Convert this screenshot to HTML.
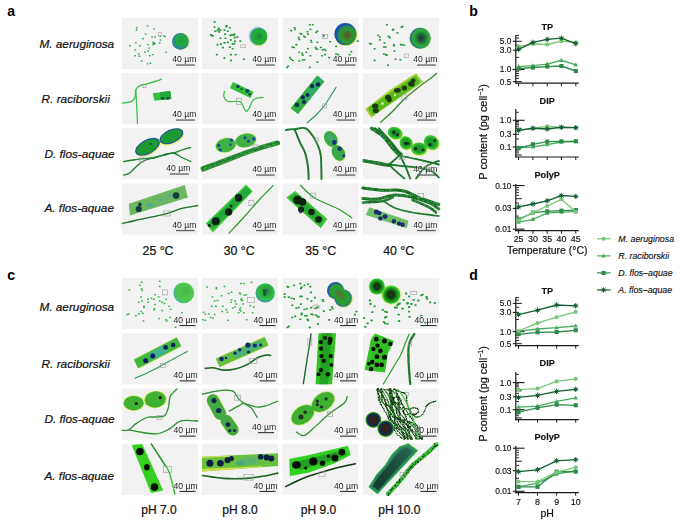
<!DOCTYPE html><html><head><meta charset="utf-8"><style>html,body{margin:0;padding:0;background:#fff}svg{display:block}</style></head><body><svg width="685" height="525" viewBox="0 0 685 525" font-family='"Liberation Sans", sans-serif'>
<rect width="685" height="525" fill="#fff"/>
<text x="7.3" y="16.4" font-size="14" text-anchor="start" font-weight="bold" font-style="normal" fill="#000" >a</text>
<text x="469.2" y="16.4" font-size="14" text-anchor="start" font-weight="bold" font-style="normal" fill="#000" >b</text>
<text x="7.3" y="279.6" font-size="14" text-anchor="start" font-weight="bold" font-style="normal" fill="#000" >c</text>
<text x="469.2" y="279.6" font-size="14" text-anchor="start" font-weight="bold" font-style="normal" fill="#000" >d</text>
<text x="76.8" y="47.7" font-size="11.8" text-anchor="middle" font-weight="normal" font-style="italic" fill="#111" stroke="#111" stroke-width="0.22">M. aeruginosa</text>
<text x="76.8" y="310.5" font-size="11.8" text-anchor="middle" font-weight="normal" font-style="italic" fill="#111" stroke="#111" stroke-width="0.22">M. aeruginosa</text>
<text x="75.7" y="103.4" font-size="11.8" text-anchor="middle" font-weight="normal" font-style="italic" fill="#111" stroke="#111" stroke-width="0.22">R. raciborskii</text>
<text x="75.7" y="367.7" font-size="11.8" text-anchor="middle" font-weight="normal" font-style="italic" fill="#111" stroke="#111" stroke-width="0.22">R. raciborskii</text>
<text x="79.5" y="157.7" font-size="11.8" text-anchor="middle" font-weight="normal" font-style="italic" fill="#111" stroke="#111" stroke-width="0.22">D. flos-aquae</text>
<text x="79.5" y="423.4" font-size="11.8" text-anchor="middle" font-weight="normal" font-style="italic" fill="#111" stroke="#111" stroke-width="0.22">D. flos-aquae</text>
<text x="79.2" y="211.8" font-size="11.8" text-anchor="middle" font-weight="normal" font-style="italic" fill="#111" stroke="#111" stroke-width="0.22">A. flos-aquae</text>
<text x="79.2" y="479.7" font-size="11.8" text-anchor="middle" font-weight="normal" font-style="italic" fill="#111" stroke="#111" stroke-width="0.22">A. flos-aquae</text>
<text x="158" y="255.1" font-size="12.3" text-anchor="middle" font-weight="normal" font-style="normal" fill="#111" stroke="#111" stroke-width="0.22">25 °C</text>
<text x="239.2" y="255.1" font-size="12.3" text-anchor="middle" font-weight="normal" font-style="normal" fill="#111" stroke="#111" stroke-width="0.22">30 °C</text>
<text x="320.7" y="255.1" font-size="12.3" text-anchor="middle" font-weight="normal" font-style="normal" fill="#111" stroke="#111" stroke-width="0.22">35 °C</text>
<text x="398.6" y="255.1" font-size="12.3" text-anchor="middle" font-weight="normal" font-style="normal" fill="#111" stroke="#111" stroke-width="0.22">40 °C</text>
<text x="158.9" y="514.3" font-size="12.0" text-anchor="middle" font-weight="normal" font-style="normal" fill="#111" stroke="#111" stroke-width="0.22">pH 7.0</text>
<text x="240" y="514.3" font-size="12.0" text-anchor="middle" font-weight="normal" font-style="normal" fill="#111" stroke="#111" stroke-width="0.22">pH 8.0</text>
<text x="318.5" y="514.3" font-size="12.0" text-anchor="middle" font-weight="normal" font-style="normal" fill="#111" stroke="#111" stroke-width="0.22">pH 9.0</text>
<text x="399.3" y="514.3" font-size="12.0" text-anchor="middle" font-weight="normal" font-style="normal" fill="#111" stroke="#111" stroke-width="0.22">pH 10.0</text>
<rect x="122" y="18" width="76" height="51" fill="#f2f2f2"/>
<rect x="202" y="18" width="76" height="51" fill="#f2f2f2"/>
<rect x="282.5" y="18" width="76" height="51" fill="#f2f2f2"/>
<rect x="363" y="18" width="76" height="51" fill="#f2f2f2"/>
<rect x="122" y="73" width="76" height="51" fill="#f2f2f2"/>
<rect x="202" y="73" width="76" height="51" fill="#f2f2f2"/>
<rect x="282.5" y="73" width="76" height="51" fill="#f2f2f2"/>
<rect x="363" y="73" width="76" height="51" fill="#f2f2f2"/>
<rect x="122" y="128" width="76" height="51" fill="#f2f2f2"/>
<rect x="202" y="128" width="76" height="51" fill="#f2f2f2"/>
<rect x="282.5" y="128" width="76" height="51" fill="#f2f2f2"/>
<rect x="363" y="128" width="76" height="51" fill="#f2f2f2"/>
<rect x="122" y="183.5" width="76" height="51" fill="#f2f2f2"/>
<rect x="202" y="183.5" width="76" height="51" fill="#f2f2f2"/>
<rect x="282.5" y="183.5" width="76" height="51" fill="#f2f2f2"/>
<rect x="363" y="183.5" width="76" height="51" fill="#f2f2f2"/>
<rect x="122" y="278" width="76" height="51" fill="#f2f2f2"/>
<rect x="202" y="278" width="76" height="51" fill="#f2f2f2"/>
<rect x="282.5" y="278" width="76" height="51" fill="#f2f2f2"/>
<rect x="363" y="278" width="76" height="51" fill="#f2f2f2"/>
<rect x="122" y="333.3" width="76" height="51" fill="#f2f2f2"/>
<rect x="202" y="333.3" width="76" height="51" fill="#f2f2f2"/>
<rect x="282.5" y="333.3" width="76" height="51" fill="#f2f2f2"/>
<rect x="363" y="333.3" width="76" height="51" fill="#f2f2f2"/>
<rect x="122" y="388.6" width="76" height="51" fill="#f2f2f2"/>
<rect x="202" y="388.6" width="76" height="51" fill="#f2f2f2"/>
<rect x="282.5" y="388.6" width="76" height="51" fill="#f2f2f2"/>
<rect x="363" y="388.6" width="76" height="51" fill="#f2f2f2"/>
<rect x="122" y="443.9" width="76" height="51" fill="#f2f2f2"/>
<rect x="202" y="443.9" width="76" height="51" fill="#f2f2f2"/>
<rect x="282.5" y="443.9" width="76" height="51" fill="#f2f2f2"/>
<rect x="363" y="443.9" width="76" height="51" fill="#f2f2f2"/>
<defs>
<filter id="bl" x="-5%" y="-5%" width="110%" height="110%"><feGaussianBlur stdDeviation="0.35"/></filter>
<filter id="bl2" x="-20%" y="-20%" width="140%" height="140%"><feGaussianBlur stdDeviation="0.7"/></filter>
<radialGradient id="ma1" cx="0.55" cy="0.45" r="0.5"><stop offset="0" stop-color="#1a9a40"/><stop offset="0.45" stop-color="#20b030"/><stop offset="0.75" stop-color="#2a9a70"/><stop offset="1" stop-color="#2a80a0"/></radialGradient>
<radialGradient id="ma2" cx="0.55" cy="0.5" r="0.5"><stop offset="0" stop-color="#2a6a40"/><stop offset="0.25" stop-color="#1e9a3a"/><stop offset="0.6" stop-color="#20b030"/><stop offset="0.88" stop-color="#22a848"/><stop offset="1" stop-color="#60a8c0"/></radialGradient>
<radialGradient id="ma3" cx="0.58" cy="0.55" r="0.5"><stop offset="0" stop-color="#6a5028"/><stop offset="0.25" stop-color="#4a7028"/><stop offset="0.55" stop-color="#2a9a30"/><stop offset="0.8" stop-color="#2a8a50"/><stop offset="1" stop-color="#1a50b0"/></radialGradient>
<radialGradient id="ma4" cx="0.55" cy="0.5" r="0.5"><stop offset="0" stop-color="#1e3a3a"/><stop offset="0.35" stop-color="#24603c"/><stop offset="0.65" stop-color="#28a038"/><stop offset="0.88" stop-color="#30a848"/><stop offset="1" stop-color="#2a6a90"/></radialGradient>
<radialGradient id="mc1" cx="0.62" cy="0.42" r="0.6"><stop offset="0" stop-color="#44b048"/><stop offset="0.5" stop-color="#50c848"/><stop offset="0.85" stop-color="#4cc458"/><stop offset="1" stop-color="#50b0a0"/></radialGradient>
<radialGradient id="mc2" cx="0.55" cy="0.4" r="0.6"><stop offset="0" stop-color="#2a6a40"/><stop offset="0.3" stop-color="#2aa040"/><stop offset="0.7" stop-color="#30c040"/><stop offset="1" stop-color="#3a9ab0"/></radialGradient>
<radialGradient id="mc3" cx="0.55" cy="0.55" r="0.5"><stop offset="0" stop-color="#6a5a20"/><stop offset="0.35" stop-color="#3a8a30"/><stop offset="0.7" stop-color="#2a9a30"/><stop offset="1" stop-color="#2060a0"/></radialGradient>
<radialGradient id="mc4" cx="0.5" cy="0.5" r="0.5"><stop offset="0" stop-color="#1a4a1a"/><stop offset="0.3" stop-color="#0e300e"/><stop offset="0.55" stop-color="#1a6a1a"/><stop offset="0.8" stop-color="#20b020"/><stop offset="1" stop-color="#30d030"/></radialGradient>
<radialGradient id="dk" cx="0.5" cy="0.5" r="0.5"><stop offset="0" stop-color="#3a2010"/><stop offset="0.5" stop-color="#2a2020"/><stop offset="0.75" stop-color="#102a60"/><stop offset="0.9" stop-color="#2a8a30"/><stop offset="1" stop-color="#d8f040"/></radialGradient>
</defs>
<g filter="url(#bl)">
<rect x="136.1" y="27.0" width="1.7" height="1.4" rx="0.4" fill="#22a845"/>
<rect x="135.6" y="29.3" width="1.7" height="1.4" rx="0.4" fill="#22a845"/>
<rect x="146.7" y="25.2" width="1.7" height="1.4" rx="0.4" fill="#22a845"/>
<rect x="153.1" y="28.2" width="1.7" height="1.4" rx="0.4" fill="#22a845"/>
<rect x="144.8" y="33.4" width="1.7" height="1.4" rx="0.4" fill="#22a845"/>
<rect x="151.2" y="36.3" width="1.7" height="1.4" rx="0.4" fill="#22a845"/>
<rect x="154.2" y="36.3" width="1.7" height="1.4" rx="0.4" fill="#22a845"/>
<rect x="159.5" y="35.7" width="1.7" height="1.4" rx="0.4" fill="#22a845"/>
<rect x="163.0" y="35.2" width="1.7" height="1.4" rx="0.4" fill="#22a845"/>
<rect x="142.0" y="38.1" width="1.7" height="1.4" rx="0.4" fill="#22a845"/>
<rect x="159.5" y="39.3" width="1.7" height="1.4" rx="0.4" fill="#22a845"/>
<rect x="158.8" y="42.2" width="1.7" height="1.4" rx="0.4" fill="#22a845"/>
<rect x="153.1" y="42.8" width="1.7" height="1.4" rx="0.4" fill="#22a845"/>
<rect x="147.2" y="43.9" width="1.7" height="1.4" rx="0.4" fill="#22a845"/>
<rect x="139.1" y="45.1" width="1.7" height="1.4" rx="0.4" fill="#22a845"/>
<rect x="135.0" y="42.2" width="1.7" height="1.4" rx="0.4" fill="#22a845"/>
<rect x="129.1" y="45.1" width="1.7" height="1.4" rx="0.4" fill="#22a845"/>
<rect x="148.3" y="47.4" width="1.7" height="1.4" rx="0.4" fill="#22a845"/>
<rect x="147.2" y="50.3" width="1.7" height="1.4" rx="0.4" fill="#22a845"/>
<rect x="144.2" y="51.5" width="1.7" height="1.4" rx="0.4" fill="#22a845"/>
<rect x="134.3" y="49.2" width="1.7" height="1.4" rx="0.4" fill="#22a845"/>
<rect x="137.8" y="53.3" width="1.7" height="1.4" rx="0.4" fill="#22a845"/>
<rect x="134.3" y="55.0" width="1.7" height="1.4" rx="0.4" fill="#22a845"/>
<rect x="138.5" y="55.6" width="1.7" height="1.4" rx="0.4" fill="#22a845"/>
<rect x="151.8" y="53.9" width="1.7" height="1.4" rx="0.4" fill="#22a845"/>
<rect x="149.0" y="55.0" width="1.7" height="1.4" rx="0.4" fill="#22a845"/>
<rect x="140.8" y="60.3" width="1.7" height="1.4" rx="0.4" fill="#22a845"/>
<rect x="146.7" y="63.2" width="1.7" height="1.4" rx="0.4" fill="#22a845"/>
<rect x="149.6" y="62.6" width="1.7" height="1.4" rx="0.4" fill="#22a845"/>
<rect x="165.2" y="51.5" width="1.7" height="1.4" rx="0.4" fill="#22a845"/>
<rect x="164.2" y="35.8" width="1.7" height="1.4" rx="0.4" fill="#22a845"/>
<polygon points="152.5,41.0 156.0,43.5 152.5,46.0" fill="#22a845" />
<circle cx="181.2" cy="41.2" r="8.6" fill="#e6f060"/>
<circle cx="180.4" cy="41.4" r="8.4" fill="url(#ma1)"/>
<rect x="158.4" y="32.7" width="3.2" height="3.2" fill="none" stroke="#9a9a9a" stroke-width="0.6"/>
<rect x="213.5" y="21.0" width="2.1" height="1.7" rx="0.4" fill="#249a3c"/>
<rect x="213.5" y="26.3" width="2.1" height="1.7" rx="0.4" fill="#249a3c"/>
<rect x="225.2" y="25.7" width="2.1" height="1.7" rx="0.4" fill="#249a3c"/>
<rect x="228.8" y="26.9" width="2.1" height="1.7" rx="0.4" fill="#249a3c"/>
<rect x="214.1" y="30.4" width="2.1" height="1.7" rx="0.4" fill="#249a3c"/>
<rect x="217.6" y="28.6" width="2.1" height="1.7" rx="0.4" fill="#249a3c"/>
<rect x="219.3" y="29.2" width="2.1" height="1.7" rx="0.4" fill="#249a3c"/>
<rect x="218.2" y="31.0" width="2.1" height="1.7" rx="0.4" fill="#249a3c"/>
<rect x="223.4" y="29.2" width="2.1" height="1.7" rx="0.4" fill="#249a3c"/>
<rect x="224.0" y="33.3" width="2.1" height="1.7" rx="0.4" fill="#249a3c"/>
<rect x="226.9" y="30.4" width="2.1" height="1.7" rx="0.4" fill="#249a3c"/>
<rect x="210.6" y="34.5" width="2.1" height="1.7" rx="0.4" fill="#249a3c"/>
<rect x="211.8" y="35.1" width="2.1" height="1.7" rx="0.4" fill="#249a3c"/>
<rect x="219.3" y="37.4" width="2.1" height="1.7" rx="0.4" fill="#249a3c"/>
<rect x="224.6" y="37.4" width="2.1" height="1.7" rx="0.4" fill="#249a3c"/>
<rect x="229.3" y="34.5" width="2.1" height="1.7" rx="0.4" fill="#249a3c"/>
<rect x="231.6" y="33.9" width="2.1" height="1.7" rx="0.4" fill="#249a3c"/>
<rect x="233.4" y="33.3" width="2.1" height="1.7" rx="0.4" fill="#249a3c"/>
<rect x="233.9" y="36.8" width="2.1" height="1.7" rx="0.4" fill="#249a3c"/>
<rect x="236.3" y="36.2" width="2.1" height="1.7" rx="0.4" fill="#249a3c"/>
<rect x="229.9" y="39.1" width="2.1" height="1.7" rx="0.4" fill="#249a3c"/>
<rect x="233.9" y="40.3" width="2.1" height="1.7" rx="0.4" fill="#249a3c"/>
<rect x="239.2" y="40.3" width="2.1" height="1.7" rx="0.4" fill="#249a3c"/>
<rect x="216.4" y="43.8" width="2.1" height="1.7" rx="0.4" fill="#249a3c"/>
<rect x="219.9" y="43.2" width="2.1" height="1.7" rx="0.4" fill="#249a3c"/>
<rect x="223.4" y="42.1" width="2.1" height="1.7" rx="0.4" fill="#249a3c"/>
<rect x="226.9" y="41.5" width="2.1" height="1.7" rx="0.4" fill="#249a3c"/>
<rect x="231.6" y="43.2" width="2.1" height="1.7" rx="0.4" fill="#249a3c"/>
<rect x="233.4" y="42.7" width="2.1" height="1.7" rx="0.4" fill="#249a3c"/>
<rect x="221.8" y="46.7" width="2.1" height="1.7" rx="0.4" fill="#249a3c"/>
<rect x="228.8" y="46.2" width="2.1" height="1.7" rx="0.4" fill="#249a3c"/>
<rect x="231.6" y="47.9" width="2.1" height="1.7" rx="0.4" fill="#249a3c"/>
<rect x="215.8" y="53.8" width="2.1" height="1.7" rx="0.4" fill="#249a3c"/>
<rect x="229.9" y="53.8" width="2.1" height="1.7" rx="0.4" fill="#249a3c"/>
<rect x="234.5" y="53.8" width="2.1" height="1.7" rx="0.4" fill="#249a3c"/>
<rect x="223.4" y="57.3" width="2.1" height="1.7" rx="0.4" fill="#249a3c"/>
<rect x="229.9" y="59.6" width="2.1" height="1.7" rx="0.4" fill="#249a3c"/>
<rect x="242.8" y="58.4" width="2.1" height="1.7" rx="0.4" fill="#249a3c"/>
<rect x="216.4" y="29.8" width="2.1" height="1.7" rx="0.4" fill="#249a3c"/>
<rect x="230.4" y="33.9" width="2.1" height="1.7" rx="0.4" fill="#249a3c"/>
<rect x="232.8" y="34.5" width="2.1" height="1.7" rx="0.4" fill="#249a3c"/>
<rect x="210.0" y="33.9" width="2.1" height="1.7" rx="0.4" fill="#249a3c"/>
<rect x="217.6" y="27.5" width="2.1" height="1.7" rx="0.4" fill="#249a3c"/>
<rect x="225.8" y="25.1" width="2.1" height="1.7" rx="0.4" fill="#249a3c"/>
<circle cx="257.8" cy="35.8" r="9.7" fill="#b8d0e8" opacity="0.6" filter="url(#bl2)"/>
<circle cx="258.6" cy="37.4" r="9" fill="#d8e860"/>
<circle cx="258.4" cy="36.4" r="8.9" fill="url(#ma2)"/>
<rect x="240.8" y="44.9" width="4.5" height="2.8" fill="none" stroke="#9a9a9a" stroke-width="0.6"/>
<rect x="290.1" y="29.8" width="2.0" height="1.6" rx="0.4" fill="#229a38"/>
<rect x="293.6" y="26.9" width="2.0" height="1.6" rx="0.4" fill="#229a38"/>
<rect x="294.2" y="28.6" width="2.0" height="1.6" rx="0.4" fill="#229a38"/>
<rect x="299.4" y="32.7" width="2.0" height="1.6" rx="0.4" fill="#229a38"/>
<rect x="300.6" y="33.3" width="2.0" height="1.6" rx="0.4" fill="#229a38"/>
<rect x="306.5" y="31.0" width="2.0" height="1.6" rx="0.4" fill="#229a38"/>
<rect x="307.0" y="33.3" width="2.0" height="1.6" rx="0.4" fill="#229a38"/>
<rect x="308.8" y="24.0" width="2.0" height="1.6" rx="0.4" fill="#229a38"/>
<rect x="311.7" y="24.0" width="2.0" height="1.6" rx="0.4" fill="#229a38"/>
<rect x="309.4" y="28.6" width="2.0" height="1.6" rx="0.4" fill="#229a38"/>
<rect x="316.4" y="30.4" width="2.0" height="1.6" rx="0.4" fill="#229a38"/>
<rect x="315.2" y="31.6" width="2.0" height="1.6" rx="0.4" fill="#229a38"/>
<rect x="297.7" y="36.8" width="2.0" height="1.6" rx="0.4" fill="#229a38"/>
<rect x="298.3" y="38.6" width="2.0" height="1.6" rx="0.4" fill="#229a38"/>
<rect x="302.9" y="35.6" width="2.0" height="1.6" rx="0.4" fill="#229a38"/>
<rect x="304.1" y="36.2" width="2.0" height="1.6" rx="0.4" fill="#229a38"/>
<rect x="310.0" y="39.7" width="2.0" height="1.6" rx="0.4" fill="#229a38"/>
<rect x="310.5" y="41.5" width="2.0" height="1.6" rx="0.4" fill="#229a38"/>
<rect x="316.4" y="41.5" width="2.0" height="1.6" rx="0.4" fill="#229a38"/>
<rect x="322.8" y="35.1" width="2.0" height="1.6" rx="0.4" fill="#229a38"/>
<rect x="329.2" y="40.9" width="2.0" height="1.6" rx="0.4" fill="#229a38"/>
<rect x="335.1" y="45.6" width="2.0" height="1.6" rx="0.4" fill="#229a38"/>
<rect x="291.3" y="46.2" width="2.0" height="1.6" rx="0.4" fill="#229a38"/>
<rect x="293.0" y="46.7" width="2.0" height="1.6" rx="0.4" fill="#229a38"/>
<rect x="295.4" y="43.8" width="2.0" height="1.6" rx="0.4" fill="#229a38"/>
<rect x="307.0" y="47.9" width="2.0" height="1.6" rx="0.4" fill="#229a38"/>
<rect x="314.6" y="46.7" width="2.0" height="1.6" rx="0.4" fill="#229a38"/>
<rect x="315.2" y="47.9" width="2.0" height="1.6" rx="0.4" fill="#229a38"/>
<rect x="316.4" y="48.5" width="2.0" height="1.6" rx="0.4" fill="#229a38"/>
<rect x="319.9" y="46.7" width="2.0" height="1.6" rx="0.4" fill="#229a38"/>
<rect x="321.6" y="49.1" width="2.0" height="1.6" rx="0.4" fill="#229a38"/>
<rect x="323.4" y="48.5" width="2.0" height="1.6" rx="0.4" fill="#229a38"/>
<rect x="324.6" y="49.7" width="2.0" height="1.6" rx="0.4" fill="#229a38"/>
<rect x="298.3" y="51.4" width="2.0" height="1.6" rx="0.4" fill="#229a38"/>
<rect x="301.2" y="52.6" width="2.0" height="1.6" rx="0.4" fill="#229a38"/>
<rect x="301.8" y="54.3" width="2.0" height="1.6" rx="0.4" fill="#229a38"/>
<rect x="305.3" y="51.4" width="2.0" height="1.6" rx="0.4" fill="#229a38"/>
<rect x="309.4" y="54.9" width="2.0" height="1.6" rx="0.4" fill="#229a38"/>
<rect x="321.1" y="54.9" width="2.0" height="1.6" rx="0.4" fill="#229a38"/>
<rect x="324.0" y="53.8" width="2.0" height="1.6" rx="0.4" fill="#229a38"/>
<rect x="328.1" y="56.7" width="2.0" height="1.6" rx="0.4" fill="#229a38"/>
<rect x="335.1" y="53.2" width="2.0" height="1.6" rx="0.4" fill="#229a38"/>
<rect x="337.4" y="53.8" width="2.0" height="1.6" rx="0.4" fill="#229a38"/>
<rect x="348.5" y="53.8" width="2.0" height="1.6" rx="0.4" fill="#229a38"/>
<rect x="350.3" y="50.8" width="2.0" height="1.6" rx="0.4" fill="#229a38"/>
<rect x="288.9" y="56.7" width="2.0" height="1.6" rx="0.4" fill="#229a38"/>
<rect x="290.1" y="58.4" width="2.0" height="1.6" rx="0.4" fill="#229a38"/>
<rect x="291.9" y="59.6" width="2.0" height="1.6" rx="0.4" fill="#229a38"/>
<rect x="298.3" y="60.2" width="2.0" height="1.6" rx="0.4" fill="#229a38"/>
<rect x="301.8" y="59.0" width="2.0" height="1.6" rx="0.4" fill="#229a38"/>
<rect x="303.5" y="59.0" width="2.0" height="1.6" rx="0.4" fill="#229a38"/>
<rect x="316.4" y="61.3" width="2.0" height="1.6" rx="0.4" fill="#229a38"/>
<rect x="287.2" y="65.4" width="2.0" height="1.6" rx="0.4" fill="#229a38"/>
<rect x="286.0" y="66.6" width="2.0" height="1.6" rx="0.4" fill="#229a38"/>
<rect x="308.8" y="66.6" width="2.0" height="1.6" rx="0.4" fill="#229a38"/>
<rect x="356.7" y="40.3" width="2.0" height="1.6" rx="0.4" fill="#229a38"/>
<circle cx="346" cy="34.8" r="11.1" fill="#c8e040"/>
<circle cx="345.4" cy="34.1" r="11" fill="url(#ma3)"/>
<rect x="322.6" y="34.5" width="4.8" height="3.8" fill="none" stroke="#9a9a9a" stroke-width="0.6"/>
<rect x="385.9" y="24.0" width="2.0" height="1.6" rx="0.4" fill="#23963a"/>
<rect x="392.3" y="28.6" width="2.0" height="1.6" rx="0.4" fill="#23963a"/>
<rect x="391.7" y="29.2" width="2.0" height="1.6" rx="0.4" fill="#23963a"/>
<rect x="396.4" y="32.1" width="2.0" height="1.6" rx="0.4" fill="#23963a"/>
<rect x="400.5" y="26.3" width="2.0" height="1.6" rx="0.4" fill="#23963a"/>
<rect x="401.6" y="25.7" width="2.0" height="1.6" rx="0.4" fill="#23963a"/>
<rect x="377.1" y="34.5" width="2.0" height="1.6" rx="0.4" fill="#23963a"/>
<rect x="378.9" y="36.2" width="2.0" height="1.6" rx="0.4" fill="#23963a"/>
<rect x="378.9" y="39.1" width="2.0" height="1.6" rx="0.4" fill="#23963a"/>
<rect x="387.6" y="35.6" width="2.0" height="1.6" rx="0.4" fill="#23963a"/>
<rect x="388.8" y="36.8" width="2.0" height="1.6" rx="0.4" fill="#23963a"/>
<rect x="368.9" y="42.7" width="2.0" height="1.6" rx="0.4" fill="#23963a"/>
<rect x="370.1" y="43.2" width="2.0" height="1.6" rx="0.4" fill="#23963a"/>
<rect x="383.5" y="42.1" width="2.0" height="1.6" rx="0.4" fill="#23963a"/>
<rect x="382.9" y="46.2" width="2.0" height="1.6" rx="0.4" fill="#23963a"/>
<rect x="384.7" y="46.2" width="2.0" height="1.6" rx="0.4" fill="#23963a"/>
<rect x="392.9" y="43.8" width="2.0" height="1.6" rx="0.4" fill="#23963a"/>
<rect x="392.9" y="45.0" width="2.0" height="1.6" rx="0.4" fill="#23963a"/>
<rect x="399.9" y="43.8" width="2.0" height="1.6" rx="0.4" fill="#23963a"/>
<rect x="401.6" y="43.8" width="2.0" height="1.6" rx="0.4" fill="#23963a"/>
<rect x="403.4" y="44.4" width="2.0" height="1.6" rx="0.4" fill="#23963a"/>
<rect x="373.6" y="47.9" width="2.0" height="1.6" rx="0.4" fill="#23963a"/>
<rect x="393.5" y="50.2" width="2.0" height="1.6" rx="0.4" fill="#23963a"/>
<rect x="382.9" y="53.2" width="2.0" height="1.6" rx="0.4" fill="#23963a"/>
<rect x="384.7" y="53.8" width="2.0" height="1.6" rx="0.4" fill="#23963a"/>
<rect x="385.9" y="54.3" width="2.0" height="1.6" rx="0.4" fill="#23963a"/>
<rect x="394.6" y="58.4" width="2.0" height="1.6" rx="0.4" fill="#23963a"/>
<rect x="399.3" y="59.0" width="2.0" height="1.6" rx="0.4" fill="#23963a"/>
<rect x="373.6" y="59.6" width="2.0" height="1.6" rx="0.4" fill="#23963a"/>
<rect x="387.0" y="64.3" width="2.0" height="1.6" rx="0.4" fill="#23963a"/>
<circle cx="420.2" cy="38.4" r="10.6" fill="#88d040"/>
<circle cx="420.2" cy="38.2" r="10.4" fill="url(#ma4)"/>
<rect x="404.6" y="54.0" width="3.8" height="3.4" fill="none" stroke="#9a9a9a" stroke-width="0.6"/>
<path d="M122.3,103.1 C123.9,102.8 129.5,102.5 131.7,101.4 C133.8,100.3 134.5,98.7 135.2,96.7 C135.9,94.8 135.0,91.6 135.8,89.7 C136.6,87.8 138.1,86.6 139.9,85.6 C141.8,84.6 144.4,84.6 146.9,83.9 C149.4,83.2 152.6,82.3 155.0,81.5 C157.4,80.7 160.4,79.6 161.5,79.2" fill="none" stroke="#40c048" stroke-width="1.4" stroke-linecap="round" stroke-linejoin="round"/>
<path d="M135.8,89.7 C135.9,91.5 136.1,94.6 136.4,100.2 C136.7,105.8 137.3,119.6 137.5,123.5" fill="none" stroke="#40c048" stroke-width="1.3" stroke-linecap="round" stroke-linejoin="round"/>
<polygon points="152.7,93.2 170.2,90.9 171.4,99.0 154.5,100.8" fill="#30c040" />
<polygon points="160.0,92.3 170.2,90.9 171.4,99.0 160.5,100.0" fill="#22a838" />
<ellipse cx="162.6" cy="98.3" rx="1.9" ry="1.4" fill="#105040"/>
<ellipse cx="167.9" cy="98.4" rx="1.6" ry="1.3" fill="#105040"/>
<rect x="143.0" y="84.7" width="3" height="3" fill="none" stroke="#9a9a9a" stroke-width="0.6"/>
<rect x="-11.5" y="-3.4" width="23.0" height="6.8" rx="0.8" fill="#30c038" transform="translate(241.7,90.0) rotate(25.8)" />
<ellipse cx="238" cy="86.4" rx="1.7" ry="1.7" fill="#0a3a5a"/>
<ellipse cx="241.5" cy="89.1" rx="1.1" ry="1.1" fill="#0a3a5a"/>
<ellipse cx="247.3" cy="91" rx="1.9" ry="1.9" fill="#0a3a5a"/>
<ellipse cx="249.6" cy="94.2" rx="1.2" ry="1.2" fill="#0a3a5a"/>
<path d="M224.5,91.4 C224.4,92.3 223.3,95.0 223.9,96.7 C224.5,98.4 226.2,100.6 228.0,101.4 C229.8,102.2 232.8,101.2 235.0,101.4 C237.2,101.6 239.1,100.7 240.9,102.3 C242.7,103.9 244.2,110.0 245.6,111.0 C247.0,112.0 247.8,110.3 249.1,108.4 C250.4,106.5 251.4,101.3 253.7,99.5 C256.0,97.7 261.5,97.7 263.1,97.3" fill="none" stroke="#40c048" stroke-width="1.3" stroke-linecap="round" stroke-linejoin="round"/>
<rect x="236.6" y="98.4" width="5" height="6" fill="none" stroke="#9a9a9a" stroke-width="0.6"/>
<rect x="-21.1" y="-4.8" width="42.2" height="9.6" rx="0.8" fill="#30b040" transform="translate(307.6,94.8) rotate(-51.1)" />
<rect x="-12.7" y="-3.0" width="25.4" height="6.0" rx="0.8" fill="#30a890" transform="translate(313.4,88.7) rotate(-54.3)" opacity="0.6"/>
<ellipse cx="296.9" cy="104.9" rx="2.2" ry="2.2" fill="#0a2a50"/>
<ellipse cx="302.8" cy="97.3" rx="2.1" ry="2.1" fill="#0a2a50"/>
<ellipse cx="304" cy="102" rx="2" ry="2" fill="#0a2a50"/>
<ellipse cx="307.5" cy="95" rx="2" ry="2" fill="#0a2a50"/>
<ellipse cx="312.1" cy="86.2" rx="2.1" ry="2.1" fill="#0a2a50"/>
<ellipse cx="318" cy="84.4" rx="2.2" ry="2.2" fill="#0a2a50"/>
<path d="M306.9,123.0 C308.2,121.8 312.3,118.6 315.0,116.0 C317.7,113.4 320.7,110.4 323.2,107.2 C325.7,104.0 327.9,100.3 330.0,97.0 C332.1,93.7 335.1,89.0 336.1,87.4" fill="none" stroke="#2a9a60" stroke-width="1.1" stroke-linecap="round" stroke-linejoin="round"/>
<rect x="322.4" y="104.0" width="4" height="4" fill="none" stroke="#9a9a9a" stroke-width="0.6"/>
<polygon points="365.3,109.0 371.1,117.7 395.0,101.0 423.1,82.1 416.1,73.3 390.0,90.0" fill="#a0d030" />
<rect x="-29.1" y="-4.5" width="58.2" height="9.0" rx="2.0" fill="#58b820" transform="translate(394.0,95.5) rotate(-34.5)" />
<ellipse cx="375.2" cy="106" rx="3.2" ry="2.6" fill="#1a3a10"/>
<ellipse cx="375.8" cy="110.7" rx="3" ry="2.4" fill="#1a3a10"/>
<ellipse cx="388" cy="97.3" rx="3" ry="2.6" fill="#1a3a10"/>
<ellipse cx="389.2" cy="99.6" rx="2.6" ry="2.6" fill="#1a3a10"/>
<ellipse cx="397.4" cy="90.3" rx="3.4" ry="2.4" fill="#1a3a10"/>
<ellipse cx="404.4" cy="88" rx="2.6" ry="2.6" fill="#1a3a10"/>
<ellipse cx="411.4" cy="83.9" rx="3.2" ry="2.6" fill="#1a3a10"/>
<ellipse cx="413.2" cy="80.8" rx="2.4" ry="2.4" fill="#1a3a10"/>
<ellipse cx="382.5" cy="103.5" rx="1.4" ry="1.4" fill="#c8f080"/>
<ellipse cx="395" cy="95" rx="1.2" ry="1.2" fill="#c8f080"/>
<path d="M380.4,122.4 C382.3,120.7 388.0,115.9 392.0,112.0 C396.0,108.1 399.7,103.3 404.4,99.0 C409.1,94.7 415.6,89.5 420.0,86.0 C424.4,82.5 428.2,80.1 431.0,78.0 C433.8,75.9 435.6,74.1 436.5,73.3" fill="none" stroke="#3a8a2a" stroke-width="1.3" stroke-linecap="round" stroke-linejoin="round"/>
<rect x="401.9" y="94.8" width="5" height="5" fill="none" stroke="#9a9a9a" stroke-width="0.6"/>
<path d="M123.5,161.6 C125.1,161.3 129.7,160.5 133.0,160.0 C136.3,159.5 139.7,159.1 143.4,158.7 C147.1,158.3 151.1,158.3 155.0,157.5 C158.9,156.7 163.6,154.8 166.7,154.0 C169.8,153.2 171.1,153.6 173.7,152.9 C176.2,152.2 179.2,150.9 182.0,150.0 C184.8,149.1 189.2,147.8 190.7,147.3" fill="none" stroke="#1a7a30" stroke-width="1.3" stroke-linecap="round" stroke-linejoin="round"/>
<circle cx="123.3" cy="161.5" r="0.39" fill="#3aa040"/>
<circle cx="123.9" cy="161.4" r="0.40" fill="#3aa040"/>
<circle cx="125.1" cy="161.4" r="0.31" fill="#3aa040"/>
<circle cx="125.9" cy="161.1" r="0.44" fill="#3aa040"/>
<circle cx="126.8" cy="161.2" r="0.35" fill="#3aa040"/>
<circle cx="128.1" cy="160.7" r="0.43" fill="#3aa040"/>
<circle cx="129.3" cy="160.6" r="0.37" fill="#3aa040"/>
<circle cx="132.8" cy="160.2" r="0.44" fill="#3aa040"/>
<circle cx="134.1" cy="160.0" r="0.39" fill="#3aa040"/>
<circle cx="135.2" cy="159.8" r="0.32" fill="#3aa040"/>
<circle cx="135.9" cy="159.3" r="0.34" fill="#3aa040"/>
<circle cx="137.0" cy="159.5" r="0.41" fill="#3aa040"/>
<circle cx="141.1" cy="158.8" r="0.38" fill="#3aa040"/>
<circle cx="142.4" cy="158.6" r="0.32" fill="#3aa040"/>
<circle cx="144.5" cy="158.4" r="0.35" fill="#3aa040"/>
<circle cx="146.7" cy="158.3" r="0.36" fill="#3aa040"/>
<circle cx="148.7" cy="158.3" r="0.31" fill="#3aa040"/>
<circle cx="149.9" cy="158.0" r="0.32" fill="#3aa040"/>
<circle cx="150.8" cy="158.3" r="0.36" fill="#3aa040"/>
<circle cx="151.9" cy="157.9" r="0.35" fill="#3aa040"/>
<circle cx="152.9" cy="157.6" r="0.31" fill="#3aa040"/>
<circle cx="154.1" cy="157.8" r="0.43" fill="#3aa040"/>
<circle cx="154.9" cy="157.6" r="0.43" fill="#3aa040"/>
<circle cx="155.8" cy="157.2" r="0.33" fill="#3aa040"/>
<circle cx="156.9" cy="156.8" r="0.42" fill="#3aa040"/>
<circle cx="158.4" cy="156.5" r="0.32" fill="#3aa040"/>
<circle cx="160.4" cy="155.9" r="0.39" fill="#3aa040"/>
<circle cx="161.9" cy="155.5" r="0.37" fill="#3aa040"/>
<circle cx="162.8" cy="155.3" r="0.36" fill="#3aa040"/>
<circle cx="163.6" cy="155.0" r="0.40" fill="#3aa040"/>
<circle cx="165.9" cy="154.1" r="0.42" fill="#3aa040"/>
<circle cx="166.7" cy="153.8" r="0.35" fill="#3aa040"/>
<circle cx="168.1" cy="153.8" r="0.37" fill="#3aa040"/>
<circle cx="169.5" cy="153.6" r="0.41" fill="#3aa040"/>
<circle cx="170.5" cy="153.6" r="0.33" fill="#3aa040"/>
<circle cx="171.6" cy="153.2" r="0.35" fill="#3aa040"/>
<circle cx="173.5" cy="152.8" r="0.34" fill="#3aa040"/>
<circle cx="174.6" cy="152.8" r="0.30" fill="#3aa040"/>
<circle cx="175.7" cy="152.3" r="0.36" fill="#3aa040"/>
<circle cx="177.6" cy="151.3" r="0.36" fill="#3aa040"/>
<circle cx="178.8" cy="150.9" r="0.29" fill="#3aa040"/>
<circle cx="180.0" cy="150.6" r="0.42" fill="#3aa040"/>
<circle cx="180.9" cy="150.5" r="0.33" fill="#3aa040"/>
<circle cx="182.2" cy="150.0" r="0.34" fill="#3aa040"/>
<circle cx="183.2" cy="149.5" r="0.35" fill="#3aa040"/>
<circle cx="184.6" cy="149.3" r="0.37" fill="#3aa040"/>
<circle cx="186.8" cy="148.6" r="0.37" fill="#3aa040"/>
<circle cx="188.0" cy="148.3" r="0.33" fill="#3aa040"/>
<circle cx="188.9" cy="148.0" r="0.39" fill="#3aa040"/>
<circle cx="190.3" cy="147.7" r="0.30" fill="#3aa040"/>
<circle cx="190.7" cy="147.6" r="0.31" fill="#3aa040"/>
<path d="M123.5,175.0 C124.5,174.7 127.2,174.6 129.3,173.3 C131.4,172.0 133.7,169.1 136.0,167.0 C138.3,164.9 140.2,162.6 143.4,161.0 C146.6,159.4 151.1,158.6 155.0,157.5 C158.9,156.4 163.6,155.2 166.7,154.5 C169.8,153.8 171.2,152.5 173.7,153.0 C176.2,153.5 179.1,156.1 181.9,157.5 C184.7,158.9 189.2,160.9 190.7,161.6" fill="none" stroke="#1a7a30" stroke-width="1.3" stroke-linecap="round" stroke-linejoin="round"/>
<circle cx="124.5" cy="174.7" r="0.36" fill="#3aa040"/>
<circle cx="126.6" cy="174.2" r="0.43" fill="#3aa040"/>
<circle cx="129.1" cy="173.3" r="0.37" fill="#3aa040"/>
<circle cx="130.0" cy="172.8" r="0.31" fill="#3aa040"/>
<circle cx="130.7" cy="172.1" r="0.37" fill="#3aa040"/>
<circle cx="131.9" cy="171.2" r="0.34" fill="#3aa040"/>
<circle cx="132.8" cy="170.3" r="0.33" fill="#3aa040"/>
<circle cx="133.5" cy="169.4" r="0.32" fill="#3aa040"/>
<circle cx="134.3" cy="168.7" r="0.29" fill="#3aa040"/>
<circle cx="134.9" cy="167.7" r="0.42" fill="#3aa040"/>
<circle cx="137.6" cy="165.8" r="0.34" fill="#3aa040"/>
<circle cx="138.4" cy="164.8" r="0.36" fill="#3aa040"/>
<circle cx="139.2" cy="164.2" r="0.31" fill="#3aa040"/>
<circle cx="139.9" cy="163.3" r="0.39" fill="#3aa040"/>
<circle cx="140.6" cy="162.7" r="0.39" fill="#3aa040"/>
<circle cx="141.4" cy="162.2" r="0.33" fill="#3aa040"/>
<circle cx="147.5" cy="159.5" r="0.30" fill="#3aa040"/>
<circle cx="150.5" cy="158.5" r="0.40" fill="#3aa040"/>
<circle cx="151.9" cy="158.1" r="0.35" fill="#3aa040"/>
<circle cx="152.8" cy="157.9" r="0.30" fill="#3aa040"/>
<circle cx="153.7" cy="157.7" r="0.38" fill="#3aa040"/>
<circle cx="154.8" cy="157.7" r="0.40" fill="#3aa040"/>
<circle cx="155.9" cy="157.2" r="0.43" fill="#3aa040"/>
<circle cx="157.1" cy="157.1" r="0.34" fill="#3aa040"/>
<circle cx="158.1" cy="156.8" r="0.39" fill="#3aa040"/>
<circle cx="159.4" cy="156.2" r="0.36" fill="#3aa040"/>
<circle cx="160.3" cy="156.1" r="0.40" fill="#3aa040"/>
<circle cx="161.5" cy="155.8" r="0.34" fill="#3aa040"/>
<circle cx="162.9" cy="155.7" r="0.34" fill="#3aa040"/>
<circle cx="163.9" cy="155.2" r="0.38" fill="#3aa040"/>
<circle cx="168.3" cy="154.2" r="0.40" fill="#3aa040"/>
<circle cx="169.5" cy="153.4" r="0.32" fill="#3aa040"/>
<circle cx="170.4" cy="153.1" r="0.39" fill="#3aa040"/>
<circle cx="171.6" cy="152.9" r="0.42" fill="#3aa040"/>
<circle cx="172.8" cy="152.8" r="0.41" fill="#3aa040"/>
<circle cx="173.7" cy="152.9" r="0.42" fill="#3aa040"/>
<circle cx="174.7" cy="153.1" r="0.37" fill="#3aa040"/>
<circle cx="175.4" cy="153.8" r="0.37" fill="#3aa040"/>
<circle cx="179.0" cy="155.6" r="0.44" fill="#3aa040"/>
<circle cx="179.8" cy="156.4" r="0.33" fill="#3aa040"/>
<circle cx="180.8" cy="156.8" r="0.37" fill="#3aa040"/>
<circle cx="182.1" cy="157.4" r="0.33" fill="#3aa040"/>
<circle cx="182.6" cy="157.9" r="0.34" fill="#3aa040"/>
<circle cx="184.0" cy="158.3" r="0.41" fill="#3aa040"/>
<circle cx="186.1" cy="159.4" r="0.30" fill="#3aa040"/>
<circle cx="187.5" cy="160.2" r="0.42" fill="#3aa040"/>
<circle cx="188.4" cy="160.7" r="0.39" fill="#3aa040"/>
<circle cx="189.1" cy="161.2" r="0.38" fill="#3aa040"/>
<circle cx="190.0" cy="161.5" r="0.43" fill="#3aa040"/>
<circle cx="190.6" cy="161.4" r="0.39" fill="#3aa040"/>
<ellipse cx="0" cy="0" rx="13.8" ry="7.6" fill="#e8f070" transform="translate(148.3,147.6) rotate(-28)" />
<ellipse cx="0" cy="0" rx="13" ry="7.2" fill="#e8f070" transform="translate(172.1,137) rotate(-24)" />
<ellipse cx="0" cy="0" rx="13.4" ry="7.2" fill="#2050a0" transform="translate(147.5,146.8) rotate(-28)" />
<ellipse cx="0" cy="0" rx="12.6" ry="6.8" fill="#2050a0" transform="translate(171.4,136.2) rotate(-24)" />
<ellipse cx="0" cy="0" rx="12.2" ry="6.1" fill="#1f9a30" transform="translate(147.5,146.8) rotate(-28)" />
<ellipse cx="0" cy="0" rx="11.4" ry="5.7" fill="#1f9a30" transform="translate(171.4,136.2) rotate(-24)" />
<ellipse cx="150.6" cy="143.8" rx="0.9" ry="0.9" fill="#0a2a20"/>
<rect x="139.1" y="157.9" width="5" height="4" fill="none" stroke="#9a9a9a" stroke-width="0.6"/>
<ellipse cx="0" cy="0" rx="10.8" ry="7.5" fill="#c8f070" transform="translate(225.8,145.2) rotate(-12)" />
<ellipse cx="0" cy="0" rx="11" ry="7.3" fill="#c8f070" transform="translate(245.8,140.4) rotate(-10)" />
<ellipse cx="0" cy="0" rx="10.2" ry="6.9" fill="#40b048" transform="translate(225.8,145.2) rotate(-12)" />
<ellipse cx="0" cy="0" rx="10.4" ry="6.8" fill="#40b048" transform="translate(245.8,140.4) rotate(-10)" />
<ellipse cx="218.7" cy="145.3" rx="1.6" ry="1.6" fill="#2040a0"/>
<ellipse cx="220.4" cy="150" rx="1.4" ry="1.4" fill="#2040a0"/>
<ellipse cx="231.5" cy="140" rx="1.5" ry="1.5" fill="#2040a0"/>
<ellipse cx="230.4" cy="144.7" rx="1.3" ry="1.3" fill="#2040a0"/>
<ellipse cx="245" cy="137.7" rx="1.5" ry="1.5" fill="#2040a0"/>
<ellipse cx="248.5" cy="141.2" rx="1.5" ry="1.5" fill="#2040a0"/>
<ellipse cx="253.7" cy="138.9" rx="1.7" ry="1.7" fill="#2040a0"/>
<path d="M202.9,168.5 C204.9,167.8 210.5,165.9 215.0,164.2 C219.5,162.5 225.0,160.4 230.0,158.5 C235.0,156.6 240.0,154.8 245.0,153.0 C250.0,151.2 254.6,149.7 260.0,148.0 C265.4,146.3 274.8,143.8 277.7,142.9" fill="none" stroke="#2a8a38" stroke-width="4.8" stroke-linecap="round" stroke-linejoin="round"/>
<circle cx="206.1" cy="167.2" r="1.14" fill="#48b448"/>
<circle cx="209.7" cy="165.2" r="1.16" fill="#48b448"/>
<circle cx="215.1" cy="163.5" r="1.41" fill="#48b448"/>
<circle cx="219.3" cy="163.2" r="1.49" fill="#48b448"/>
<circle cx="222.8" cy="162.3" r="1.61" fill="#48b448"/>
<circle cx="225.8" cy="159.5" r="1.19" fill="#48b448"/>
<circle cx="230.8" cy="157.7" r="1.17" fill="#48b448"/>
<circle cx="236.7" cy="156.5" r="1.23" fill="#48b448"/>
<circle cx="241.4" cy="153.7" r="1.28" fill="#48b448"/>
<circle cx="245.6" cy="153.9" r="1.59" fill="#48b448"/>
<circle cx="249.5" cy="152.1" r="1.37" fill="#48b448"/>
<circle cx="252.6" cy="151.3" r="1.21" fill="#48b448"/>
<circle cx="264.7" cy="146.2" r="1.59" fill="#48b448"/>
<circle cx="268.9" cy="146.1" r="1.41" fill="#48b448"/>
<circle cx="273.5" cy="143.7" r="1.59" fill="#48b448"/>
<path d="M202.9,170.5 C205.8,169.4 213.8,166.4 220.0,164.0 C226.2,161.6 236.7,157.3 240.0,156.0" fill="none" stroke="#2a8a38" stroke-width="2.5" stroke-linecap="round" stroke-linejoin="round"/>
<circle cx="203.7" cy="170.5" r="0.68" fill="#48b448"/>
<circle cx="205.0" cy="169.2" r="0.83" fill="#48b448"/>
<circle cx="209.1" cy="168.1" r="0.62" fill="#48b448"/>
<circle cx="211.1" cy="167.0" r="0.61" fill="#48b448"/>
<circle cx="215.5" cy="165.6" r="0.59" fill="#48b448"/>
<circle cx="220.2" cy="164.5" r="0.59" fill="#48b448"/>
<circle cx="222.0" cy="163.5" r="0.73" fill="#48b448"/>
<circle cx="223.8" cy="162.4" r="0.78" fill="#48b448"/>
<circle cx="228.8" cy="160.8" r="0.69" fill="#48b448"/>
<circle cx="231.3" cy="160.0" r="0.78" fill="#48b448"/>
<circle cx="235.4" cy="157.4" r="0.82" fill="#48b448"/>
<circle cx="237.3" cy="157.3" r="0.69" fill="#48b448"/>
<circle cx="238.8" cy="156.6" r="0.74" fill="#48b448"/>
<circle cx="240.0" cy="155.9" r="0.60" fill="#48b448"/>
<path d="M204.0,167.0 C206.7,166.2 214.0,164.0 220.0,162.0 C226.0,160.0 233.0,157.4 240.0,155.0 C247.0,152.6 255.8,149.6 262.0,147.5 C268.2,145.4 274.5,143.3 277.0,142.5" fill="none" stroke="#1a6a28" stroke-width="0.8" stroke-linecap="round" stroke-linejoin="round"/>
<rect x="253.0" y="144.9" width="5" height="3" fill="none" stroke="#9a9a9a" stroke-width="0.6"/>
<path d="M285.8,130.1 C287.2,130.0 292.1,128.4 294.0,129.5 C295.9,130.6 296.4,134.2 297.5,136.5 C298.6,138.8 299.1,140.8 300.4,143.5 C301.7,146.2 303.8,149.0 305.1,152.9 C306.4,156.8 307.4,162.6 308.0,166.9 C308.6,171.2 308.5,177.0 308.6,179.0" fill="none" stroke="#1a6a28" stroke-width="1.9" stroke-linecap="round" stroke-linejoin="round"/>
<circle cx="285.8" cy="130.4" r="0.63" fill="#2a9a40"/>
<circle cx="286.9" cy="129.9" r="0.60" fill="#2a9a40"/>
<circle cx="288.5" cy="129.3" r="0.63" fill="#2a9a40"/>
<circle cx="290.3" cy="129.2" r="0.46" fill="#2a9a40"/>
<circle cx="292.6" cy="129.3" r="0.54" fill="#2a9a40"/>
<circle cx="294.9" cy="130.6" r="0.47" fill="#2a9a40"/>
<circle cx="295.9" cy="131.5" r="0.52" fill="#2a9a40"/>
<circle cx="297.2" cy="134.8" r="0.56" fill="#2a9a40"/>
<circle cx="297.2" cy="136.6" r="0.53" fill="#2a9a40"/>
<circle cx="298.0" cy="138.2" r="0.62" fill="#2a9a40"/>
<circle cx="298.7" cy="139.8" r="0.51" fill="#2a9a40"/>
<circle cx="300.5" cy="143.3" r="0.52" fill="#2a9a40"/>
<circle cx="301.0" cy="145.0" r="0.55" fill="#2a9a40"/>
<circle cx="302.0" cy="146.4" r="0.48" fill="#2a9a40"/>
<circle cx="302.5" cy="147.4" r="0.51" fill="#2a9a40"/>
<circle cx="303.5" cy="149.0" r="0.53" fill="#2a9a40"/>
<circle cx="304.3" cy="150.8" r="0.52" fill="#2a9a40"/>
<circle cx="304.7" cy="153.2" r="0.43" fill="#2a9a40"/>
<circle cx="305.4" cy="154.4" r="0.52" fill="#2a9a40"/>
<circle cx="306.0" cy="156.1" r="0.59" fill="#2a9a40"/>
<circle cx="306.4" cy="157.5" r="0.54" fill="#2a9a40"/>
<circle cx="306.3" cy="158.9" r="0.51" fill="#2a9a40"/>
<circle cx="307.2" cy="160.5" r="0.49" fill="#2a9a40"/>
<circle cx="307.6" cy="162.1" r="0.63" fill="#2a9a40"/>
<circle cx="307.3" cy="163.8" r="0.52" fill="#2a9a40"/>
<circle cx="308.0" cy="167.2" r="0.44" fill="#2a9a40"/>
<circle cx="308.6" cy="171.0" r="0.60" fill="#2a9a40"/>
<circle cx="308.8" cy="175.1" r="0.61" fill="#2a9a40"/>
<circle cx="308.8" cy="176.8" r="0.62" fill="#2a9a40"/>
<circle cx="308.8" cy="177.8" r="0.53" fill="#2a9a40"/>
<circle cx="308.5" cy="178.8" r="0.46" fill="#2a9a40"/>
<path d="M294.0,129.5 C295.9,129.3 302.4,126.9 305.7,128.3 C309.0,129.7 311.8,134.6 313.9,137.7 C316.0,140.8 317.3,143.9 318.5,147.0 C319.7,150.1 320.4,151.1 320.9,156.4 C321.4,161.7 321.4,175.2 321.5,179.0" fill="none" stroke="#1a6a28" stroke-width="1.9" stroke-linecap="round" stroke-linejoin="round"/>
<circle cx="293.9" cy="129.5" r="0.52" fill="#2a9a40"/>
<circle cx="295.2" cy="129.7" r="0.47" fill="#2a9a40"/>
<circle cx="296.3" cy="128.8" r="0.52" fill="#2a9a40"/>
<circle cx="298.3" cy="128.7" r="0.55" fill="#2a9a40"/>
<circle cx="300.2" cy="127.8" r="0.63" fill="#2a9a40"/>
<circle cx="302.6" cy="127.9" r="0.56" fill="#2a9a40"/>
<circle cx="303.8" cy="128.1" r="0.64" fill="#2a9a40"/>
<circle cx="306.1" cy="128.7" r="0.59" fill="#2a9a40"/>
<circle cx="307.3" cy="128.9" r="0.63" fill="#2a9a40"/>
<circle cx="308.4" cy="130.3" r="0.49" fill="#2a9a40"/>
<circle cx="310.5" cy="132.7" r="0.53" fill="#2a9a40"/>
<circle cx="311.3" cy="133.8" r="0.45" fill="#2a9a40"/>
<circle cx="312.5" cy="134.9" r="0.49" fill="#2a9a40"/>
<circle cx="312.8" cy="136.3" r="0.49" fill="#2a9a40"/>
<circle cx="313.9" cy="137.5" r="0.61" fill="#2a9a40"/>
<circle cx="314.6" cy="139.2" r="0.53" fill="#2a9a40"/>
<circle cx="315.9" cy="141.0" r="0.49" fill="#2a9a40"/>
<circle cx="316.6" cy="142.4" r="0.61" fill="#2a9a40"/>
<circle cx="317.0" cy="143.7" r="0.59" fill="#2a9a40"/>
<circle cx="317.5" cy="145.2" r="0.58" fill="#2a9a40"/>
<circle cx="319.1" cy="148.5" r="0.51" fill="#2a9a40"/>
<circle cx="319.7" cy="149.4" r="0.54" fill="#2a9a40"/>
<circle cx="319.7" cy="151.0" r="0.48" fill="#2a9a40"/>
<circle cx="320.1" cy="152.0" r="0.51" fill="#2a9a40"/>
<circle cx="320.9" cy="154.1" r="0.52" fill="#2a9a40"/>
<circle cx="321.0" cy="156.4" r="0.59" fill="#2a9a40"/>
<circle cx="321.2" cy="159.4" r="0.61" fill="#2a9a40"/>
<circle cx="320.8" cy="160.7" r="0.61" fill="#2a9a40"/>
<circle cx="321.6" cy="162.6" r="0.61" fill="#2a9a40"/>
<circle cx="321.4" cy="164.0" r="0.64" fill="#2a9a40"/>
<circle cx="321.1" cy="166.0" r="0.56" fill="#2a9a40"/>
<circle cx="321.3" cy="168.3" r="0.57" fill="#2a9a40"/>
<circle cx="321.4" cy="172.2" r="0.64" fill="#2a9a40"/>
<circle cx="321.2" cy="173.8" r="0.55" fill="#2a9a40"/>
<circle cx="321.8" cy="175.7" r="0.58" fill="#2a9a40"/>
<circle cx="321.3" cy="177.0" r="0.61" fill="#2a9a40"/>
<circle cx="321.1" cy="178.3" r="0.62" fill="#2a9a40"/>
<circle cx="321.7" cy="179.3" r="0.50" fill="#2a9a40"/>
<ellipse cx="0" cy="0" rx="8.6" ry="6.6" fill="#d0e860" transform="translate(331.2,139.2) rotate(60)" />
<ellipse cx="0" cy="0" rx="8.6" ry="6.6" fill="#d0e860" transform="translate(338.8,153.3) rotate(60)" />
<ellipse cx="0" cy="0" rx="8.3" ry="6.2" fill="#3aa848" transform="translate(330.8,138.9) rotate(60)" />
<ellipse cx="0" cy="0" rx="8.3" ry="6.2" fill="#3aa848" transform="translate(338.4,152.9) rotate(60)" />
<ellipse cx="0" cy="0" rx="4" ry="2.5" fill="#48a8a0" transform="translate(330,137) rotate(60)" opacity="0.5"/>
<ellipse cx="334.3" cy="142.4" rx="2.3" ry="2.3" fill="#15307a"/>
<ellipse cx="339.6" cy="148.8" rx="2.3" ry="2.3" fill="#15307a"/>
<ellipse cx="343.7" cy="155.8" rx="1.4" ry="1.4" fill="#15307a"/>
<rect x="315.3" y="137.9" width="3" height="3" fill="none" stroke="#9a9a9a" stroke-width="0.6"/>
<path d="M371.7,128.3 C373.6,129.7 379.9,133.2 383.4,136.5 C386.9,139.8 390.0,145.1 392.7,148.2 C395.4,151.3 397.0,153.6 399.7,155.2 C402.4,156.8 405.0,156.5 409.1,157.5 C413.2,158.5 419.3,159.8 424.3,161.0 C429.3,162.2 436.5,163.9 438.9,164.5" fill="none" stroke="#1a6a28" stroke-width="1.8" stroke-linecap="round" stroke-linejoin="round"/>
<circle cx="372.3" cy="128.7" r="0.47" fill="#30a040"/>
<circle cx="373.4" cy="129.7" r="0.49" fill="#30a040"/>
<circle cx="375.0" cy="130.1" r="0.42" fill="#30a040"/>
<circle cx="377.4" cy="132.2" r="0.58" fill="#30a040"/>
<circle cx="380.6" cy="134.1" r="0.58" fill="#30a040"/>
<circle cx="382.1" cy="135.4" r="0.60" fill="#30a040"/>
<circle cx="384.6" cy="137.5" r="0.52" fill="#30a040"/>
<circle cx="385.4" cy="138.9" r="0.40" fill="#30a040"/>
<circle cx="387.1" cy="140.8" r="0.47" fill="#30a040"/>
<circle cx="388.3" cy="142.3" r="0.55" fill="#30a040"/>
<circle cx="389.5" cy="143.8" r="0.46" fill="#30a040"/>
<circle cx="390.3" cy="145.1" r="0.58" fill="#30a040"/>
<circle cx="390.9" cy="145.8" r="0.45" fill="#30a040"/>
<circle cx="392.1" cy="147.2" r="0.45" fill="#30a040"/>
<circle cx="392.6" cy="148.1" r="0.44" fill="#30a040"/>
<circle cx="396.1" cy="152.4" r="0.50" fill="#30a040"/>
<circle cx="397.5" cy="153.4" r="0.54" fill="#30a040"/>
<circle cx="398.5" cy="154.7" r="0.59" fill="#30a040"/>
<circle cx="399.5" cy="155.2" r="0.52" fill="#30a040"/>
<circle cx="400.9" cy="155.9" r="0.57" fill="#30a040"/>
<circle cx="403.8" cy="156.6" r="0.48" fill="#30a040"/>
<circle cx="405.4" cy="156.7" r="0.54" fill="#30a040"/>
<circle cx="407.2" cy="157.4" r="0.49" fill="#30a040"/>
<circle cx="409.4" cy="157.5" r="0.49" fill="#30a040"/>
<circle cx="410.2" cy="157.9" r="0.54" fill="#30a040"/>
<circle cx="411.7" cy="157.9" r="0.54" fill="#30a040"/>
<circle cx="413.2" cy="158.6" r="0.50" fill="#30a040"/>
<circle cx="419.8" cy="160.0" r="0.42" fill="#30a040"/>
<circle cx="420.9" cy="160.4" r="0.49" fill="#30a040"/>
<circle cx="422.8" cy="160.6" r="0.58" fill="#30a040"/>
<circle cx="424.4" cy="161.3" r="0.46" fill="#30a040"/>
<circle cx="426.0" cy="161.7" r="0.57" fill="#30a040"/>
<circle cx="427.3" cy="161.9" r="0.44" fill="#30a040"/>
<circle cx="432.9" cy="162.8" r="0.58" fill="#30a040"/>
<circle cx="434.1" cy="163.3" r="0.57" fill="#30a040"/>
<circle cx="435.7" cy="163.5" r="0.41" fill="#30a040"/>
<circle cx="438.2" cy="164.1" r="0.42" fill="#30a040"/>
<circle cx="438.7" cy="164.6" r="0.52" fill="#30a040"/>
<path d="M375.0,128.3 C376.8,129.8 382.7,133.7 386.0,137.0 C389.3,140.3 392.3,145.2 395.0,148.0 C397.7,150.8 400.8,153.0 402.0,154.0" fill="none" stroke="#1a6a28" stroke-width="1.8" stroke-linecap="round" stroke-linejoin="round"/>
<circle cx="376.0" cy="129.0" r="0.54" fill="#30a040"/>
<circle cx="376.6" cy="129.9" r="0.54" fill="#30a040"/>
<circle cx="377.6" cy="130.6" r="0.42" fill="#30a040"/>
<circle cx="379.6" cy="131.5" r="0.60" fill="#30a040"/>
<circle cx="380.5" cy="132.3" r="0.52" fill="#30a040"/>
<circle cx="382.1" cy="133.7" r="0.50" fill="#30a040"/>
<circle cx="383.5" cy="134.7" r="0.43" fill="#30a040"/>
<circle cx="384.5" cy="136.2" r="0.41" fill="#30a040"/>
<circle cx="385.7" cy="137.1" r="0.53" fill="#30a040"/>
<circle cx="386.8" cy="138.0" r="0.57" fill="#30a040"/>
<circle cx="387.9" cy="139.6" r="0.42" fill="#30a040"/>
<circle cx="390.5" cy="141.7" r="0.43" fill="#30a040"/>
<circle cx="392.2" cy="144.5" r="0.47" fill="#30a040"/>
<circle cx="393.4" cy="145.6" r="0.58" fill="#30a040"/>
<circle cx="394.3" cy="147.0" r="0.45" fill="#30a040"/>
<circle cx="394.8" cy="148.3" r="0.41" fill="#30a040"/>
<circle cx="396.5" cy="149.2" r="0.48" fill="#30a040"/>
<circle cx="398.0" cy="150.7" r="0.43" fill="#30a040"/>
<circle cx="399.2" cy="151.8" r="0.43" fill="#30a040"/>
<circle cx="400.2" cy="152.6" r="0.60" fill="#30a040"/>
<circle cx="400.9" cy="153.1" r="0.47" fill="#30a040"/>
<path d="M378.7,128.3 C380.6,130.5 386.9,137.1 390.4,141.2 C393.9,145.3 398.1,150.9 399.7,152.9" fill="none" stroke="#1a6a28" stroke-width="1.8" stroke-linecap="round" stroke-linejoin="round"/>
<circle cx="378.9" cy="128.0" r="0.44" fill="#30a040"/>
<circle cx="379.0" cy="129.0" r="0.45" fill="#30a040"/>
<circle cx="381.7" cy="131.3" r="0.51" fill="#30a040"/>
<circle cx="383.2" cy="133.0" r="0.50" fill="#30a040"/>
<circle cx="383.9" cy="134.2" r="0.51" fill="#30a040"/>
<circle cx="385.2" cy="135.1" r="0.41" fill="#30a040"/>
<circle cx="386.4" cy="136.5" r="0.51" fill="#30a040"/>
<circle cx="388.8" cy="138.7" r="0.53" fill="#30a040"/>
<circle cx="389.2" cy="140.4" r="0.41" fill="#30a040"/>
<circle cx="390.7" cy="141.4" r="0.53" fill="#30a040"/>
<circle cx="391.4" cy="142.7" r="0.50" fill="#30a040"/>
<circle cx="394.0" cy="145.2" r="0.59" fill="#30a040"/>
<circle cx="396.8" cy="149.2" r="0.42" fill="#30a040"/>
<circle cx="397.9" cy="150.2" r="0.54" fill="#30a040"/>
<circle cx="398.8" cy="151.7" r="0.56" fill="#30a040"/>
<circle cx="398.8" cy="151.9" r="0.58" fill="#30a040"/>
<circle cx="399.8" cy="153.1" r="0.57" fill="#30a040"/>
<path d="M363.5,159.9 C365.8,160.3 373.2,161.4 377.5,162.2 C381.8,163.0 385.7,163.9 389.2,164.5 C392.7,165.1 394.6,165.3 398.5,165.7 C402.4,166.1 407.3,166.1 412.6,166.9 C417.9,167.7 425.7,168.7 430.1,170.4 C434.5,172.2 437.4,176.2 438.9,177.4" fill="none" stroke="#1a6a28" stroke-width="1.8" stroke-linecap="round" stroke-linejoin="round"/>
<circle cx="363.3" cy="159.7" r="0.46" fill="#30a040"/>
<circle cx="364.7" cy="160.1" r="0.56" fill="#30a040"/>
<circle cx="365.7" cy="160.4" r="0.57" fill="#30a040"/>
<circle cx="367.1" cy="160.2" r="0.45" fill="#30a040"/>
<circle cx="368.6" cy="160.9" r="0.57" fill="#30a040"/>
<circle cx="372.5" cy="161.2" r="0.54" fill="#30a040"/>
<circle cx="374.1" cy="161.6" r="0.42" fill="#30a040"/>
<circle cx="375.7" cy="162.1" r="0.59" fill="#30a040"/>
<circle cx="377.7" cy="162.4" r="0.49" fill="#30a040"/>
<circle cx="378.9" cy="162.6" r="0.50" fill="#30a040"/>
<circle cx="380.6" cy="162.9" r="0.52" fill="#30a040"/>
<circle cx="382.5" cy="163.3" r="0.43" fill="#30a040"/>
<circle cx="383.6" cy="163.8" r="0.51" fill="#30a040"/>
<circle cx="385.3" cy="163.9" r="0.59" fill="#30a040"/>
<circle cx="386.7" cy="164.1" r="0.48" fill="#30a040"/>
<circle cx="387.8" cy="164.3" r="0.50" fill="#30a040"/>
<circle cx="389.3" cy="164.3" r="0.53" fill="#30a040"/>
<circle cx="392.5" cy="164.8" r="0.55" fill="#30a040"/>
<circle cx="393.4" cy="165.0" r="0.47" fill="#30a040"/>
<circle cx="394.8" cy="165.1" r="0.51" fill="#30a040"/>
<circle cx="396.4" cy="165.2" r="0.58" fill="#30a040"/>
<circle cx="399.7" cy="166.0" r="0.55" fill="#30a040"/>
<circle cx="401.1" cy="166.0" r="0.48" fill="#30a040"/>
<circle cx="402.5" cy="165.8" r="0.51" fill="#30a040"/>
<circle cx="404.3" cy="165.9" r="0.53" fill="#30a040"/>
<circle cx="405.9" cy="166.0" r="0.52" fill="#30a040"/>
<circle cx="407.2" cy="166.0" r="0.56" fill="#30a040"/>
<circle cx="409.2" cy="166.3" r="0.40" fill="#30a040"/>
<circle cx="410.9" cy="166.4" r="0.43" fill="#30a040"/>
<circle cx="412.7" cy="167.2" r="0.49" fill="#30a040"/>
<circle cx="415.7" cy="167.1" r="0.44" fill="#30a040"/>
<circle cx="416.7" cy="167.5" r="0.60" fill="#30a040"/>
<circle cx="418.4" cy="168.0" r="0.41" fill="#30a040"/>
<circle cx="420.1" cy="167.7" r="0.41" fill="#30a040"/>
<circle cx="421.4" cy="168.4" r="0.51" fill="#30a040"/>
<circle cx="422.9" cy="168.4" r="0.41" fill="#30a040"/>
<circle cx="426.3" cy="169.4" r="0.59" fill="#30a040"/>
<circle cx="427.8" cy="169.9" r="0.42" fill="#30a040"/>
<circle cx="428.8" cy="170.3" r="0.47" fill="#30a040"/>
<circle cx="429.9" cy="170.1" r="0.45" fill="#30a040"/>
<circle cx="431.7" cy="171.5" r="0.54" fill="#30a040"/>
<circle cx="433.4" cy="172.6" r="0.49" fill="#30a040"/>
<circle cx="435.1" cy="173.9" r="0.49" fill="#30a040"/>
<circle cx="436.3" cy="174.4" r="0.54" fill="#30a040"/>
<circle cx="437.4" cy="176.0" r="0.52" fill="#30a040"/>
<circle cx="438.2" cy="176.8" r="0.44" fill="#30a040"/>
<path d="M389.2,164.5 L398.5,156.4" fill="none" stroke="#1a6a28" stroke-width="1.8" stroke-linecap="round" stroke-linejoin="round"/>
<circle cx="389.2" cy="164.2" r="0.42" fill="#30a040"/>
<circle cx="391.2" cy="162.6" r="0.49" fill="#30a040"/>
<circle cx="393.6" cy="160.7" r="0.48" fill="#30a040"/>
<circle cx="396.3" cy="158.5" r="0.53" fill="#30a040"/>
<circle cx="397.0" cy="157.6" r="0.42" fill="#30a040"/>
<path d="M389.2,164.5 C390.2,165.5 392.5,168.1 395.0,170.4 C397.5,172.7 402.8,177.2 404.4,178.5" fill="none" stroke="#1a6a28" stroke-width="1.8" stroke-linecap="round" stroke-linejoin="round"/>
<circle cx="389.5" cy="164.7" r="0.45" fill="#30a040"/>
<circle cx="390.1" cy="165.2" r="0.52" fill="#30a040"/>
<circle cx="390.9" cy="166.6" r="0.46" fill="#30a040"/>
<circle cx="391.9" cy="167.5" r="0.55" fill="#30a040"/>
<circle cx="393.3" cy="168.9" r="0.56" fill="#30a040"/>
<circle cx="395.1" cy="170.6" r="0.45" fill="#30a040"/>
<circle cx="395.9" cy="171.4" r="0.45" fill="#30a040"/>
<circle cx="397.5" cy="172.8" r="0.56" fill="#30a040"/>
<circle cx="398.5" cy="173.3" r="0.51" fill="#30a040"/>
<circle cx="400.1" cy="174.5" r="0.56" fill="#30a040"/>
<circle cx="401.3" cy="176.0" r="0.52" fill="#30a040"/>
<circle cx="402.6" cy="177.0" r="0.50" fill="#30a040"/>
<circle cx="403.4" cy="177.6" r="0.52" fill="#30a040"/>
<circle cx="404.2" cy="178.5" r="0.43" fill="#30a040"/>
<path d="M399.7,155.2 C400.7,157.1 403.9,163.0 405.6,166.9 C407.4,170.8 409.4,176.6 410.2,178.5" fill="none" stroke="#1a6a28" stroke-width="1.8" stroke-linecap="round" stroke-linejoin="round"/>
<circle cx="399.6" cy="155.4" r="0.58" fill="#30a040"/>
<circle cx="400.6" cy="157.4" r="0.58" fill="#30a040"/>
<circle cx="402.3" cy="159.5" r="0.54" fill="#30a040"/>
<circle cx="403.8" cy="162.9" r="0.43" fill="#30a040"/>
<circle cx="404.4" cy="164.4" r="0.52" fill="#30a040"/>
<circle cx="405.1" cy="165.5" r="0.57" fill="#30a040"/>
<circle cx="405.9" cy="167.1" r="0.40" fill="#30a040"/>
<circle cx="406.5" cy="168.6" r="0.46" fill="#30a040"/>
<circle cx="406.9" cy="170.3" r="0.54" fill="#30a040"/>
<circle cx="408.3" cy="173.7" r="0.49" fill="#30a040"/>
<circle cx="409.4" cy="176.6" r="0.50" fill="#30a040"/>
<circle cx="409.9" cy="177.8" r="0.42" fill="#30a040"/>
<circle cx="409.9" cy="178.6" r="0.59" fill="#30a040"/>
<path d="M416.1,178.5 C417.7,176.6 422.3,169.6 425.4,166.9 C428.5,164.2 432.6,163.2 434.8,162.2 C437.1,161.2 438.2,161.2 438.9,161.0" fill="none" stroke="#1a6a28" stroke-width="1.8" stroke-linecap="round" stroke-linejoin="round"/>
<circle cx="416.1" cy="178.4" r="0.57" fill="#30a040"/>
<circle cx="416.6" cy="177.7" r="0.43" fill="#30a040"/>
<circle cx="417.6" cy="176.5" r="0.42" fill="#30a040"/>
<circle cx="417.9" cy="175.7" r="0.50" fill="#30a040"/>
<circle cx="419.4" cy="174.0" r="0.51" fill="#30a040"/>
<circle cx="419.8" cy="173.1" r="0.42" fill="#30a040"/>
<circle cx="421.0" cy="171.9" r="0.55" fill="#30a040"/>
<circle cx="422.3" cy="170.1" r="0.60" fill="#30a040"/>
<circle cx="423.5" cy="169.2" r="0.50" fill="#30a040"/>
<circle cx="424.6" cy="167.8" r="0.45" fill="#30a040"/>
<circle cx="425.4" cy="167.0" r="0.54" fill="#30a040"/>
<circle cx="427.0" cy="165.9" r="0.48" fill="#30a040"/>
<circle cx="428.2" cy="165.0" r="0.44" fill="#30a040"/>
<circle cx="429.8" cy="164.5" r="0.45" fill="#30a040"/>
<circle cx="431.1" cy="163.8" r="0.51" fill="#30a040"/>
<circle cx="432.8" cy="162.8" r="0.57" fill="#30a040"/>
<circle cx="433.9" cy="162.3" r="0.41" fill="#30a040"/>
<circle cx="434.5" cy="162.0" r="0.44" fill="#30a040"/>
<circle cx="437.2" cy="161.0" r="0.48" fill="#30a040"/>
<circle cx="439.2" cy="161.2" r="0.51" fill="#30a040"/>
<path d="M363.5,161.5 C365.8,161.9 373.2,163.2 377.5,164.0 C381.8,164.8 387.2,165.7 389.2,166.0" fill="none" stroke="#1a6a28" stroke-width="1.8" stroke-linecap="round" stroke-linejoin="round"/>
<circle cx="363.3" cy="161.7" r="0.41" fill="#30a040"/>
<circle cx="364.5" cy="161.8" r="0.60" fill="#30a040"/>
<circle cx="365.6" cy="162.1" r="0.58" fill="#30a040"/>
<circle cx="367.2" cy="162.1" r="0.53" fill="#30a040"/>
<circle cx="371.0" cy="162.7" r="0.47" fill="#30a040"/>
<circle cx="372.2" cy="163.2" r="0.49" fill="#30a040"/>
<circle cx="374.3" cy="163.8" r="0.50" fill="#30a040"/>
<circle cx="375.6" cy="163.5" r="0.46" fill="#30a040"/>
<circle cx="377.8" cy="163.8" r="0.41" fill="#30a040"/>
<circle cx="379.1" cy="164.1" r="0.48" fill="#30a040"/>
<circle cx="382.6" cy="165.2" r="0.41" fill="#30a040"/>
<circle cx="384.3" cy="165.0" r="0.42" fill="#30a040"/>
<circle cx="385.8" cy="165.6" r="0.52" fill="#30a040"/>
<circle cx="388.4" cy="166.1" r="0.47" fill="#30a040"/>
<circle cx="389.5" cy="166.2" r="0.43" fill="#30a040"/>
<path d="M371.7,128.3 C373.6,129.7 379.9,133.2 383.4,136.5 C386.9,139.8 390.0,145.1 392.7,148.2 C395.4,151.3 398.5,154.0 399.7,155.2" fill="none" stroke="#1a6a28" stroke-width="3.5" stroke-linecap="round" stroke-linejoin="round"/>
<circle cx="371.6" cy="127.8" r="1.10" fill="#30a040"/>
<circle cx="373.7" cy="130.0" r="0.85" fill="#30a040"/>
<circle cx="375.3" cy="131.3" r="0.98" fill="#30a040"/>
<circle cx="380.9" cy="134.8" r="1.11" fill="#30a040"/>
<circle cx="383.8" cy="136.2" r="0.85" fill="#30a040"/>
<circle cx="385.0" cy="139.1" r="1.06" fill="#30a040"/>
<circle cx="389.3" cy="143.3" r="1.18" fill="#30a040"/>
<circle cx="391.0" cy="146.0" r="1.15" fill="#30a040"/>
<circle cx="393.1" cy="147.8" r="0.98" fill="#30a040"/>
<circle cx="395.0" cy="151.8" r="1.14" fill="#30a040"/>
<circle cx="398.0" cy="153.8" r="0.95" fill="#30a040"/>
<ellipse cx="0" cy="0" rx="7.9" ry="6.3" fill="#d8f060" transform="translate(395.5,133.6) rotate(20)" />
<ellipse cx="0" cy="0" rx="7.3" ry="6.7" fill="#d8f060" transform="translate(406.6,143.5) rotate(50)" />
<ellipse cx="0" cy="0" rx="8.3" ry="6.7" fill="#d8f060" transform="translate(419.5,149.4) rotate(0)" />
<ellipse cx="0" cy="0" rx="7.3" ry="8.3" fill="#d8f060" transform="translate(431.8,143.0) rotate(-50)" />
<ellipse cx="0" cy="0" rx="7.4" ry="5.8" fill="#30c030" transform="translate(395,133) rotate(20)" />
<ellipse cx="0" cy="0" rx="5.18" ry="4.06" fill="#1f9a28" transform="translate(395,133) rotate(20)" />
<ellipse cx="0" cy="0" rx="6.8" ry="6.2" fill="#30c030" transform="translate(406.1,142.9) rotate(50)" />
<ellipse cx="0" cy="0" rx="4.76" ry="4.34" fill="#1f9a28" transform="translate(406.1,142.9) rotate(50)" />
<ellipse cx="0" cy="0" rx="7.8" ry="6.2" fill="#30c030" transform="translate(419,148.8) rotate(0)" />
<ellipse cx="0" cy="0" rx="5.46" ry="4.34" fill="#1f9a28" transform="translate(419,148.8) rotate(0)" />
<ellipse cx="0" cy="0" rx="6.8" ry="7.8" fill="#30c030" transform="translate(431.3,142.4) rotate(-50)" />
<ellipse cx="0" cy="0" rx="4.76" ry="5.46" fill="#1f9a28" transform="translate(431.3,142.4) rotate(-50)" />
<ellipse cx="393.9" cy="132.4" rx="1.8" ry="1.8" fill="#10301a"/>
<ellipse cx="397.4" cy="134.8" rx="1.6" ry="1.6" fill="#10301a"/>
<ellipse cx="405.6" cy="143.5" rx="1.7" ry="1.7" fill="#10301a"/>
<ellipse cx="407.9" cy="143.5" rx="1.6" ry="1.6" fill="#10301a"/>
<ellipse cx="415.5" cy="148.8" rx="1.8" ry="1.8" fill="#10301a"/>
<ellipse cx="423.1" cy="150" rx="1.6" ry="1.6" fill="#10301a"/>
<ellipse cx="430.1" cy="144.7" rx="1.8" ry="1.8" fill="#10301a"/>
<ellipse cx="434.8" cy="140.6" rx="1.5" ry="1.5" fill="#10301a"/>
<rect x="399.5" y="156.2" width="5" height="3.5" fill="none" stroke="#9a9a9a" stroke-width="0.6"/>
<polygon points="128.8,203.8 184.8,185.1 187.8,197.4 129.9,215.5" fill="#6cb860" />
<ellipse cx="150" cy="205" rx="4" ry="2" fill="#5aa890"/>
<ellipse cx="160" cy="200" rx="3" ry="1.5" fill="#5aa890"/>
<ellipse cx="170" cy="196" rx="3" ry="1.5" fill="#5aa890"/>
<ellipse cx="138.7" cy="209" rx="3.1" ry="3.1" fill="#123a3a"/>
<ellipse cx="139.9" cy="204.4" rx="1.8" ry="1.8" fill="#123a3a"/>
<ellipse cx="176.1" cy="195.6" rx="3.3" ry="3.3" fill="#123a3a"/>
<path d="M122.3,223.6 C124.4,223.1 130.3,221.6 135.0,220.5 C139.7,219.4 145.1,218.3 150.4,217.2 C155.7,216.1 161.4,215.2 166.7,213.7 C171.9,212.2 176.7,209.8 181.9,208.4 C187.1,207.0 195.1,206.0 197.7,205.5" fill="none" stroke="#1a6a28" stroke-width="1.3" stroke-linecap="round" stroke-linejoin="round"/>
<circle cx="123.7" cy="223.4" r="0.31" fill="#3a9a40"/>
<circle cx="124.4" cy="223.2" r="0.29" fill="#3a9a40"/>
<circle cx="125.4" cy="222.8" r="0.43" fill="#3a9a40"/>
<circle cx="129.0" cy="222.1" r="0.34" fill="#3a9a40"/>
<circle cx="131.3" cy="221.4" r="0.29" fill="#3a9a40"/>
<circle cx="132.5" cy="220.9" r="0.36" fill="#3a9a40"/>
<circle cx="134.1" cy="220.7" r="0.35" fill="#3a9a40"/>
<circle cx="134.7" cy="220.5" r="0.43" fill="#3a9a40"/>
<circle cx="136.1" cy="220.0" r="0.33" fill="#3a9a40"/>
<circle cx="136.7" cy="219.9" r="0.35" fill="#3a9a40"/>
<circle cx="138.0" cy="219.7" r="0.36" fill="#3a9a40"/>
<circle cx="138.7" cy="219.4" r="0.37" fill="#3a9a40"/>
<circle cx="139.8" cy="219.3" r="0.34" fill="#3a9a40"/>
<circle cx="140.8" cy="219.2" r="0.36" fill="#3a9a40"/>
<circle cx="141.8" cy="219.1" r="0.43" fill="#3a9a40"/>
<circle cx="143.1" cy="219.0" r="0.41" fill="#3a9a40"/>
<circle cx="143.9" cy="218.7" r="0.34" fill="#3a9a40"/>
<circle cx="145.3" cy="218.2" r="0.42" fill="#3a9a40"/>
<circle cx="146.4" cy="218.3" r="0.33" fill="#3a9a40"/>
<circle cx="147.2" cy="217.8" r="0.43" fill="#3a9a40"/>
<circle cx="149.4" cy="217.2" r="0.31" fill="#3a9a40"/>
<circle cx="151.2" cy="217.0" r="0.29" fill="#3a9a40"/>
<circle cx="152.3" cy="216.6" r="0.37" fill="#3a9a40"/>
<circle cx="153.4" cy="216.4" r="0.36" fill="#3a9a40"/>
<circle cx="156.3" cy="215.9" r="0.35" fill="#3a9a40"/>
<circle cx="157.6" cy="215.9" r="0.31" fill="#3a9a40"/>
<circle cx="158.6" cy="215.3" r="0.38" fill="#3a9a40"/>
<circle cx="159.4" cy="215.4" r="0.36" fill="#3a9a40"/>
<circle cx="162.5" cy="214.6" r="0.29" fill="#3a9a40"/>
<circle cx="163.5" cy="214.4" r="0.43" fill="#3a9a40"/>
<circle cx="164.9" cy="214.0" r="0.43" fill="#3a9a40"/>
<circle cx="165.8" cy="214.0" r="0.37" fill="#3a9a40"/>
<circle cx="166.7" cy="213.8" r="0.31" fill="#3a9a40"/>
<circle cx="169.8" cy="212.9" r="0.37" fill="#3a9a40"/>
<circle cx="170.9" cy="212.4" r="0.35" fill="#3a9a40"/>
<circle cx="172.8" cy="211.5" r="0.36" fill="#3a9a40"/>
<circle cx="173.8" cy="211.1" r="0.38" fill="#3a9a40"/>
<circle cx="174.9" cy="210.8" r="0.33" fill="#3a9a40"/>
<circle cx="175.8" cy="210.4" r="0.33" fill="#3a9a40"/>
<circle cx="176.9" cy="209.9" r="0.42" fill="#3a9a40"/>
<circle cx="178.0" cy="209.8" r="0.31" fill="#3a9a40"/>
<circle cx="180.0" cy="208.9" r="0.44" fill="#3a9a40"/>
<circle cx="180.9" cy="208.6" r="0.31" fill="#3a9a40"/>
<circle cx="183.2" cy="208.1" r="0.37" fill="#3a9a40"/>
<circle cx="184.0" cy="207.7" r="0.32" fill="#3a9a40"/>
<circle cx="185.1" cy="207.9" r="0.34" fill="#3a9a40"/>
<circle cx="186.3" cy="207.6" r="0.41" fill="#3a9a40"/>
<circle cx="187.8" cy="207.2" r="0.37" fill="#3a9a40"/>
<circle cx="189.0" cy="206.8" r="0.40" fill="#3a9a40"/>
<circle cx="190.2" cy="206.6" r="0.42" fill="#3a9a40"/>
<circle cx="192.5" cy="206.6" r="0.35" fill="#3a9a40"/>
<circle cx="193.6" cy="206.4" r="0.31" fill="#3a9a40"/>
<circle cx="194.8" cy="205.8" r="0.30" fill="#3a9a40"/>
<circle cx="195.7" cy="206.0" r="0.39" fill="#3a9a40"/>
<circle cx="196.2" cy="205.6" r="0.39" fill="#3a9a40"/>
<circle cx="197.0" cy="205.4" r="0.35" fill="#3a9a40"/>
<circle cx="197.7" cy="205.3" r="0.41" fill="#3a9a40"/>
<rect x="163.2" y="211.0" width="7" height="5" fill="none" stroke="#9a9a9a" stroke-width="0.6"/>
<polygon points="205.8,223.6 246.1,184.5 252.6,191.5 212.8,232.4" fill="#38c838" />
<rect x="-27.2" y="-3.5" width="54.5" height="7.0" rx="2.0" fill="#22a838" transform="translate(229.5,208.0) rotate(-44.3)" />
<ellipse cx="238.6" cy="197.9" rx="3.8" ry="3.8" fill="#0a2018"/>
<ellipse cx="228.6" cy="212" rx="3.7" ry="3.7" fill="#0a2018"/>
<ellipse cx="215.8" cy="221.3" rx="4" ry="4" fill="#0a2018"/>
<ellipse cx="231" cy="206.1" rx="1.5" ry="1.5" fill="#0a2018"/>
<ellipse cx="209.3" cy="225.4" rx="1.5" ry="1.5" fill="#0a2018"/>
<path d="M229.2,233.0 C231.8,230.2 239.9,221.7 245.0,216.0 C250.1,210.3 255.3,204.1 260.0,199.0 C264.7,193.9 270.8,187.9 273.0,185.7" fill="none" stroke="#2a9a30" stroke-width="1.2" stroke-linecap="round" stroke-linejoin="round"/>
<rect x="248.9" y="200.7" width="5" height="5" fill="none" stroke="#9a9a9a" stroke-width="0.6"/>
<polygon points="286.4,197.4 295.2,190.9 327.3,219.0 320.9,228.3 300.0,210.0" fill="#3cc038" />
<rect x="-19.8" y="-3.5" width="39.7" height="7.0" rx="2.0" fill="#28a830" transform="translate(307.0,209.0) rotate(40.9)" />
<ellipse cx="297.5" cy="200" rx="4.4" ry="4.4" fill="#0c2410"/>
<ellipse cx="302.5" cy="202" rx="3.8" ry="3.8" fill="#0c2410"/>
<ellipse cx="301" cy="209.6" rx="3" ry="3" fill="#0c2410"/>
<ellipse cx="311.5" cy="212" rx="3.3" ry="3.3" fill="#0c2410"/>
<ellipse cx="318.5" cy="219.5" rx="3.3" ry="3.3" fill="#0c2410"/>
<ellipse cx="300.5" cy="212" rx="1.4" ry="1.4" fill="#1a3a90"/>
<path d="M300.4,185.1 C301.3,186.1 303.8,188.9 306.0,191.0 C308.2,193.1 310.7,195.4 313.9,197.4 C317.1,199.4 320.9,201.1 325.0,203.0 C329.1,204.9 335.1,207.3 338.4,209.0 C341.7,210.7 342.8,211.5 345.0,213.0 C347.2,214.5 350.7,217.0 351.8,217.8" fill="none" stroke="#2a9a30" stroke-width="1.2" stroke-linecap="round" stroke-linejoin="round"/>
<rect x="310.8" y="193.1" width="5" height="5" fill="none" stroke="#9a9a9a" stroke-width="0.6"/>
<path d="M362.9,188.0 C366.3,188.4 378.0,190.0 383.4,190.3 C388.8,190.6 391.3,189.8 395.0,190.0 C398.7,190.2 401.7,190.3 405.6,191.5 C409.5,192.7 412.8,195.2 418.4,197.4 C423.9,199.6 435.5,203.2 438.9,204.4" fill="none" stroke="#1a6a28" stroke-width="3" stroke-linecap="round" stroke-linejoin="round"/>
<circle cx="366.8" cy="187.9" r="0.99" fill="#40a848"/>
<circle cx="369.8" cy="188.9" r="0.75" fill="#40a848"/>
<circle cx="372.6" cy="189.5" r="0.99" fill="#40a848"/>
<circle cx="378.8" cy="190.4" r="0.97" fill="#40a848"/>
<circle cx="380.6" cy="190.5" r="0.83" fill="#40a848"/>
<circle cx="382.9" cy="190.7" r="0.75" fill="#40a848"/>
<circle cx="386.7" cy="189.9" r="0.68" fill="#40a848"/>
<circle cx="389.8" cy="189.9" r="1.00" fill="#40a848"/>
<circle cx="391.8" cy="190.4" r="0.68" fill="#40a848"/>
<circle cx="394.9" cy="189.4" r="0.70" fill="#40a848"/>
<circle cx="402.7" cy="190.2" r="0.94" fill="#40a848"/>
<circle cx="405.3" cy="191.7" r="0.75" fill="#40a848"/>
<circle cx="410.7" cy="193.8" r="0.83" fill="#40a848"/>
<circle cx="412.3" cy="194.6" r="0.94" fill="#40a848"/>
<circle cx="414.9" cy="196.1" r="0.80" fill="#40a848"/>
<circle cx="418.9" cy="197.8" r="0.89" fill="#40a848"/>
<circle cx="420.8" cy="198.3" r="0.93" fill="#40a848"/>
<circle cx="422.5" cy="199.4" r="0.80" fill="#40a848"/>
<circle cx="425.6" cy="200.1" r="0.87" fill="#40a848"/>
<circle cx="428.3" cy="201.4" r="0.98" fill="#40a848"/>
<circle cx="431.0" cy="201.8" r="0.94" fill="#40a848"/>
<circle cx="433.8" cy="202.4" r="0.85" fill="#40a848"/>
<circle cx="435.6" cy="202.8" r="0.89" fill="#40a848"/>
<circle cx="437.1" cy="203.4" r="0.75" fill="#40a848"/>
<circle cx="439.2" cy="204.1" r="0.76" fill="#40a848"/>
<path d="M362.9,198.5 C365.3,198.6 372.1,199.7 377.5,199.1 C382.9,198.5 389.1,195.3 395.0,195.0 C400.9,194.7 406.8,196.0 412.6,197.4 C418.5,198.8 425.7,201.3 430.1,203.2 C434.5,205.1 437.4,208.0 438.9,209.0" fill="none" stroke="#1a6a28" stroke-width="3" stroke-linecap="round" stroke-linejoin="round"/>
<circle cx="363.1" cy="198.2" r="0.92" fill="#40a848"/>
<circle cx="366.6" cy="198.3" r="0.95" fill="#40a848"/>
<circle cx="369.5" cy="199.1" r="0.81" fill="#40a848"/>
<circle cx="371.5" cy="199.3" r="0.70" fill="#40a848"/>
<circle cx="374.6" cy="199.5" r="0.72" fill="#40a848"/>
<circle cx="377.6" cy="198.6" r="0.94" fill="#40a848"/>
<circle cx="379.4" cy="199.1" r="0.68" fill="#40a848"/>
<circle cx="381.8" cy="197.8" r="0.73" fill="#40a848"/>
<circle cx="384.5" cy="197.2" r="0.84" fill="#40a848"/>
<circle cx="387.3" cy="196.9" r="0.76" fill="#40a848"/>
<circle cx="392.0" cy="195.4" r="0.93" fill="#40a848"/>
<circle cx="394.6" cy="194.5" r="0.75" fill="#40a848"/>
<circle cx="397.5" cy="195.5" r="0.95" fill="#40a848"/>
<circle cx="400.2" cy="194.7" r="0.73" fill="#40a848"/>
<circle cx="402.2" cy="195.5" r="0.75" fill="#40a848"/>
<circle cx="404.6" cy="195.3" r="0.76" fill="#40a848"/>
<circle cx="407.4" cy="195.8" r="0.89" fill="#40a848"/>
<circle cx="410.3" cy="196.3" r="0.71" fill="#40a848"/>
<circle cx="418.3" cy="198.7" r="0.89" fill="#40a848"/>
<circle cx="423.6" cy="200.4" r="0.76" fill="#40a848"/>
<circle cx="427.8" cy="202.0" r="0.94" fill="#40a848"/>
<circle cx="430.2" cy="203.8" r="0.84" fill="#40a848"/>
<circle cx="433.2" cy="204.6" r="0.95" fill="#40a848"/>
<circle cx="437.3" cy="207.4" r="0.72" fill="#40a848"/>
<circle cx="438.5" cy="209.0" r="0.99" fill="#40a848"/>
<path d="M362.9,202.6 C366.3,202.3 378.4,201.8 383.4,200.9 C388.4,200.0 391.1,198.0 392.7,197.4" fill="none" stroke="#1a6a28" stroke-width="2.5" stroke-linecap="round" stroke-linejoin="round"/>
<circle cx="362.9" cy="202.7" r="0.78" fill="#40a848"/>
<circle cx="364.4" cy="202.5" r="0.64" fill="#40a848"/>
<circle cx="365.6" cy="202.0" r="0.63" fill="#40a848"/>
<circle cx="367.5" cy="202.5" r="0.57" fill="#40a848"/>
<circle cx="372.9" cy="202.4" r="0.59" fill="#40a848"/>
<circle cx="377.6" cy="201.2" r="0.59" fill="#40a848"/>
<circle cx="379.6" cy="200.9" r="0.69" fill="#40a848"/>
<circle cx="381.2" cy="200.7" r="0.73" fill="#40a848"/>
<circle cx="383.3" cy="201.0" r="0.78" fill="#40a848"/>
<circle cx="387.0" cy="200.5" r="0.74" fill="#40a848"/>
<circle cx="389.0" cy="199.3" r="0.72" fill="#40a848"/>
<circle cx="391.3" cy="198.2" r="0.75" fill="#40a848"/>
<circle cx="392.8" cy="197.9" r="0.78" fill="#40a848"/>
<path d="M383.4,200.9 C385.3,202.1 390.1,206.0 395.0,207.9 C399.9,209.8 406.8,211.3 412.6,212.5 C418.5,213.7 425.7,214.3 430.1,214.9 C434.5,215.5 437.4,215.8 438.9,216.0" fill="none" stroke="#1a6a28" stroke-width="1.6" stroke-linecap="round" stroke-linejoin="round"/>
<circle cx="383.4" cy="201.0" r="0.38" fill="#40a848"/>
<circle cx="384.7" cy="201.8" r="0.54" fill="#40a848"/>
<circle cx="387.0" cy="203.4" r="0.49" fill="#40a848"/>
<circle cx="388.3" cy="204.3" r="0.36" fill="#40a848"/>
<circle cx="389.3" cy="204.7" r="0.51" fill="#40a848"/>
<circle cx="390.5" cy="205.8" r="0.37" fill="#40a848"/>
<circle cx="392.2" cy="206.8" r="0.47" fill="#40a848"/>
<circle cx="393.8" cy="207.1" r="0.37" fill="#40a848"/>
<circle cx="394.8" cy="207.7" r="0.37" fill="#40a848"/>
<circle cx="395.9" cy="208.4" r="0.52" fill="#40a848"/>
<circle cx="397.4" cy="208.5" r="0.41" fill="#40a848"/>
<circle cx="398.1" cy="208.8" r="0.46" fill="#40a848"/>
<circle cx="399.9" cy="209.5" r="0.46" fill="#40a848"/>
<circle cx="400.6" cy="210.0" r="0.50" fill="#40a848"/>
<circle cx="402.0" cy="210.3" r="0.44" fill="#40a848"/>
<circle cx="403.1" cy="210.8" r="0.53" fill="#40a848"/>
<circle cx="404.8" cy="210.5" r="0.38" fill="#40a848"/>
<circle cx="406.0" cy="211.3" r="0.53" fill="#40a848"/>
<circle cx="407.1" cy="211.2" r="0.53" fill="#40a848"/>
<circle cx="408.9" cy="211.4" r="0.42" fill="#40a848"/>
<circle cx="410.2" cy="212.1" r="0.42" fill="#40a848"/>
<circle cx="412.7" cy="212.6" r="0.49" fill="#40a848"/>
<circle cx="413.7" cy="212.5" r="0.44" fill="#40a848"/>
<circle cx="415.2" cy="213.0" r="0.49" fill="#40a848"/>
<circle cx="416.6" cy="213.2" r="0.51" fill="#40a848"/>
<circle cx="418.1" cy="213.8" r="0.46" fill="#40a848"/>
<circle cx="421.3" cy="214.1" r="0.51" fill="#40a848"/>
<circle cx="422.6" cy="214.1" r="0.52" fill="#40a848"/>
<circle cx="424.0" cy="214.4" r="0.49" fill="#40a848"/>
<circle cx="425.5" cy="214.6" r="0.46" fill="#40a848"/>
<circle cx="426.7" cy="214.6" r="0.37" fill="#40a848"/>
<circle cx="428.9" cy="214.5" r="0.37" fill="#40a848"/>
<circle cx="430.3" cy="214.9" r="0.51" fill="#40a848"/>
<circle cx="432.4" cy="215.3" r="0.38" fill="#40a848"/>
<circle cx="434.0" cy="215.3" r="0.38" fill="#40a848"/>
<circle cx="435.5" cy="215.6" r="0.48" fill="#40a848"/>
<circle cx="436.8" cy="215.9" r="0.47" fill="#40a848"/>
<circle cx="437.8" cy="215.6" r="0.44" fill="#40a848"/>
<circle cx="438.8" cy="215.8" r="0.39" fill="#40a848"/>
<path d="M412.6,200.0 C415.5,201.3 426.2,205.8 430.1,207.9 C434.0,210.0 435.0,211.7 436.0,212.5" fill="none" stroke="#1a6a28" stroke-width="2.5" stroke-linecap="round" stroke-linejoin="round"/>
<circle cx="412.3" cy="199.6" r="0.75" fill="#40a848"/>
<circle cx="414.2" cy="200.5" r="0.64" fill="#40a848"/>
<circle cx="415.5" cy="201.4" r="0.82" fill="#40a848"/>
<circle cx="417.9" cy="202.5" r="0.78" fill="#40a848"/>
<circle cx="419.6" cy="203.6" r="0.74" fill="#40a848"/>
<circle cx="424.2" cy="204.7" r="0.68" fill="#40a848"/>
<circle cx="426.5" cy="206.2" r="0.67" fill="#40a848"/>
<circle cx="428.3" cy="207.1" r="0.57" fill="#40a848"/>
<circle cx="430.2" cy="207.5" r="0.68" fill="#40a848"/>
<circle cx="433.0" cy="209.6" r="0.59" fill="#40a848"/>
<circle cx="434.6" cy="211.0" r="0.69" fill="#40a848"/>
<circle cx="436.3" cy="212.4" r="0.61" fill="#40a848"/>
<polygon points="365.8,214.9 369.3,207.3 408.5,220.7 406.7,228.3" fill="#70c068" />
<ellipse cx="376.4" cy="212" rx="2.5" ry="2.5" fill="#1a2a70"/>
<ellipse cx="379.3" cy="213.1" rx="2.2" ry="2.2" fill="#1a2a70"/>
<ellipse cx="380.4" cy="218.4" rx="2.2" ry="2.2" fill="#1a2a70"/>
<ellipse cx="385.1" cy="216.6" rx="2.4" ry="2.4" fill="#1a2a70"/>
<ellipse cx="393.9" cy="221.3" rx="2.2" ry="2.2" fill="#1a2a70"/>
<ellipse cx="399.1" cy="223.6" rx="2.2" ry="2.2" fill="#1a2a70"/>
<ellipse cx="402.6" cy="224.8" rx="2.2" ry="2.2" fill="#1a2a70"/>
<rect x="417.7" y="193.6" width="6" height="4" fill="none" stroke="#9a9a9a" stroke-width="0.6"/>
<rect x="140.7" y="281.6" width="1.9" height="1.5" rx="0.4" fill="#38b848"/>
<rect x="139.0" y="284.5" width="1.9" height="1.5" rx="0.4" fill="#38b848"/>
<rect x="158.8" y="280.5" width="1.9" height="1.5" rx="0.4" fill="#38b848"/>
<rect x="158.8" y="285.7" width="1.9" height="1.5" rx="0.4" fill="#38b848"/>
<rect x="128.4" y="289.2" width="1.9" height="1.5" rx="0.4" fill="#38b848"/>
<rect x="140.7" y="288.1" width="1.9" height="1.5" rx="0.4" fill="#38b848"/>
<rect x="141.2" y="289.8" width="1.9" height="1.5" rx="0.4" fill="#38b848"/>
<rect x="140.1" y="296.2" width="1.9" height="1.5" rx="0.4" fill="#38b848"/>
<rect x="137.8" y="301.5" width="1.9" height="1.5" rx="0.4" fill="#38b848"/>
<rect x="141.2" y="300.3" width="1.9" height="1.5" rx="0.4" fill="#38b848"/>
<rect x="147.1" y="298.6" width="1.9" height="1.5" rx="0.4" fill="#38b848"/>
<rect x="147.1" y="301.5" width="1.9" height="1.5" rx="0.4" fill="#38b848"/>
<rect x="150.6" y="297.4" width="1.9" height="1.5" rx="0.4" fill="#38b848"/>
<rect x="153.0" y="298.6" width="1.9" height="1.5" rx="0.4" fill="#38b848"/>
<rect x="154.1" y="293.9" width="1.9" height="1.5" rx="0.4" fill="#38b848"/>
<rect x="157.7" y="296.2" width="1.9" height="1.5" rx="0.4" fill="#38b848"/>
<rect x="158.8" y="300.3" width="1.9" height="1.5" rx="0.4" fill="#38b848"/>
<rect x="161.2" y="301.5" width="1.9" height="1.5" rx="0.4" fill="#38b848"/>
<rect x="163.5" y="302.7" width="1.9" height="1.5" rx="0.4" fill="#38b848"/>
<rect x="165.2" y="298.6" width="1.9" height="1.5" rx="0.4" fill="#38b848"/>
<rect x="143.0" y="305.6" width="1.9" height="1.5" rx="0.4" fill="#38b848"/>
<rect x="143.0" y="306.7" width="1.9" height="1.5" rx="0.4" fill="#38b848"/>
<rect x="154.1" y="303.8" width="1.9" height="1.5" rx="0.4" fill="#38b848"/>
<rect x="153.6" y="307.9" width="1.9" height="1.5" rx="0.4" fill="#38b848"/>
<rect x="153.0" y="309.1" width="1.9" height="1.5" rx="0.4" fill="#38b848"/>
<rect x="161.2" y="309.7" width="1.9" height="1.5" rx="0.4" fill="#38b848"/>
<rect x="168.2" y="305.6" width="1.9" height="1.5" rx="0.4" fill="#38b848"/>
<rect x="169.9" y="308.5" width="1.9" height="1.5" rx="0.4" fill="#38b848"/>
<rect x="126.0" y="313.8" width="1.9" height="1.5" rx="0.4" fill="#38b848"/>
<rect x="127.9" y="313.2" width="1.9" height="1.5" rx="0.4" fill="#38b848"/>
<rect x="134.9" y="314.9" width="1.9" height="1.5" rx="0.4" fill="#38b848"/>
<rect x="137.8" y="313.2" width="1.9" height="1.5" rx="0.4" fill="#38b848"/>
<rect x="140.1" y="310.8" width="1.9" height="1.5" rx="0.4" fill="#38b848"/>
<rect x="141.9" y="312.6" width="1.9" height="1.5" rx="0.4" fill="#38b848"/>
<rect x="142.5" y="320.2" width="1.9" height="1.5" rx="0.4" fill="#38b848"/>
<rect x="158.2" y="317.8" width="1.9" height="1.5" rx="0.4" fill="#38b848"/>
<rect x="165.2" y="319.0" width="1.9" height="1.5" rx="0.4" fill="#38b848"/>
<rect x="165.8" y="320.2" width="1.9" height="1.5" rx="0.4" fill="#38b848"/>
<rect x="169.2" y="316.7" width="1.9" height="1.5" rx="0.4" fill="#38b848"/>
<rect x="174.6" y="326.6" width="1.9" height="1.5" rx="0.4" fill="#38b848"/>
<rect x="181.0" y="312.0" width="1.9" height="1.5" rx="0.4" fill="#38b848"/>
<circle cx="183.7" cy="292.9" r="10.4" fill="url(#mc1)"/>
<rect x="162.5" y="289.9" width="5" height="5" fill="none" stroke="#9a9a9a" stroke-width="0.6"/>
<rect x="206.1" y="286.3" width="1.9" height="1.5" rx="0.4" fill="#38b848"/>
<rect x="215.5" y="286.9" width="1.9" height="1.5" rx="0.4" fill="#38b848"/>
<rect x="215.5" y="288.1" width="1.9" height="1.5" rx="0.4" fill="#38b848"/>
<rect x="223.6" y="285.7" width="1.9" height="1.5" rx="0.4" fill="#38b848"/>
<rect x="240.0" y="282.8" width="1.9" height="1.5" rx="0.4" fill="#38b848"/>
<rect x="242.9" y="282.8" width="1.9" height="1.5" rx="0.4" fill="#38b848"/>
<rect x="250.5" y="281.6" width="1.9" height="1.5" rx="0.4" fill="#38b848"/>
<rect x="211.4" y="296.2" width="1.9" height="1.5" rx="0.4" fill="#38b848"/>
<rect x="220.7" y="295.1" width="1.9" height="1.5" rx="0.4" fill="#38b848"/>
<rect x="227.7" y="292.7" width="1.9" height="1.5" rx="0.4" fill="#38b848"/>
<rect x="230.6" y="291.6" width="1.9" height="1.5" rx="0.4" fill="#38b848"/>
<rect x="238.8" y="292.1" width="1.9" height="1.5" rx="0.4" fill="#38b848"/>
<rect x="239.4" y="293.3" width="1.9" height="1.5" rx="0.4" fill="#38b848"/>
<rect x="243.5" y="294.5" width="1.9" height="1.5" rx="0.4" fill="#38b848"/>
<rect x="245.2" y="293.9" width="1.9" height="1.5" rx="0.4" fill="#38b848"/>
<rect x="240.6" y="298.0" width="1.9" height="1.5" rx="0.4" fill="#38b848"/>
<rect x="240.0" y="299.1" width="1.9" height="1.5" rx="0.4" fill="#38b848"/>
<rect x="241.2" y="299.7" width="1.9" height="1.5" rx="0.4" fill="#38b848"/>
<rect x="213.7" y="300.3" width="1.9" height="1.5" rx="0.4" fill="#38b848"/>
<rect x="216.6" y="299.7" width="1.9" height="1.5" rx="0.4" fill="#38b848"/>
<rect x="230.6" y="299.1" width="1.9" height="1.5" rx="0.4" fill="#38b848"/>
<rect x="234.1" y="300.3" width="1.9" height="1.5" rx="0.4" fill="#38b848"/>
<rect x="230.1" y="301.5" width="1.9" height="1.5" rx="0.4" fill="#38b848"/>
<rect x="235.2" y="303.2" width="1.9" height="1.5" rx="0.4" fill="#38b848"/>
<rect x="242.2" y="303.2" width="1.9" height="1.5" rx="0.4" fill="#38b848"/>
<rect x="210.8" y="305.6" width="1.9" height="1.5" rx="0.4" fill="#38b848"/>
<rect x="214.9" y="305.6" width="1.9" height="1.5" rx="0.4" fill="#38b848"/>
<rect x="221.9" y="305.6" width="1.9" height="1.5" rx="0.4" fill="#38b848"/>
<rect x="231.8" y="307.3" width="1.9" height="1.5" rx="0.4" fill="#38b848"/>
<rect x="234.1" y="306.2" width="1.9" height="1.5" rx="0.4" fill="#38b848"/>
<rect x="239.4" y="307.3" width="1.9" height="1.5" rx="0.4" fill="#38b848"/>
<rect x="240.0" y="310.2" width="1.9" height="1.5" rx="0.4" fill="#38b848"/>
<rect x="237.7" y="312.0" width="1.9" height="1.5" rx="0.4" fill="#38b848"/>
<rect x="238.8" y="309.1" width="1.9" height="1.5" rx="0.4" fill="#38b848"/>
<rect x="242.9" y="312.0" width="1.9" height="1.5" rx="0.4" fill="#38b848"/>
<rect x="249.2" y="305.0" width="1.9" height="1.5" rx="0.4" fill="#38b848"/>
<rect x="252.8" y="306.2" width="1.9" height="1.5" rx="0.4" fill="#38b848"/>
<rect x="251.7" y="312.0" width="1.9" height="1.5" rx="0.4" fill="#38b848"/>
<rect x="225.4" y="309.1" width="1.9" height="1.5" rx="0.4" fill="#38b848"/>
<rect x="221.2" y="310.8" width="1.9" height="1.5" rx="0.4" fill="#38b848"/>
<rect x="226.6" y="311.4" width="1.9" height="1.5" rx="0.4" fill="#38b848"/>
<rect x="202.6" y="311.4" width="1.9" height="1.5" rx="0.4" fill="#38b848"/>
<rect x="204.4" y="313.2" width="1.9" height="1.5" rx="0.4" fill="#38b848"/>
<rect x="207.9" y="313.2" width="1.9" height="1.5" rx="0.4" fill="#38b848"/>
<rect x="213.7" y="313.8" width="1.9" height="1.5" rx="0.4" fill="#38b848"/>
<rect x="209.6" y="316.7" width="1.9" height="1.5" rx="0.4" fill="#38b848"/>
<rect x="212.0" y="317.3" width="1.9" height="1.5" rx="0.4" fill="#38b848"/>
<rect x="202.0" y="319.0" width="1.9" height="1.5" rx="0.4" fill="#38b848"/>
<rect x="204.4" y="319.6" width="1.9" height="1.5" rx="0.4" fill="#38b848"/>
<rect x="227.1" y="319.6" width="1.9" height="1.5" rx="0.4" fill="#38b848"/>
<rect x="245.8" y="319.0" width="1.9" height="1.5" rx="0.4" fill="#38b848"/>
<circle cx="265.2" cy="292.9" r="9.7" fill="url(#mc2)"/>
<ellipse cx="264.3" cy="290.8" rx="1.5" ry="1.5" fill="#1a4a40"/>
<ellipse cx="264.8" cy="294.1" rx="1.7" ry="1.7" fill="#1a4a40"/>
<rect x="247.3" y="297.5" width="7" height="5" fill="none" stroke="#9a9a9a" stroke-width="0.6"/>
<rect x="286.6" y="285.7" width="2.1" height="1.7" rx="0.4" fill="#229a38"/>
<rect x="287.1" y="286.3" width="2.1" height="1.7" rx="0.4" fill="#229a38"/>
<rect x="292.9" y="284.5" width="2.1" height="1.7" rx="0.4" fill="#229a38"/>
<rect x="299.3" y="282.8" width="2.1" height="1.7" rx="0.4" fill="#229a38"/>
<rect x="300.6" y="286.3" width="2.1" height="1.7" rx="0.4" fill="#229a38"/>
<rect x="299.9" y="287.5" width="2.1" height="1.7" rx="0.4" fill="#229a38"/>
<rect x="303.4" y="284.5" width="2.1" height="1.7" rx="0.4" fill="#229a38"/>
<rect x="306.9" y="283.4" width="2.1" height="1.7" rx="0.4" fill="#229a38"/>
<rect x="309.3" y="285.7" width="2.1" height="1.7" rx="0.4" fill="#229a38"/>
<rect x="309.9" y="291.6" width="2.1" height="1.7" rx="0.4" fill="#229a38"/>
<rect x="283.6" y="293.3" width="2.1" height="1.7" rx="0.4" fill="#229a38"/>
<rect x="283.6" y="296.2" width="2.1" height="1.7" rx="0.4" fill="#229a38"/>
<rect x="287.8" y="296.2" width="2.1" height="1.7" rx="0.4" fill="#229a38"/>
<rect x="290.6" y="297.4" width="2.1" height="1.7" rx="0.4" fill="#229a38"/>
<rect x="292.9" y="298.0" width="2.1" height="1.7" rx="0.4" fill="#229a38"/>
<rect x="299.3" y="295.6" width="2.1" height="1.7" rx="0.4" fill="#229a38"/>
<rect x="300.6" y="295.6" width="2.1" height="1.7" rx="0.4" fill="#229a38"/>
<rect x="306.4" y="298.0" width="2.1" height="1.7" rx="0.4" fill="#229a38"/>
<rect x="310.4" y="300.3" width="2.1" height="1.7" rx="0.4" fill="#229a38"/>
<rect x="313.9" y="296.8" width="2.1" height="1.7" rx="0.4" fill="#229a38"/>
<rect x="321.6" y="299.1" width="2.1" height="1.7" rx="0.4" fill="#229a38"/>
<rect x="322.1" y="300.3" width="2.1" height="1.7" rx="0.4" fill="#229a38"/>
<rect x="291.2" y="304.4" width="2.1" height="1.7" rx="0.4" fill="#229a38"/>
<rect x="295.3" y="307.3" width="2.1" height="1.7" rx="0.4" fill="#229a38"/>
<rect x="297.6" y="306.7" width="2.1" height="1.7" rx="0.4" fill="#229a38"/>
<rect x="299.9" y="303.2" width="2.1" height="1.7" rx="0.4" fill="#229a38"/>
<rect x="303.4" y="308.5" width="2.1" height="1.7" rx="0.4" fill="#229a38"/>
<rect x="305.8" y="307.9" width="2.1" height="1.7" rx="0.4" fill="#229a38"/>
<rect x="309.9" y="306.7" width="2.1" height="1.7" rx="0.4" fill="#229a38"/>
<rect x="314.6" y="307.3" width="2.1" height="1.7" rx="0.4" fill="#229a38"/>
<rect x="316.3" y="306.2" width="2.1" height="1.7" rx="0.4" fill="#229a38"/>
<rect x="322.8" y="310.2" width="2.1" height="1.7" rx="0.4" fill="#229a38"/>
<rect x="330.9" y="306.2" width="2.1" height="1.7" rx="0.4" fill="#229a38"/>
<rect x="331.6" y="307.9" width="2.1" height="1.7" rx="0.4" fill="#229a38"/>
<rect x="329.1" y="309.1" width="2.1" height="1.7" rx="0.4" fill="#229a38"/>
<rect x="300.6" y="312.6" width="2.1" height="1.7" rx="0.4" fill="#229a38"/>
<rect x="300.6" y="313.8" width="2.1" height="1.7" rx="0.4" fill="#229a38"/>
<rect x="304.1" y="314.9" width="2.1" height="1.7" rx="0.4" fill="#229a38"/>
<rect x="305.8" y="314.9" width="2.1" height="1.7" rx="0.4" fill="#229a38"/>
<rect x="310.4" y="313.2" width="2.1" height="1.7" rx="0.4" fill="#229a38"/>
<rect x="311.6" y="313.8" width="2.1" height="1.7" rx="0.4" fill="#229a38"/>
<rect x="314.6" y="314.3" width="2.1" height="1.7" rx="0.4" fill="#229a38"/>
<rect x="316.3" y="315.5" width="2.1" height="1.7" rx="0.4" fill="#229a38"/>
<rect x="317.6" y="316.1" width="2.1" height="1.7" rx="0.4" fill="#229a38"/>
<rect x="291.2" y="316.7" width="2.1" height="1.7" rx="0.4" fill="#229a38"/>
<rect x="294.1" y="315.5" width="2.1" height="1.7" rx="0.4" fill="#229a38"/>
<rect x="299.3" y="318.4" width="2.1" height="1.7" rx="0.4" fill="#229a38"/>
<rect x="306.4" y="318.4" width="2.1" height="1.7" rx="0.4" fill="#229a38"/>
<rect x="306.9" y="319.6" width="2.1" height="1.7" rx="0.4" fill="#229a38"/>
<rect x="316.9" y="323.1" width="2.1" height="1.7" rx="0.4" fill="#229a38"/>
<rect x="328.1" y="319.0" width="2.1" height="1.7" rx="0.4" fill="#229a38"/>
<rect x="287.8" y="325.4" width="2.1" height="1.7" rx="0.4" fill="#229a38"/>
<rect x="286.6" y="326.6" width="2.1" height="1.7" rx="0.4" fill="#229a38"/>
<rect x="308.8" y="326.6" width="2.1" height="1.7" rx="0.4" fill="#229a38"/>
<rect x="355.4" y="310.8" width="2.1" height="1.7" rx="0.4" fill="#229a38"/>
<rect x="353.8" y="313.8" width="2.1" height="1.7" rx="0.4" fill="#229a38"/>
<circle cx="336.2" cy="291.2" r="8.6" fill="#c8e040"/><circle cx="343.8" cy="298.8" r="8.9" fill="#c8e040"/>
<circle cx="335.5" cy="290.5" r="8.5" fill="#2060a0"/><circle cx="343" cy="298" r="8.8" fill="#2a70a0"/>
<circle cx="336.4" cy="291.2" r="7.2" fill="#2a9a30"/><circle cx="343.2" cy="297.8" r="7.6" fill="#2a9a30"/>
<ellipse cx="0" cy="0" rx="5.5" ry="3.2" fill="#5a7030" transform="translate(339.8,294.5) rotate(45)" opacity="0.7"/>
<ellipse cx="316.2" cy="306.9" rx="3.6" ry="2" fill="none" stroke="#8a8a8a" stroke-width="0.6"/>
<rect x="368.8" y="299.6" width="2.2" height="1.8" rx="0.4" fill="#229a38"/>
<rect x="369.4" y="303.1" width="2.2" height="1.8" rx="0.4" fill="#229a38"/>
<rect x="373.5" y="305.5" width="2.2" height="1.8" rx="0.4" fill="#229a38"/>
<rect x="371.2" y="311.3" width="2.2" height="1.8" rx="0.4" fill="#229a38"/>
<rect x="381.7" y="309.0" width="2.2" height="1.8" rx="0.4" fill="#229a38"/>
<rect x="384.0" y="310.7" width="2.2" height="1.8" rx="0.4" fill="#229a38"/>
<rect x="385.8" y="311.3" width="2.2" height="1.8" rx="0.4" fill="#229a38"/>
<rect x="384.0" y="316.6" width="2.2" height="1.8" rx="0.4" fill="#229a38"/>
<rect x="385.2" y="316.0" width="2.2" height="1.8" rx="0.4" fill="#229a38"/>
<rect x="382.8" y="321.2" width="2.2" height="1.8" rx="0.4" fill="#229a38"/>
<rect x="384.0" y="322.4" width="2.2" height="1.8" rx="0.4" fill="#229a38"/>
<rect x="386.4" y="323.0" width="2.2" height="1.8" rx="0.4" fill="#229a38"/>
<rect x="370.6" y="319.5" width="2.2" height="1.8" rx="0.4" fill="#229a38"/>
<rect x="366.5" y="322.4" width="2.2" height="1.8" rx="0.4" fill="#229a38"/>
<rect x="364.2" y="325.9" width="2.2" height="1.8" rx="0.4" fill="#229a38"/>
<rect x="363.0" y="317.2" width="2.2" height="1.8" rx="0.4" fill="#229a38"/>
<rect x="393.9" y="306.6" width="2.2" height="1.8" rx="0.4" fill="#229a38"/>
<rect x="396.3" y="304.3" width="2.2" height="1.8" rx="0.4" fill="#229a38"/>
<rect x="397.5" y="303.1" width="2.2" height="1.8" rx="0.4" fill="#229a38"/>
<rect x="398.6" y="302.6" width="2.2" height="1.8" rx="0.4" fill="#229a38"/>
<rect x="395.7" y="306.6" width="2.2" height="1.8" rx="0.4" fill="#229a38"/>
<rect x="397.5" y="313.7" width="2.2" height="1.8" rx="0.4" fill="#229a38"/>
<rect x="398.0" y="320.1" width="2.2" height="1.8" rx="0.4" fill="#229a38"/>
<rect x="401.5" y="307.8" width="2.2" height="1.8" rx="0.4" fill="#229a38"/>
<rect x="402.7" y="299.0" width="2.2" height="1.8" rx="0.4" fill="#229a38"/>
<rect x="405.0" y="292.6" width="2.2" height="1.8" rx="0.4" fill="#229a38"/>
<rect x="408.0" y="295.5" width="2.2" height="1.8" rx="0.4" fill="#229a38"/>
<rect x="406.8" y="302.0" width="2.2" height="1.8" rx="0.4" fill="#229a38"/>
<rect x="406.2" y="302.6" width="2.2" height="1.8" rx="0.4" fill="#229a38"/>
<rect x="408.0" y="306.1" width="2.2" height="1.8" rx="0.4" fill="#229a38"/>
<rect x="408.0" y="310.7" width="2.2" height="1.8" rx="0.4" fill="#229a38"/>
<rect x="408.5" y="316.0" width="2.2" height="1.8" rx="0.4" fill="#229a38"/>
<rect x="410.3" y="303.1" width="2.2" height="1.8" rx="0.4" fill="#229a38"/>
<rect x="412.6" y="299.0" width="2.2" height="1.8" rx="0.4" fill="#229a38"/>
<rect x="414.4" y="304.3" width="2.2" height="1.8" rx="0.4" fill="#229a38"/>
<rect x="417.3" y="299.6" width="2.2" height="1.8" rx="0.4" fill="#229a38"/>
<rect x="420.2" y="294.4" width="2.2" height="1.8" rx="0.4" fill="#229a38"/>
<rect x="421.4" y="293.8" width="2.2" height="1.8" rx="0.4" fill="#229a38"/>
<rect x="425.5" y="296.1" width="2.2" height="1.8" rx="0.4" fill="#229a38"/>
<rect x="426.1" y="297.9" width="2.2" height="1.8" rx="0.4" fill="#229a38"/>
<rect x="429.0" y="301.4" width="2.2" height="1.8" rx="0.4" fill="#229a38"/>
<rect x="433.7" y="302.0" width="2.2" height="1.8" rx="0.4" fill="#229a38"/>
<rect x="420.2" y="314.8" width="2.2" height="1.8" rx="0.4" fill="#229a38"/>
<rect x="424.3" y="321.8" width="2.2" height="1.8" rx="0.4" fill="#229a38"/>
<circle cx="376.9" cy="286.5" r="8" fill="url(#mc4)"/><circle cx="391" cy="294.7" r="9.4" fill="url(#mc4)"/>
<circle cx="392" cy="295.2" r="9.4" fill="none" stroke="#d0f040" stroke-width="0.6"/>
<rect x="410.7" y="291.4" width="6" height="3" fill="none" stroke="#9a9a9a" stroke-width="0.6"/>
<rect x="-24.2" y="-5.5" width="48.4" height="11.0" rx="0.5" fill="#d0e870" transform="translate(157.5,352.9) rotate(-27.3)" />
<rect x="-24.2" y="-4.7" width="48.4" height="9.4" rx="0.5" fill="#40b840" transform="translate(157.5,352.9) rotate(-27.3)" />
<rect x="-9.1" y="-4.0" width="18.1" height="8.0" rx="2.0" fill="#40b0a0" transform="translate(158.0,352.8) rotate(-28.0)" opacity="0.8"/>
<ellipse cx="145.7" cy="360.8" rx="2.5" ry="2.5" fill="#0a1a60"/>
<ellipse cx="152.7" cy="356.1" rx="2.5" ry="2.5" fill="#0a1a60"/>
<ellipse cx="165.6" cy="347.4" rx="2.3" ry="2.3" fill="#0a1a60"/>
<ellipse cx="173.2" cy="345" rx="2.3" ry="2.3" fill="#0a1a60"/>
<path d="M135.2,378.3 C137.3,377.3 143.7,374.6 148.0,372.5 C152.3,370.4 156.6,368.3 160.9,366.0 C165.2,363.7 169.6,360.9 174.0,358.5 C178.4,356.1 185.0,352.6 187.2,351.4" fill="none" stroke="#2a9a50" stroke-width="1.1" stroke-linecap="round" stroke-linejoin="round"/>
<rect x="160.7" y="363.5" width="5" height="4" fill="none" stroke="#9a9a9a" stroke-width="0.6"/>
<rect x="-26.7" y="-5.1" width="53.4" height="10.2" rx="0.5" fill="#d0e060" transform="translate(242.2,352.0) rotate(-23.9)" />
<rect x="-26.7" y="-4.4" width="53.4" height="8.8" rx="0.5" fill="#60c040" transform="translate(242.2,352.0) rotate(-23.9)" />
<rect x="-14.8" y="-3.5" width="29.5" height="7.0" rx="2.0" fill="#40a8a0" transform="translate(248.5,349.0) rotate(-24.0)" opacity="0.6"/>
<ellipse cx="221.6" cy="359" rx="2.3" ry="2.3" fill="#0a2a70"/>
<ellipse cx="235" cy="353.2" rx="1.6" ry="1.6" fill="#0a2a70"/>
<ellipse cx="239.7" cy="349.7" rx="1.8" ry="1.8" fill="#0a2a70"/>
<ellipse cx="247.9" cy="345" rx="2.6" ry="2.6" fill="#0a2a70"/>
<ellipse cx="254.9" cy="345.6" rx="2.1" ry="2.1" fill="#0a2a70"/>
<ellipse cx="248.5" cy="352" rx="1.6" ry="1.6" fill="#0a2a70"/>
<ellipse cx="260.7" cy="345" rx="1.5" ry="1.5" fill="#0a2a70"/>
<ellipse cx="226" cy="358" rx="1.3" ry="1.3" fill="#0a2a70"/>
<path d="M205.3,368.4 C206.6,368.3 209.8,367.5 212.8,367.8 C215.8,368.1 219.7,369.9 223.4,370.1 C227.1,370.3 231.1,369.9 235.0,369.0 C238.9,368.1 242.8,366.8 246.7,364.9 C250.6,362.9 255.1,358.9 258.4,357.3 C261.7,355.7 264.6,355.3 266.6,355.0 C268.7,354.7 270.0,355.4 270.7,355.5" fill="none" stroke="#1a5a20" stroke-width="1.6" stroke-linecap="round" stroke-linejoin="round"/>
<circle cx="205.2" cy="368.4" r="0.43" fill="#40a040"/>
<circle cx="206.5" cy="368.2" r="0.42" fill="#40a040"/>
<circle cx="207.7" cy="368.1" r="0.37" fill="#40a040"/>
<circle cx="209.5" cy="367.7" r="0.36" fill="#40a040"/>
<circle cx="211.0" cy="367.8" r="0.37" fill="#40a040"/>
<circle cx="212.7" cy="368.1" r="0.38" fill="#40a040"/>
<circle cx="214.1" cy="367.9" r="0.37" fill="#40a040"/>
<circle cx="215.1" cy="368.5" r="0.42" fill="#40a040"/>
<circle cx="216.5" cy="368.7" r="0.37" fill="#40a040"/>
<circle cx="217.6" cy="368.9" r="0.37" fill="#40a040"/>
<circle cx="219.3" cy="369.1" r="0.39" fill="#40a040"/>
<circle cx="222.1" cy="370.2" r="0.45" fill="#40a040"/>
<circle cx="223.6" cy="369.8" r="0.48" fill="#40a040"/>
<circle cx="224.6" cy="370.1" r="0.44" fill="#40a040"/>
<circle cx="225.7" cy="370.1" r="0.52" fill="#40a040"/>
<circle cx="226.9" cy="370.4" r="0.39" fill="#40a040"/>
<circle cx="228.3" cy="369.8" r="0.38" fill="#40a040"/>
<circle cx="230.1" cy="370.1" r="0.39" fill="#40a040"/>
<circle cx="230.9" cy="369.8" r="0.38" fill="#40a040"/>
<circle cx="232.3" cy="369.6" r="0.42" fill="#40a040"/>
<circle cx="233.7" cy="369.3" r="0.43" fill="#40a040"/>
<circle cx="234.8" cy="368.8" r="0.52" fill="#40a040"/>
<circle cx="236.2" cy="368.4" r="0.40" fill="#40a040"/>
<circle cx="238.6" cy="367.8" r="0.52" fill="#40a040"/>
<circle cx="240.4" cy="367.8" r="0.37" fill="#40a040"/>
<circle cx="241.4" cy="366.8" r="0.52" fill="#40a040"/>
<circle cx="242.6" cy="366.6" r="0.47" fill="#40a040"/>
<circle cx="244.0" cy="365.9" r="0.36" fill="#40a040"/>
<circle cx="246.4" cy="365.1" r="0.41" fill="#40a040"/>
<circle cx="248.8" cy="363.4" r="0.40" fill="#40a040"/>
<circle cx="250.6" cy="362.5" r="0.46" fill="#40a040"/>
<circle cx="251.5" cy="361.9" r="0.41" fill="#40a040"/>
<circle cx="253.9" cy="359.8" r="0.38" fill="#40a040"/>
<circle cx="254.9" cy="359.5" r="0.49" fill="#40a040"/>
<circle cx="256.0" cy="358.8" r="0.52" fill="#40a040"/>
<circle cx="257.5" cy="357.9" r="0.44" fill="#40a040"/>
<circle cx="258.6" cy="357.4" r="0.44" fill="#40a040"/>
<circle cx="260.0" cy="356.4" r="0.47" fill="#40a040"/>
<circle cx="261.3" cy="355.9" r="0.38" fill="#40a040"/>
<circle cx="263.0" cy="355.6" r="0.48" fill="#40a040"/>
<circle cx="266.8" cy="355.0" r="0.52" fill="#40a040"/>
<circle cx="268.6" cy="354.7" r="0.48" fill="#40a040"/>
<circle cx="269.8" cy="355.1" r="0.47" fill="#40a040"/>
<circle cx="270.8" cy="355.6" r="0.39" fill="#40a040"/>
<rect x="249.4" y="358.3" width="7.5" height="5" fill="none" stroke="#9a9a9a" stroke-width="0.6"/>
<polygon points="318.5,333.3 336.0,333.3 332.0,384.3 315.6,384.3" fill="#30c020" />
<polygon points="322.0,333.3 332.0,333.3 328.0,384.3 319.6,384.3" fill="#22a020" />
<ellipse cx="320.9" cy="342.1" rx="2.2" ry="2.2" fill="#081808"/>
<ellipse cx="325" cy="338" rx="2" ry="2" fill="#081808"/>
<ellipse cx="330.2" cy="339.8" rx="2.4" ry="3" fill="#081808"/>
<ellipse cx="329.6" cy="342.7" rx="2.2" ry="2.2" fill="#081808"/>
<ellipse cx="320.9" cy="348.5" rx="2.2" ry="2.2" fill="#081808"/>
<ellipse cx="321.5" cy="356.1" rx="2.2" ry="2.2" fill="#081808"/>
<ellipse cx="330.8" cy="356.1" rx="2.2" ry="2.2" fill="#081808"/>
<ellipse cx="323.8" cy="360.8" rx="2.2" ry="2.2" fill="#081808"/>
<ellipse cx="331.4" cy="364.9" rx="2" ry="2" fill="#081808"/>
<ellipse cx="320.9" cy="370.1" rx="2.2" ry="2.2" fill="#081808"/>
<ellipse cx="318.5" cy="374.2" rx="2" ry="2" fill="#081808"/>
<ellipse cx="327.9" cy="374.2" rx="2.3" ry="2.3" fill="#081808"/>
<path d="M311.0,333.9 C310.8,335.8 310.2,340.6 309.5,345.0 C308.8,349.4 308.0,353.6 307.0,360.0 C306.0,366.4 304.0,379.7 303.4,383.6" fill="none" stroke="#1a5a30" stroke-width="1.3" stroke-linecap="round" stroke-linejoin="round"/>
<circle cx="311.0" cy="333.8" r="0.31" fill="#2a8a50"/>
<circle cx="310.8" cy="334.4" r="0.31" fill="#2a8a50"/>
<circle cx="310.6" cy="335.3" r="0.37" fill="#2a8a50"/>
<circle cx="310.5" cy="337.4" r="0.34" fill="#2a8a50"/>
<circle cx="310.4" cy="338.3" r="0.31" fill="#2a8a50"/>
<circle cx="309.8" cy="342.3" r="0.36" fill="#2a8a50"/>
<circle cx="309.7" cy="343.9" r="0.32" fill="#2a8a50"/>
<circle cx="309.5" cy="344.8" r="0.42" fill="#2a8a50"/>
<circle cx="309.3" cy="345.7" r="0.31" fill="#2a8a50"/>
<circle cx="309.2" cy="346.6" r="0.43" fill="#2a8a50"/>
<circle cx="309.1" cy="347.6" r="0.35" fill="#2a8a50"/>
<circle cx="308.9" cy="348.5" r="0.40" fill="#2a8a50"/>
<circle cx="308.6" cy="350.0" r="0.43" fill="#2a8a50"/>
<circle cx="308.5" cy="350.7" r="0.34" fill="#2a8a50"/>
<circle cx="308.3" cy="351.6" r="0.31" fill="#2a8a50"/>
<circle cx="307.8" cy="353.8" r="0.32" fill="#2a8a50"/>
<circle cx="307.9" cy="355.1" r="0.31" fill="#2a8a50"/>
<circle cx="307.9" cy="356.0" r="0.39" fill="#2a8a50"/>
<circle cx="307.2" cy="357.4" r="0.31" fill="#2a8a50"/>
<circle cx="307.4" cy="358.8" r="0.32" fill="#2a8a50"/>
<circle cx="307.2" cy="360.2" r="0.42" fill="#2a8a50"/>
<circle cx="306.7" cy="361.0" r="0.42" fill="#2a8a50"/>
<circle cx="306.9" cy="361.7" r="0.38" fill="#2a8a50"/>
<circle cx="306.5" cy="364.2" r="0.39" fill="#2a8a50"/>
<circle cx="306.3" cy="365.4" r="0.40" fill="#2a8a50"/>
<circle cx="305.6" cy="367.7" r="0.33" fill="#2a8a50"/>
<circle cx="305.4" cy="368.7" r="0.35" fill="#2a8a50"/>
<circle cx="305.4" cy="370.3" r="0.30" fill="#2a8a50"/>
<circle cx="305.0" cy="371.6" r="0.34" fill="#2a8a50"/>
<circle cx="304.8" cy="372.7" r="0.35" fill="#2a8a50"/>
<circle cx="304.6" cy="374.0" r="0.31" fill="#2a8a50"/>
<circle cx="304.9" cy="375.0" r="0.43" fill="#2a8a50"/>
<circle cx="304.3" cy="376.5" r="0.40" fill="#2a8a50"/>
<circle cx="304.4" cy="377.5" r="0.40" fill="#2a8a50"/>
<circle cx="304.3" cy="378.8" r="0.43" fill="#2a8a50"/>
<circle cx="303.9" cy="379.7" r="0.35" fill="#2a8a50"/>
<circle cx="303.8" cy="380.7" r="0.37" fill="#2a8a50"/>
<circle cx="303.8" cy="381.7" r="0.33" fill="#2a8a50"/>
<circle cx="303.8" cy="382.1" r="0.35" fill="#2a8a50"/>
<circle cx="303.4" cy="383.8" r="0.40" fill="#2a8a50"/>
<rect x="307.8" y="338.6" width="4" height="7" fill="none" stroke="#9a9a9a" stroke-width="0.6"/>
<polygon points="375.0,333.5 394.0,341.0 388.0,353.0 385.0,372.5 364.7,370.0 371.0,339.0" fill="#30c020" />
<ellipse cx="376.4" cy="339.2" rx="2.4" ry="2.4" fill="#050a05"/>
<ellipse cx="384.5" cy="340.9" rx="2.5" ry="2.5" fill="#050a05"/>
<ellipse cx="390.4" cy="343.9" rx="2.2" ry="2.2" fill="#050a05"/>
<ellipse cx="377.5" cy="345.6" rx="2.2" ry="2.2" fill="#050a05"/>
<ellipse cx="373.4" cy="349.1" rx="2.2" ry="2.2" fill="#050a05"/>
<ellipse cx="380.4" cy="350.9" rx="2.4" ry="2.4" fill="#050a05"/>
<ellipse cx="376.9" cy="356.7" rx="2.4" ry="2.4" fill="#050a05"/>
<ellipse cx="384.5" cy="357.3" rx="2.5" ry="2.5" fill="#050a05"/>
<ellipse cx="372.3" cy="362" rx="2.2" ry="2.2" fill="#050a05"/>
<ellipse cx="376.9" cy="364.9" rx="2.4" ry="2.4" fill="#050a05"/>
<ellipse cx="381.6" cy="364.9" rx="2.4" ry="2.4" fill="#050a05"/>
<ellipse cx="368.8" cy="363.7" rx="1.8" ry="1.8" fill="#050a05"/>
<ellipse cx="371.1" cy="369" rx="2.2" ry="2.2" fill="#050a05"/>
<path d="M409.1,334.0 C408.4,335.7 406.4,340.6 405.0,344.0 C403.6,347.4 402.9,350.3 400.9,354.4 C398.8,358.5 395.6,363.5 392.7,368.4 C389.8,373.3 384.9,381.4 383.4,384.0" fill="none" stroke="#30a030" stroke-width="1.2" stroke-linecap="round" stroke-linejoin="round"/>
<path d="M414.3,334.0 C413.4,335.6 410.1,339.5 409.1,343.9 C408.1,348.3 408.3,353.5 408.5,360.2 C408.7,366.9 409.9,380.0 410.2,384.0" fill="none" stroke="#1a6a20" stroke-width="2.2" stroke-linecap="round" stroke-linejoin="round"/>
<circle cx="413.9" cy="333.7" r="0.60" fill="#30a030"/>
<circle cx="412.5" cy="336.2" r="0.71" fill="#30a030"/>
<circle cx="412.0" cy="337.9" r="0.52" fill="#30a030"/>
<circle cx="410.9" cy="339.6" r="0.71" fill="#30a030"/>
<circle cx="410.0" cy="341.6" r="0.71" fill="#30a030"/>
<circle cx="409.3" cy="344.3" r="0.63" fill="#30a030"/>
<circle cx="409.1" cy="345.6" r="0.69" fill="#30a030"/>
<circle cx="408.9" cy="347.1" r="0.54" fill="#30a030"/>
<circle cx="408.5" cy="349.9" r="0.68" fill="#30a030"/>
<circle cx="408.4" cy="352.4" r="0.58" fill="#30a030"/>
<circle cx="408.7" cy="353.7" r="0.60" fill="#30a030"/>
<circle cx="408.8" cy="356.3" r="0.53" fill="#30a030"/>
<circle cx="408.7" cy="358.4" r="0.73" fill="#30a030"/>
<circle cx="408.6" cy="361.7" r="0.72" fill="#30a030"/>
<circle cx="408.6" cy="365.9" r="0.56" fill="#30a030"/>
<circle cx="409.3" cy="368.0" r="0.62" fill="#30a030"/>
<circle cx="409.0" cy="369.8" r="0.70" fill="#30a030"/>
<circle cx="409.5" cy="371.9" r="0.71" fill="#30a030"/>
<circle cx="409.5" cy="375.8" r="0.62" fill="#30a030"/>
<circle cx="410.0" cy="378.6" r="0.71" fill="#30a030"/>
<circle cx="410.2" cy="379.8" r="0.72" fill="#30a030"/>
<circle cx="409.9" cy="383.1" r="0.57" fill="#30a030"/>
<circle cx="410.6" cy="383.7" r="0.65" fill="#30a030"/>
<rect x="408.7" y="341.9" width="3" height="4" fill="none" stroke="#9a9a9a" stroke-width="0.6"/>
<ellipse cx="0" cy="0" rx="10.8" ry="7.9" fill="#e0f070" transform="translate(133.7,403.2) rotate(0)" />
<ellipse cx="0" cy="0" rx="11.4" ry="8.8" fill="#e0f070" transform="translate(155.3,399.5) rotate(-5)" />
<ellipse cx="0" cy="0" rx="10" ry="7.2" fill="#40b030" transform="translate(133.7,403.2) rotate(0)" />
<ellipse cx="0" cy="0" rx="10.6" ry="8.1" fill="#40b030" transform="translate(155.3,399.5) rotate(-5)" />
<ellipse cx="136.4" cy="403.5" rx="1.5" ry="1.5" fill="#102010"/>
<ellipse cx="160.3" cy="397.7" rx="1.6" ry="1.6" fill="#102010"/>
<path d="M177.2,388.9 C176.0,390.2 171.6,393.5 170.2,396.5 C168.8,399.5 169.5,403.8 168.5,407.0 C167.5,410.2 166.7,414.1 164.4,415.8 C162.2,417.5 157.9,416.7 155.0,417.0 C152.1,417.3 150.0,416.4 146.9,417.5 C143.8,418.6 139.4,421.3 136.4,423.4 C133.4,425.4 131.2,428.6 128.8,429.8 C126.5,431.0 123.4,430.3 122.3,430.4" fill="none" stroke="#2a8a30" stroke-width="1.3" stroke-linecap="round" stroke-linejoin="round"/>
<circle cx="176.6" cy="389.3" r="0.42" fill="#40b040"/>
<circle cx="176.0" cy="389.8" r="0.42" fill="#40b040"/>
<circle cx="175.1" cy="390.6" r="0.37" fill="#40b040"/>
<circle cx="174.1" cy="391.8" r="0.30" fill="#40b040"/>
<circle cx="173.3" cy="392.7" r="0.42" fill="#40b040"/>
<circle cx="172.2" cy="393.7" r="0.37" fill="#40b040"/>
<circle cx="171.6" cy="394.5" r="0.43" fill="#40b040"/>
<circle cx="171.0" cy="395.3" r="0.34" fill="#40b040"/>
<circle cx="170.1" cy="396.3" r="0.32" fill="#40b040"/>
<circle cx="169.9" cy="397.3" r="0.38" fill="#40b040"/>
<circle cx="169.4" cy="398.4" r="0.31" fill="#40b040"/>
<circle cx="169.6" cy="399.6" r="0.35" fill="#40b040"/>
<circle cx="169.1" cy="400.6" r="0.40" fill="#40b040"/>
<circle cx="169.1" cy="401.8" r="0.35" fill="#40b040"/>
<circle cx="169.3" cy="403.0" r="0.40" fill="#40b040"/>
<circle cx="168.8" cy="405.0" r="0.34" fill="#40b040"/>
<circle cx="168.5" cy="406.1" r="0.43" fill="#40b040"/>
<circle cx="168.4" cy="406.9" r="0.37" fill="#40b040"/>
<circle cx="168.3" cy="407.9" r="0.30" fill="#40b040"/>
<circle cx="167.4" cy="410.1" r="0.31" fill="#40b040"/>
<circle cx="166.9" cy="411.6" r="0.40" fill="#40b040"/>
<circle cx="166.6" cy="412.7" r="0.35" fill="#40b040"/>
<circle cx="166.2" cy="413.4" r="0.36" fill="#40b040"/>
<circle cx="165.5" cy="414.2" r="0.40" fill="#40b040"/>
<circle cx="165.0" cy="415.0" r="0.31" fill="#40b040"/>
<circle cx="164.6" cy="415.8" r="0.36" fill="#40b040"/>
<circle cx="163.3" cy="416.2" r="0.32" fill="#40b040"/>
<circle cx="161.4" cy="416.6" r="0.36" fill="#40b040"/>
<circle cx="160.7" cy="417.0" r="0.39" fill="#40b040"/>
<circle cx="158.4" cy="417.0" r="0.36" fill="#40b040"/>
<circle cx="157.2" cy="417.1" r="0.36" fill="#40b040"/>
<circle cx="156.2" cy="417.0" r="0.31" fill="#40b040"/>
<circle cx="154.8" cy="417.0" r="0.39" fill="#40b040"/>
<circle cx="153.6" cy="416.8" r="0.36" fill="#40b040"/>
<circle cx="150.2" cy="417.0" r="0.42" fill="#40b040"/>
<circle cx="147.1" cy="417.7" r="0.32" fill="#40b040"/>
<circle cx="146.0" cy="417.8" r="0.33" fill="#40b040"/>
<circle cx="145.2" cy="418.2" r="0.39" fill="#40b040"/>
<circle cx="144.0" cy="418.6" r="0.39" fill="#40b040"/>
<circle cx="143.2" cy="419.4" r="0.30" fill="#40b040"/>
<circle cx="141.9" cy="419.7" r="0.42" fill="#40b040"/>
<circle cx="139.9" cy="420.8" r="0.30" fill="#40b040"/>
<circle cx="139.3" cy="421.4" r="0.41" fill="#40b040"/>
<circle cx="138.2" cy="422.0" r="0.44" fill="#40b040"/>
<circle cx="137.5" cy="422.7" r="0.32" fill="#40b040"/>
<circle cx="135.6" cy="424.2" r="0.34" fill="#40b040"/>
<circle cx="134.7" cy="425.1" r="0.30" fill="#40b040"/>
<circle cx="133.5" cy="425.7" r="0.32" fill="#40b040"/>
<circle cx="132.6" cy="426.6" r="0.31" fill="#40b040"/>
<circle cx="131.8" cy="427.6" r="0.39" fill="#40b040"/>
<circle cx="131.1" cy="427.9" r="0.43" fill="#40b040"/>
<circle cx="130.1" cy="428.7" r="0.38" fill="#40b040"/>
<circle cx="128.7" cy="429.7" r="0.41" fill="#40b040"/>
<circle cx="127.6" cy="430.3" r="0.42" fill="#40b040"/>
<circle cx="126.5" cy="430.2" r="0.42" fill="#40b040"/>
<circle cx="125.0" cy="430.6" r="0.34" fill="#40b040"/>
<circle cx="123.9" cy="430.3" r="0.37" fill="#40b040"/>
<circle cx="123.1" cy="430.1" r="0.43" fill="#40b040"/>
<circle cx="122.3" cy="430.2" r="0.33" fill="#40b040"/>
<path d="M128.8,429.8 C130.2,430.1 132.9,430.9 137.5,431.6 C142.1,432.3 150.9,434.3 156.2,433.9 C161.5,433.5 165.0,431.3 169.1,429.2 C173.2,427.1 175.9,422.4 180.7,421.0 C185.5,419.6 194.9,421.0 197.7,421.0" fill="none" stroke="#2a8a30" stroke-width="1.3" stroke-linecap="round" stroke-linejoin="round"/>
<circle cx="128.8" cy="430.0" r="0.33" fill="#40b040"/>
<circle cx="130.1" cy="430.2" r="0.43" fill="#40b040"/>
<circle cx="132.0" cy="430.6" r="0.31" fill="#40b040"/>
<circle cx="133.3" cy="430.8" r="0.36" fill="#40b040"/>
<circle cx="134.6" cy="431.0" r="0.35" fill="#40b040"/>
<circle cx="137.6" cy="431.6" r="0.31" fill="#40b040"/>
<circle cx="139.0" cy="431.7" r="0.34" fill="#40b040"/>
<circle cx="140.0" cy="432.1" r="0.30" fill="#40b040"/>
<circle cx="141.2" cy="432.4" r="0.31" fill="#40b040"/>
<circle cx="141.9" cy="432.5" r="0.42" fill="#40b040"/>
<circle cx="144.2" cy="433.0" r="0.30" fill="#40b040"/>
<circle cx="145.2" cy="432.7" r="0.44" fill="#40b040"/>
<circle cx="146.7" cy="433.1" r="0.43" fill="#40b040"/>
<circle cx="149.0" cy="433.5" r="0.31" fill="#40b040"/>
<circle cx="150.1" cy="433.5" r="0.33" fill="#40b040"/>
<circle cx="152.3" cy="433.6" r="0.40" fill="#40b040"/>
<circle cx="154.4" cy="433.7" r="0.34" fill="#40b040"/>
<circle cx="156.1" cy="433.8" r="0.40" fill="#40b040"/>
<circle cx="157.6" cy="433.5" r="0.31" fill="#40b040"/>
<circle cx="158.6" cy="433.6" r="0.41" fill="#40b040"/>
<circle cx="159.4" cy="433.5" r="0.38" fill="#40b040"/>
<circle cx="160.5" cy="432.9" r="0.30" fill="#40b040"/>
<circle cx="163.6" cy="431.9" r="0.40" fill="#40b040"/>
<circle cx="164.5" cy="431.7" r="0.30" fill="#40b040"/>
<circle cx="165.4" cy="431.1" r="0.29" fill="#40b040"/>
<circle cx="166.3" cy="430.5" r="0.34" fill="#40b040"/>
<circle cx="167.2" cy="430.4" r="0.36" fill="#40b040"/>
<circle cx="168.2" cy="429.7" r="0.31" fill="#40b040"/>
<circle cx="168.9" cy="429.0" r="0.40" fill="#40b040"/>
<circle cx="170.9" cy="428.1" r="0.43" fill="#40b040"/>
<circle cx="171.5" cy="427.2" r="0.34" fill="#40b040"/>
<circle cx="172.6" cy="426.7" r="0.37" fill="#40b040"/>
<circle cx="173.3" cy="426.2" r="0.34" fill="#40b040"/>
<circle cx="174.2" cy="425.3" r="0.30" fill="#40b040"/>
<circle cx="175.3" cy="424.6" r="0.42" fill="#40b040"/>
<circle cx="177.7" cy="422.5" r="0.30" fill="#40b040"/>
<circle cx="178.4" cy="421.9" r="0.30" fill="#40b040"/>
<circle cx="181.0" cy="421.2" r="0.41" fill="#40b040"/>
<circle cx="181.5" cy="420.5" r="0.30" fill="#40b040"/>
<circle cx="184.0" cy="420.7" r="0.36" fill="#40b040"/>
<circle cx="184.8" cy="420.4" r="0.36" fill="#40b040"/>
<circle cx="188.5" cy="420.2" r="0.32" fill="#40b040"/>
<circle cx="190.0" cy="420.6" r="0.34" fill="#40b040"/>
<circle cx="191.4" cy="420.5" r="0.31" fill="#40b040"/>
<circle cx="192.1" cy="420.7" r="0.37" fill="#40b040"/>
<circle cx="194.7" cy="420.7" r="0.43" fill="#40b040"/>
<circle cx="195.4" cy="420.7" r="0.37" fill="#40b040"/>
<circle cx="196.5" cy="421.2" r="0.38" fill="#40b040"/>
<circle cx="197.0" cy="421.0" r="0.34" fill="#40b040"/>
<circle cx="197.5" cy="421.2" r="0.34" fill="#40b040"/>
<rect x="157.2" y="415.5" width="5" height="4" fill="none" stroke="#9a9a9a" stroke-width="0.6"/>
<rect x="-13.6" y="-6.8" width="27.3" height="13.5" rx="6.8" fill="#c8e870" transform="translate(216.5,407.0) rotate(61.6)" />
<rect x="-11.3" y="-6.5" width="22.6" height="13.0" rx="6.5" fill="#c8e870" transform="translate(229.5,425.2) rotate(54.9)" />
<rect x="-13.6" y="-6.0" width="27.3" height="12.0" rx="6.0" fill="#44a844" transform="translate(216.5,407.0) rotate(61.6)" />
<rect x="-11.3" y="-5.8" width="22.6" height="11.5" rx="5.8" fill="#44a844" transform="translate(229.5,425.2) rotate(54.9)" />
<ellipse cx="214" cy="400.6" rx="2.6" ry="2.6" fill="#0a2a50"/>
<ellipse cx="218.7" cy="410.5" rx="2.6" ry="2.6" fill="#0a2a50"/>
<ellipse cx="228" cy="424.6" rx="2.4" ry="2.4" fill="#0a2a50"/>
<ellipse cx="229.8" cy="430.4" rx="1.5" ry="1.5" fill="#0a2a50"/>
<ellipse cx="234.5" cy="430.4" rx="1.5" ry="1.5" fill="#0a2a50"/>
<path d="M202.3,394.2 C204.5,393.7 211.1,392.0 215.2,391.3 C219.3,390.6 223.8,390.0 226.9,390.1 C230.0,390.2 232.0,390.3 233.9,391.8 C235.8,393.3 236.8,396.9 238.6,398.9 C240.3,400.8 242.3,401.9 244.4,403.5 C246.5,405.1 249.3,405.9 251.4,408.2 C253.5,410.5 256.2,415.9 257.2,417.5" fill="none" stroke="#2a8a30" stroke-width="1.2" stroke-linecap="round" stroke-linejoin="round"/>
<circle cx="202.2" cy="394.2" r="0.28" fill="#40b040"/>
<circle cx="202.6" cy="394.2" r="0.28" fill="#40b040"/>
<circle cx="203.6" cy="393.9" r="0.39" fill="#40b040"/>
<circle cx="205.4" cy="393.2" r="0.36" fill="#40b040"/>
<circle cx="206.2" cy="393.0" r="0.35" fill="#40b040"/>
<circle cx="208.7" cy="392.9" r="0.36" fill="#40b040"/>
<circle cx="209.9" cy="392.3" r="0.38" fill="#40b040"/>
<circle cx="210.8" cy="392.3" r="0.34" fill="#40b040"/>
<circle cx="212.9" cy="391.6" r="0.31" fill="#40b040"/>
<circle cx="214.4" cy="391.5" r="0.30" fill="#40b040"/>
<circle cx="215.3" cy="391.2" r="0.29" fill="#40b040"/>
<circle cx="216.4" cy="391.0" r="0.36" fill="#40b040"/>
<circle cx="217.4" cy="390.8" r="0.35" fill="#40b040"/>
<circle cx="218.1" cy="391.0" r="0.30" fill="#40b040"/>
<circle cx="219.2" cy="390.5" r="0.28" fill="#40b040"/>
<circle cx="221.5" cy="390.5" r="0.30" fill="#40b040"/>
<circle cx="223.3" cy="390.2" r="0.37" fill="#40b040"/>
<circle cx="224.6" cy="390.0" r="0.33" fill="#40b040"/>
<circle cx="226.0" cy="390.1" r="0.27" fill="#40b040"/>
<circle cx="227.1" cy="390.2" r="0.33" fill="#40b040"/>
<circle cx="228.0" cy="390.0" r="0.33" fill="#40b040"/>
<circle cx="229.2" cy="390.0" r="0.37" fill="#40b040"/>
<circle cx="231.5" cy="390.4" r="0.30" fill="#40b040"/>
<circle cx="233.1" cy="391.4" r="0.40" fill="#40b040"/>
<circle cx="234.0" cy="392.0" r="0.37" fill="#40b040"/>
<circle cx="234.8" cy="392.7" r="0.28" fill="#40b040"/>
<circle cx="235.2" cy="393.1" r="0.39" fill="#40b040"/>
<circle cx="235.9" cy="394.1" r="0.31" fill="#40b040"/>
<circle cx="236.8" cy="396.2" r="0.31" fill="#40b040"/>
<circle cx="237.5" cy="397.1" r="0.40" fill="#40b040"/>
<circle cx="238.0" cy="398.2" r="0.39" fill="#40b040"/>
<circle cx="240.3" cy="400.5" r="0.38" fill="#40b040"/>
<circle cx="241.0" cy="401.3" r="0.28" fill="#40b040"/>
<circle cx="241.7" cy="401.7" r="0.33" fill="#40b040"/>
<circle cx="242.5" cy="402.5" r="0.39" fill="#40b040"/>
<circle cx="243.7" cy="402.8" r="0.36" fill="#40b040"/>
<circle cx="244.5" cy="403.7" r="0.34" fill="#40b040"/>
<circle cx="245.1" cy="403.9" r="0.38" fill="#40b040"/>
<circle cx="247.1" cy="404.9" r="0.31" fill="#40b040"/>
<circle cx="248.9" cy="406.1" r="0.31" fill="#40b040"/>
<circle cx="249.7" cy="406.7" r="0.34" fill="#40b040"/>
<circle cx="250.3" cy="407.4" r="0.28" fill="#40b040"/>
<circle cx="251.5" cy="408.0" r="0.29" fill="#40b040"/>
<circle cx="252.6" cy="409.8" r="0.34" fill="#40b040"/>
<circle cx="253.1" cy="410.9" r="0.32" fill="#40b040"/>
<circle cx="253.9" cy="411.6" r="0.39" fill="#40b040"/>
<circle cx="254.2" cy="412.5" r="0.31" fill="#40b040"/>
<circle cx="254.9" cy="413.6" r="0.37" fill="#40b040"/>
<circle cx="255.8" cy="414.6" r="0.34" fill="#40b040"/>
<circle cx="256.6" cy="416.1" r="0.40" fill="#40b040"/>
<circle cx="257.1" cy="416.8" r="0.30" fill="#40b040"/>
<circle cx="257.3" cy="417.7" r="0.29" fill="#40b040"/>
<path d="M229.2,411.1 C230.8,410.2 236.1,407.2 238.6,405.9 C241.1,404.6 241.5,403.3 244.4,403.5 C247.3,403.7 252.6,406.6 256.1,407.0 C259.6,407.4 261.8,406.9 265.4,405.9 C269.0,404.9 275.6,402.0 277.7,401.2" fill="none" stroke="#2a8a30" stroke-width="1.2" stroke-linecap="round" stroke-linejoin="round"/>
<circle cx="229.7" cy="410.7" r="0.39" fill="#40b040"/>
<circle cx="230.3" cy="410.4" r="0.34" fill="#40b040"/>
<circle cx="231.3" cy="409.8" r="0.27" fill="#40b040"/>
<circle cx="231.8" cy="409.3" r="0.35" fill="#40b040"/>
<circle cx="234.0" cy="408.3" r="0.34" fill="#40b040"/>
<circle cx="234.8" cy="407.6" r="0.27" fill="#40b040"/>
<circle cx="236.0" cy="407.0" r="0.37" fill="#40b040"/>
<circle cx="237.2" cy="406.9" r="0.31" fill="#40b040"/>
<circle cx="239.6" cy="405.2" r="0.38" fill="#40b040"/>
<circle cx="240.6" cy="404.4" r="0.39" fill="#40b040"/>
<circle cx="241.3" cy="404.0" r="0.28" fill="#40b040"/>
<circle cx="242.2" cy="403.6" r="0.36" fill="#40b040"/>
<circle cx="243.1" cy="403.8" r="0.30" fill="#40b040"/>
<circle cx="244.6" cy="403.6" r="0.28" fill="#40b040"/>
<circle cx="247.0" cy="404.2" r="0.37" fill="#40b040"/>
<circle cx="248.1" cy="404.3" r="0.37" fill="#40b040"/>
<circle cx="249.1" cy="404.7" r="0.33" fill="#40b040"/>
<circle cx="250.1" cy="405.2" r="0.31" fill="#40b040"/>
<circle cx="251.0" cy="405.7" r="0.39" fill="#40b040"/>
<circle cx="253.0" cy="406.4" r="0.28" fill="#40b040"/>
<circle cx="254.3" cy="406.5" r="0.34" fill="#40b040"/>
<circle cx="255.2" cy="406.7" r="0.36" fill="#40b040"/>
<circle cx="256.1" cy="406.8" r="0.30" fill="#40b040"/>
<circle cx="257.3" cy="407.0" r="0.33" fill="#40b040"/>
<circle cx="259.2" cy="407.1" r="0.29" fill="#40b040"/>
<circle cx="260.4" cy="406.8" r="0.28" fill="#40b040"/>
<circle cx="261.1" cy="406.8" r="0.35" fill="#40b040"/>
<circle cx="263.1" cy="406.4" r="0.36" fill="#40b040"/>
<circle cx="264.4" cy="406.1" r="0.35" fill="#40b040"/>
<circle cx="265.6" cy="406.0" r="0.32" fill="#40b040"/>
<circle cx="266.5" cy="405.6" r="0.32" fill="#40b040"/>
<circle cx="267.0" cy="405.3" r="0.40" fill="#40b040"/>
<circle cx="268.3" cy="404.7" r="0.28" fill="#40b040"/>
<circle cx="270.4" cy="404.4" r="0.36" fill="#40b040"/>
<circle cx="271.4" cy="403.6" r="0.37" fill="#40b040"/>
<circle cx="273.6" cy="403.1" r="0.37" fill="#40b040"/>
<circle cx="274.5" cy="402.4" r="0.38" fill="#40b040"/>
<circle cx="275.4" cy="401.8" r="0.37" fill="#40b040"/>
<circle cx="276.3" cy="401.8" r="0.37" fill="#40b040"/>
<circle cx="277.4" cy="401.2" r="0.27" fill="#40b040"/>
<circle cx="277.6" cy="401.2" r="0.36" fill="#40b040"/>
<rect x="234.4" y="395.2" width="6" height="5" fill="none" stroke="#9a9a9a" stroke-width="0.6"/>
<ellipse cx="0" cy="0" rx="13.2" ry="9.2" fill="#c8e870" transform="translate(302.8,414.9) rotate(-35)" />
<ellipse cx="0" cy="0" rx="13.2" ry="9.2" fill="#c8e870" transform="translate(323,402) rotate(-35)" />
<ellipse cx="0" cy="0" rx="12.4" ry="8.4" fill="#40b030" transform="translate(302.8,414.9) rotate(-35)" />
<ellipse cx="0" cy="0" rx="12.4" ry="8.4" fill="#40b030" transform="translate(323,402) rotate(-35)" />
<ellipse cx="301" cy="417" rx="2.5" ry="2.5" fill="#203020"/>
<ellipse cx="305.1" cy="412.3" rx="1.8" ry="1.8" fill="#203020"/>
<ellipse cx="317.4" cy="401.2" rx="1.6" ry="1.6" fill="#203020"/>
<ellipse cx="317.4" cy="404.7" rx="1.6" ry="1.6" fill="#203020"/>
<ellipse cx="321.5" cy="407" rx="1.6" ry="1.6" fill="#203020"/>
<ellipse cx="326.1" cy="398.9" rx="1.6" ry="1.6" fill="#203020"/>
<path d="M296.4,432.1 C297.7,432.7 300.9,436.5 304.0,435.6 C307.1,434.7 310.8,430.5 315.0,426.9 C319.2,423.3 324.1,418.0 329.0,414.0 C333.9,410.0 341.3,405.9 344.3,403.0 C347.3,400.1 346.7,397.6 347.2,396.5" fill="none" stroke="#2a8a30" stroke-width="1.2" stroke-linecap="round" stroke-linejoin="round"/>
<circle cx="296.9" cy="432.6" r="0.30" fill="#40b040"/>
<circle cx="297.6" cy="432.9" r="0.40" fill="#40b040"/>
<circle cx="298.5" cy="433.9" r="0.38" fill="#40b040"/>
<circle cx="299.3" cy="434.6" r="0.31" fill="#40b040"/>
<circle cx="301.5" cy="435.4" r="0.31" fill="#40b040"/>
<circle cx="304.1" cy="435.7" r="0.39" fill="#40b040"/>
<circle cx="304.6" cy="435.2" r="0.37" fill="#40b040"/>
<circle cx="305.5" cy="435.1" r="0.34" fill="#40b040"/>
<circle cx="306.9" cy="434.0" r="0.38" fill="#40b040"/>
<circle cx="307.6" cy="433.4" r="0.35" fill="#40b040"/>
<circle cx="308.1" cy="432.9" r="0.36" fill="#40b040"/>
<circle cx="309.2" cy="432.1" r="0.36" fill="#40b040"/>
<circle cx="309.7" cy="431.7" r="0.40" fill="#40b040"/>
<circle cx="310.9" cy="430.9" r="0.31" fill="#40b040"/>
<circle cx="311.6" cy="430.1" r="0.33" fill="#40b040"/>
<circle cx="313.3" cy="428.4" r="0.32" fill="#40b040"/>
<circle cx="315.6" cy="426.5" r="0.39" fill="#40b040"/>
<circle cx="316.6" cy="425.9" r="0.29" fill="#40b040"/>
<circle cx="317.1" cy="425.2" r="0.37" fill="#40b040"/>
<circle cx="317.5" cy="424.3" r="0.29" fill="#40b040"/>
<circle cx="318.6" cy="423.9" r="0.33" fill="#40b040"/>
<circle cx="319.1" cy="423.3" r="0.30" fill="#40b040"/>
<circle cx="320.0" cy="422.3" r="0.31" fill="#40b040"/>
<circle cx="324.4" cy="418.2" r="0.28" fill="#40b040"/>
<circle cx="325.0" cy="417.3" r="0.28" fill="#40b040"/>
<circle cx="325.9" cy="416.5" r="0.33" fill="#40b040"/>
<circle cx="327.6" cy="415.1" r="0.32" fill="#40b040"/>
<circle cx="328.1" cy="414.7" r="0.34" fill="#40b040"/>
<circle cx="329.1" cy="414.2" r="0.31" fill="#40b040"/>
<circle cx="331.7" cy="411.9" r="0.39" fill="#40b040"/>
<circle cx="333.1" cy="411.1" r="0.34" fill="#40b040"/>
<circle cx="334.1" cy="410.1" r="0.28" fill="#40b040"/>
<circle cx="334.9" cy="409.6" r="0.33" fill="#40b040"/>
<circle cx="336.1" cy="409.1" r="0.34" fill="#40b040"/>
<circle cx="336.8" cy="408.2" r="0.34" fill="#40b040"/>
<circle cx="337.7" cy="407.6" r="0.35" fill="#40b040"/>
<circle cx="339.6" cy="406.6" r="0.39" fill="#40b040"/>
<circle cx="341.0" cy="405.6" r="0.35" fill="#40b040"/>
<circle cx="341.8" cy="405.0" r="0.39" fill="#40b040"/>
<circle cx="344.1" cy="402.9" r="0.31" fill="#40b040"/>
<circle cx="345.6" cy="401.7" r="0.31" fill="#40b040"/>
<circle cx="346.0" cy="400.8" r="0.29" fill="#40b040"/>
<circle cx="346.9" cy="398.4" r="0.36" fill="#40b040"/>
<circle cx="346.9" cy="397.6" r="0.32" fill="#40b040"/>
<circle cx="346.9" cy="397.1" r="0.36" fill="#40b040"/>
<circle cx="347.2" cy="396.3" r="0.34" fill="#40b040"/>
<rect x="327.7" y="411.5" width="5" height="5" fill="none" stroke="#9a9a9a" stroke-width="0.6"/>
<path d="M376.5,389.0 C377.6,391.3 380.1,399.3 382.9,402.7 C385.6,406.0 391.2,404.6 393.3,409.3 C395.3,413.9 393.5,425.6 395.1,430.5 C396.8,435.5 402.1,437.6 403.5,439.0" fill="none" stroke="#2a9a2a" stroke-width="0.9" stroke-linecap="round" stroke-linejoin="round"/>
<circle cx="376.6" cy="390.3" r="0.46" fill="#031503"/>
<circle cx="377.5" cy="391.6" r="0.36" fill="#031503"/>
<circle cx="377.6" cy="391.8" r="0.63" fill="#031503"/>
<circle cx="377.9" cy="392.6" r="0.39" fill="#031503"/>
<circle cx="378.8" cy="393.5" r="0.63" fill="#031503"/>
<circle cx="378.5" cy="394.1" r="0.37" fill="#031503"/>
<circle cx="379.3" cy="395.9" r="0.63" fill="#031503"/>
<circle cx="379.9" cy="396.4" r="0.49" fill="#031503"/>
<circle cx="379.8" cy="398.2" r="0.61" fill="#031503"/>
<circle cx="381.3" cy="399.6" r="0.55" fill="#031503"/>
<circle cx="381.0" cy="401.2" r="0.60" fill="#031503"/>
<circle cx="382.7" cy="401.9" r="0.37" fill="#031503"/>
<circle cx="383.2" cy="403.2" r="0.40" fill="#031503"/>
<circle cx="385.2" cy="404.1" r="0.52" fill="#031503"/>
<circle cx="385.0" cy="404.0" r="0.40" fill="#031503"/>
<circle cx="385.8" cy="404.8" r="0.42" fill="#031503"/>
<circle cx="387.0" cy="404.9" r="0.49" fill="#031503"/>
<circle cx="388.0" cy="404.8" r="0.39" fill="#031503"/>
<circle cx="388.7" cy="405.6" r="0.45" fill="#031503"/>
<circle cx="389.1" cy="405.8" r="0.52" fill="#031503"/>
<circle cx="391.2" cy="406.1" r="0.57" fill="#031503"/>
<circle cx="391.7" cy="407.5" r="0.57" fill="#031503"/>
<circle cx="392.1" cy="408.3" r="0.57" fill="#031503"/>
<circle cx="393.6" cy="409.4" r="0.52" fill="#031503"/>
<circle cx="393.7" cy="409.7" r="0.43" fill="#031503"/>
<circle cx="393.7" cy="411.1" r="0.64" fill="#031503"/>
<circle cx="394.2" cy="414.7" r="0.63" fill="#031503"/>
<circle cx="394.1" cy="416.3" r="0.43" fill="#031503"/>
<circle cx="394.3" cy="417.3" r="0.50" fill="#031503"/>
<circle cx="394.3" cy="417.4" r="0.56" fill="#031503"/>
<circle cx="394.2" cy="421.2" r="0.41" fill="#031503"/>
<circle cx="394.8" cy="421.5" r="0.45" fill="#031503"/>
<circle cx="394.0" cy="423.2" r="0.51" fill="#031503"/>
<circle cx="394.5" cy="424.6" r="0.35" fill="#031503"/>
<circle cx="394.0" cy="425.8" r="0.53" fill="#031503"/>
<circle cx="394.1" cy="427.9" r="0.59" fill="#031503"/>
<circle cx="394.9" cy="428.3" r="0.50" fill="#031503"/>
<circle cx="394.5" cy="429.8" r="0.52" fill="#031503"/>
<circle cx="394.4" cy="430.3" r="0.61" fill="#031503"/>
<circle cx="394.7" cy="430.7" r="0.42" fill="#031503"/>
<circle cx="396.1" cy="433.7" r="0.45" fill="#031503"/>
<circle cx="397.0" cy="433.9" r="0.36" fill="#031503"/>
<circle cx="397.8" cy="435.4" r="0.50" fill="#031503"/>
<circle cx="399.2" cy="435.5" r="0.45" fill="#031503"/>
<circle cx="400.1" cy="437.0" r="0.36" fill="#031503"/>
<circle cx="400.5" cy="437.1" r="0.62" fill="#031503"/>
<circle cx="401.6" cy="438.2" r="0.39" fill="#031503"/>
<circle cx="401.6" cy="438.1" r="0.58" fill="#031503"/>
<circle cx="403.3" cy="439.1" r="0.39" fill="#031503"/>
<path d="M378.0,389.0 C378.1,390.8 377.4,395.5 378.9,399.8 C380.4,404.1 384.6,410.6 386.8,414.7 C389.0,418.9 388.9,420.7 392.1,424.7 C395.3,428.8 403.6,436.6 405.9,439.0" fill="none" stroke="#2a9a2a" stroke-width="0.9" stroke-linecap="round" stroke-linejoin="round"/>
<circle cx="378.2" cy="388.7" r="0.59" fill="#031503"/>
<circle cx="377.9" cy="389.7" r="0.46" fill="#031503"/>
<circle cx="377.8" cy="390.1" r="0.58" fill="#031503"/>
<circle cx="377.9" cy="391.6" r="0.49" fill="#031503"/>
<circle cx="377.8" cy="392.6" r="0.36" fill="#031503"/>
<circle cx="378.0" cy="393.5" r="0.50" fill="#031503"/>
<circle cx="378.4" cy="394.3" r="0.58" fill="#031503"/>
<circle cx="378.7" cy="397.4" r="0.64" fill="#031503"/>
<circle cx="379.5" cy="400.0" r="0.64" fill="#031503"/>
<circle cx="378.6" cy="400.1" r="0.61" fill="#031503"/>
<circle cx="379.9" cy="402.3" r="0.45" fill="#031503"/>
<circle cx="380.6" cy="402.3" r="0.63" fill="#031503"/>
<circle cx="380.9" cy="402.6" r="0.46" fill="#031503"/>
<circle cx="380.2" cy="404.3" r="0.63" fill="#031503"/>
<circle cx="381.3" cy="404.4" r="0.44" fill="#031503"/>
<circle cx="381.5" cy="404.9" r="0.65" fill="#031503"/>
<circle cx="382.9" cy="406.7" r="0.48" fill="#031503"/>
<circle cx="382.3" cy="407.2" r="0.50" fill="#031503"/>
<circle cx="383.5" cy="408.6" r="0.47" fill="#031503"/>
<circle cx="383.9" cy="408.8" r="0.58" fill="#031503"/>
<circle cx="384.1" cy="411.0" r="0.55" fill="#031503"/>
<circle cx="386.3" cy="412.5" r="0.47" fill="#031503"/>
<circle cx="386.7" cy="414.0" r="0.42" fill="#031503"/>
<circle cx="387.7" cy="416.0" r="0.63" fill="#031503"/>
<circle cx="387.7" cy="416.7" r="0.47" fill="#031503"/>
<circle cx="388.7" cy="417.3" r="0.64" fill="#031503"/>
<circle cx="388.3" cy="418.4" r="0.58" fill="#031503"/>
<circle cx="388.8" cy="419.6" r="0.52" fill="#031503"/>
<circle cx="389.2" cy="419.4" r="0.38" fill="#031503"/>
<circle cx="389.1" cy="420.5" r="0.38" fill="#031503"/>
<circle cx="389.9" cy="421.4" r="0.39" fill="#031503"/>
<circle cx="391.0" cy="422.7" r="0.44" fill="#031503"/>
<circle cx="391.9" cy="424.3" r="0.37" fill="#031503"/>
<circle cx="393.1" cy="425.5" r="0.46" fill="#031503"/>
<circle cx="393.2" cy="425.8" r="0.52" fill="#031503"/>
<circle cx="393.9" cy="427.6" r="0.55" fill="#031503"/>
<circle cx="394.1" cy="428.0" r="0.45" fill="#031503"/>
<circle cx="395.0" cy="428.0" r="0.64" fill="#031503"/>
<circle cx="396.3" cy="428.5" r="0.59" fill="#031503"/>
<circle cx="396.8" cy="429.7" r="0.43" fill="#031503"/>
<circle cx="397.4" cy="430.9" r="0.50" fill="#031503"/>
<circle cx="397.7" cy="431.1" r="0.60" fill="#031503"/>
<circle cx="399.6" cy="432.8" r="0.54" fill="#031503"/>
<circle cx="399.5" cy="433.5" r="0.39" fill="#031503"/>
<circle cx="400.5" cy="434.0" r="0.45" fill="#031503"/>
<circle cx="401.5" cy="434.7" r="0.57" fill="#031503"/>
<circle cx="402.5" cy="435.1" r="0.36" fill="#031503"/>
<circle cx="402.2" cy="435.3" r="0.41" fill="#031503"/>
<circle cx="402.7" cy="436.0" r="0.40" fill="#031503"/>
<circle cx="403.6" cy="437.3" r="0.59" fill="#031503"/>
<circle cx="404.5" cy="437.8" r="0.51" fill="#031503"/>
<circle cx="404.8" cy="438.8" r="0.50" fill="#031503"/>
<circle cx="405.3" cy="438.4" r="0.54" fill="#031503"/>
<circle cx="405.4" cy="438.6" r="0.42" fill="#031503"/>
<path d="M377.9,389.0 C378.9,390.5 382.2,393.6 384.0,398.0 C385.9,402.3 387.5,411.0 389.0,415.2 C390.5,419.4 390.1,419.0 393.2,423.0 C396.3,427.0 405.1,436.3 407.5,439.0" fill="none" stroke="#2a9a2a" stroke-width="0.9" stroke-linecap="round" stroke-linejoin="round"/>
<circle cx="377.5" cy="388.8" r="0.59" fill="#031503"/>
<circle cx="377.8" cy="389.8" r="0.61" fill="#031503"/>
<circle cx="378.7" cy="389.7" r="0.37" fill="#031503"/>
<circle cx="379.1" cy="389.8" r="0.45" fill="#031503"/>
<circle cx="379.1" cy="391.3" r="0.52" fill="#031503"/>
<circle cx="379.3" cy="390.9" r="0.53" fill="#031503"/>
<circle cx="380.4" cy="392.5" r="0.53" fill="#031503"/>
<circle cx="380.5" cy="392.3" r="0.42" fill="#031503"/>
<circle cx="382.0" cy="395.7" r="0.64" fill="#031503"/>
<circle cx="382.8" cy="396.1" r="0.62" fill="#031503"/>
<circle cx="383.9" cy="397.0" r="0.51" fill="#031503"/>
<circle cx="384.1" cy="398.1" r="0.40" fill="#031503"/>
<circle cx="385.3" cy="399.8" r="0.53" fill="#031503"/>
<circle cx="384.6" cy="400.4" r="0.41" fill="#031503"/>
<circle cx="384.7" cy="401.6" r="0.42" fill="#031503"/>
<circle cx="385.6" cy="402.7" r="0.64" fill="#031503"/>
<circle cx="385.9" cy="403.5" r="0.44" fill="#031503"/>
<circle cx="386.2" cy="404.4" r="0.58" fill="#031503"/>
<circle cx="386.2" cy="404.7" r="0.54" fill="#031503"/>
<circle cx="386.9" cy="406.9" r="0.48" fill="#031503"/>
<circle cx="386.6" cy="408.0" r="0.58" fill="#031503"/>
<circle cx="387.6" cy="408.9" r="0.35" fill="#031503"/>
<circle cx="387.5" cy="409.6" r="0.49" fill="#031503"/>
<circle cx="387.7" cy="410.3" r="0.47" fill="#031503"/>
<circle cx="387.4" cy="410.5" r="0.49" fill="#031503"/>
<circle cx="388.0" cy="412.2" r="0.39" fill="#031503"/>
<circle cx="388.4" cy="413.6" r="0.63" fill="#031503"/>
<circle cx="389.3" cy="414.9" r="0.54" fill="#031503"/>
<circle cx="389.3" cy="416.7" r="0.53" fill="#031503"/>
<circle cx="389.8" cy="417.4" r="0.50" fill="#031503"/>
<circle cx="390.5" cy="418.8" r="0.38" fill="#031503"/>
<circle cx="390.9" cy="418.6" r="0.60" fill="#031503"/>
<circle cx="391.2" cy="419.8" r="0.43" fill="#031503"/>
<circle cx="390.8" cy="420.1" r="0.54" fill="#031503"/>
<circle cx="391.5" cy="421.8" r="0.56" fill="#031503"/>
<circle cx="392.5" cy="421.5" r="0.63" fill="#031503"/>
<circle cx="392.9" cy="422.6" r="0.58" fill="#031503"/>
<circle cx="393.6" cy="423.4" r="0.64" fill="#031503"/>
<circle cx="394.0" cy="425.2" r="0.43" fill="#031503"/>
<circle cx="395.9" cy="425.8" r="0.61" fill="#031503"/>
<circle cx="396.2" cy="427.1" r="0.45" fill="#031503"/>
<circle cx="397.1" cy="427.5" r="0.35" fill="#031503"/>
<circle cx="396.9" cy="427.7" r="0.59" fill="#031503"/>
<circle cx="397.9" cy="428.6" r="0.58" fill="#031503"/>
<circle cx="398.6" cy="429.5" r="0.55" fill="#031503"/>
<circle cx="399.8" cy="429.8" r="0.37" fill="#031503"/>
<circle cx="401.8" cy="432.2" r="0.49" fill="#031503"/>
<circle cx="401.8" cy="432.8" r="0.47" fill="#031503"/>
<circle cx="402.5" cy="433.1" r="0.38" fill="#031503"/>
<circle cx="403.2" cy="434.8" r="0.52" fill="#031503"/>
<circle cx="403.9" cy="435.2" r="0.58" fill="#031503"/>
<circle cx="405.0" cy="435.3" r="0.52" fill="#031503"/>
<circle cx="404.5" cy="436.6" r="0.39" fill="#031503"/>
<circle cx="405.4" cy="436.4" r="0.38" fill="#031503"/>
<circle cx="406.2" cy="437.3" r="0.63" fill="#031503"/>
<circle cx="406.3" cy="437.8" r="0.49" fill="#031503"/>
<circle cx="407.3" cy="439.1" r="0.40" fill="#031503"/>
<path d="M381.7,389.0 C382.0,391.3 381.2,398.0 383.4,402.9 C385.6,407.8 391.8,414.4 394.7,418.6 C397.7,422.9 399.4,425.0 401.1,428.4 C402.7,431.8 404.1,437.2 404.8,439.0" fill="none" stroke="#2a9a2a" stroke-width="0.9" stroke-linecap="round" stroke-linejoin="round"/>
<circle cx="381.5" cy="388.6" r="0.44" fill="#031503"/>
<circle cx="382.1" cy="390.2" r="0.36" fill="#031503"/>
<circle cx="381.8" cy="391.1" r="0.48" fill="#031503"/>
<circle cx="382.2" cy="391.9" r="0.54" fill="#031503"/>
<circle cx="382.1" cy="392.1" r="0.49" fill="#031503"/>
<circle cx="382.0" cy="393.9" r="0.61" fill="#031503"/>
<circle cx="382.2" cy="395.0" r="0.37" fill="#031503"/>
<circle cx="381.9" cy="395.3" r="0.62" fill="#031503"/>
<circle cx="381.3" cy="396.8" r="0.56" fill="#031503"/>
<circle cx="381.8" cy="397.3" r="0.62" fill="#031503"/>
<circle cx="382.1" cy="397.8" r="0.45" fill="#031503"/>
<circle cx="382.6" cy="399.7" r="0.57" fill="#031503"/>
<circle cx="382.7" cy="402.5" r="0.49" fill="#031503"/>
<circle cx="383.8" cy="403.5" r="0.42" fill="#031503"/>
<circle cx="384.5" cy="404.4" r="0.40" fill="#031503"/>
<circle cx="385.4" cy="405.7" r="0.48" fill="#031503"/>
<circle cx="385.6" cy="406.4" r="0.56" fill="#031503"/>
<circle cx="386.7" cy="407.4" r="0.52" fill="#031503"/>
<circle cx="386.8" cy="408.7" r="0.44" fill="#031503"/>
<circle cx="387.2" cy="409.2" r="0.44" fill="#031503"/>
<circle cx="387.3" cy="409.7" r="0.55" fill="#031503"/>
<circle cx="388.7" cy="410.3" r="0.63" fill="#031503"/>
<circle cx="388.4" cy="411.4" r="0.39" fill="#031503"/>
<circle cx="389.4" cy="412.1" r="0.46" fill="#031503"/>
<circle cx="390.1" cy="412.6" r="0.44" fill="#031503"/>
<circle cx="391.3" cy="414.0" r="0.64" fill="#031503"/>
<circle cx="391.6" cy="414.5" r="0.56" fill="#031503"/>
<circle cx="392.0" cy="416.2" r="0.39" fill="#031503"/>
<circle cx="392.7" cy="416.9" r="0.55" fill="#031503"/>
<circle cx="392.9" cy="416.5" r="0.54" fill="#031503"/>
<circle cx="394.1" cy="417.5" r="0.49" fill="#031503"/>
<circle cx="394.2" cy="417.9" r="0.39" fill="#031503"/>
<circle cx="395.1" cy="418.2" r="0.41" fill="#031503"/>
<circle cx="395.6" cy="419.0" r="0.56" fill="#031503"/>
<circle cx="396.4" cy="419.7" r="0.41" fill="#031503"/>
<circle cx="397.4" cy="421.6" r="0.64" fill="#031503"/>
<circle cx="397.9" cy="422.0" r="0.51" fill="#031503"/>
<circle cx="397.9" cy="423.7" r="0.37" fill="#031503"/>
<circle cx="398.5" cy="424.1" r="0.61" fill="#031503"/>
<circle cx="398.4" cy="424.2" r="0.55" fill="#031503"/>
<circle cx="398.9" cy="424.6" r="0.40" fill="#031503"/>
<circle cx="399.7" cy="425.7" r="0.49" fill="#031503"/>
<circle cx="400.6" cy="425.8" r="0.40" fill="#031503"/>
<circle cx="400.4" cy="427.5" r="0.38" fill="#031503"/>
<circle cx="400.7" cy="427.1" r="0.58" fill="#031503"/>
<circle cx="401.6" cy="429.0" r="0.62" fill="#031503"/>
<circle cx="401.1" cy="428.8" r="0.38" fill="#031503"/>
<circle cx="402.2" cy="431.5" r="0.64" fill="#031503"/>
<circle cx="403.1" cy="433.4" r="0.47" fill="#031503"/>
<circle cx="403.1" cy="434.1" r="0.51" fill="#031503"/>
<circle cx="404.0" cy="434.6" r="0.42" fill="#031503"/>
<circle cx="404.0" cy="436.2" r="0.54" fill="#031503"/>
<circle cx="404.3" cy="436.8" r="0.58" fill="#031503"/>
<circle cx="404.3" cy="438.0" r="0.59" fill="#031503"/>
<circle cx="404.3" cy="439.2" r="0.55" fill="#031503"/>
<path d="M380.4,389.0 C381.3,391.3 383.7,398.9 385.9,402.8 C388.2,406.7 392.1,409.1 393.7,412.6 C395.4,416.2 393.3,419.8 396.1,424.2 C398.9,428.6 408.2,436.5 410.6,439.0" fill="none" stroke="#2a9a2a" stroke-width="0.9" stroke-linecap="round" stroke-linejoin="round"/>
<circle cx="380.5" cy="389.4" r="0.58" fill="#031503"/>
<circle cx="380.2" cy="389.7" r="0.56" fill="#031503"/>
<circle cx="381.4" cy="390.0" r="0.44" fill="#031503"/>
<circle cx="380.4" cy="390.9" r="0.47" fill="#031503"/>
<circle cx="380.8" cy="391.7" r="0.47" fill="#031503"/>
<circle cx="381.8" cy="392.3" r="0.38" fill="#031503"/>
<circle cx="381.4" cy="392.4" r="0.63" fill="#031503"/>
<circle cx="381.9" cy="394.3" r="0.40" fill="#031503"/>
<circle cx="382.2" cy="395.0" r="0.55" fill="#031503"/>
<circle cx="383.2" cy="395.9" r="0.61" fill="#031503"/>
<circle cx="383.3" cy="397.3" r="0.53" fill="#031503"/>
<circle cx="384.3" cy="398.3" r="0.56" fill="#031503"/>
<circle cx="385.0" cy="399.6" r="0.51" fill="#031503"/>
<circle cx="384.8" cy="400.3" r="0.51" fill="#031503"/>
<circle cx="385.2" cy="401.8" r="0.50" fill="#031503"/>
<circle cx="386.1" cy="402.7" r="0.49" fill="#031503"/>
<circle cx="386.1" cy="404.1" r="0.54" fill="#031503"/>
<circle cx="386.5" cy="404.8" r="0.52" fill="#031503"/>
<circle cx="387.3" cy="405.3" r="0.55" fill="#031503"/>
<circle cx="388.4" cy="406.1" r="0.36" fill="#031503"/>
<circle cx="388.3" cy="406.5" r="0.41" fill="#031503"/>
<circle cx="389.7" cy="406.7" r="0.38" fill="#031503"/>
<circle cx="390.0" cy="407.2" r="0.42" fill="#031503"/>
<circle cx="389.8" cy="408.2" r="0.58" fill="#031503"/>
<circle cx="390.9" cy="408.4" r="0.35" fill="#031503"/>
<circle cx="391.2" cy="409.0" r="0.36" fill="#031503"/>
<circle cx="393.1" cy="411.6" r="0.59" fill="#031503"/>
<circle cx="393.5" cy="412.2" r="0.50" fill="#031503"/>
<circle cx="393.2" cy="412.1" r="0.59" fill="#031503"/>
<circle cx="394.6" cy="413.5" r="0.49" fill="#031503"/>
<circle cx="393.8" cy="414.4" r="0.48" fill="#031503"/>
<circle cx="394.2" cy="415.3" r="0.57" fill="#031503"/>
<circle cx="394.4" cy="416.0" r="0.58" fill="#031503"/>
<circle cx="394.7" cy="418.0" r="0.64" fill="#031503"/>
<circle cx="394.6" cy="419.7" r="0.51" fill="#031503"/>
<circle cx="394.4" cy="420.2" r="0.52" fill="#031503"/>
<circle cx="394.8" cy="421.0" r="0.51" fill="#031503"/>
<circle cx="395.3" cy="422.8" r="0.60" fill="#031503"/>
<circle cx="396.6" cy="423.8" r="0.38" fill="#031503"/>
<circle cx="397.4" cy="424.9" r="0.61" fill="#031503"/>
<circle cx="397.4" cy="425.7" r="0.43" fill="#031503"/>
<circle cx="397.5" cy="427.1" r="0.61" fill="#031503"/>
<circle cx="398.9" cy="427.3" r="0.53" fill="#031503"/>
<circle cx="399.3" cy="429.0" r="0.53" fill="#031503"/>
<circle cx="399.8" cy="429.2" r="0.54" fill="#031503"/>
<circle cx="401.4" cy="429.8" r="0.48" fill="#031503"/>
<circle cx="401.5" cy="430.5" r="0.47" fill="#031503"/>
<circle cx="403.1" cy="432.4" r="0.61" fill="#031503"/>
<circle cx="403.7" cy="432.5" r="0.39" fill="#031503"/>
<circle cx="404.1" cy="433.6" r="0.57" fill="#031503"/>
<circle cx="407.1" cy="435.1" r="0.61" fill="#031503"/>
<circle cx="407.0" cy="435.6" r="0.49" fill="#031503"/>
<circle cx="408.2" cy="436.6" r="0.41" fill="#031503"/>
<circle cx="409.0" cy="437.4" r="0.42" fill="#031503"/>
<circle cx="409.2" cy="437.3" r="0.39" fill="#031503"/>
<circle cx="409.5" cy="437.6" r="0.44" fill="#031503"/>
<circle cx="410.5" cy="438.2" r="0.48" fill="#031503"/>
<circle cx="410.3" cy="438.8" r="0.59" fill="#031503"/>
<circle cx="410.4" cy="439.1" r="0.37" fill="#031503"/>
<path d="M381.3,389.0 C382.1,390.3 384.2,393.2 386.1,397.0 C388.0,400.9 389.8,407.1 392.7,412.1 C395.6,417.1 400.9,422.4 403.4,426.8 C406.0,431.3 407.5,437.0 408.3,439.0" fill="none" stroke="#2a9a2a" stroke-width="0.9" stroke-linecap="round" stroke-linejoin="round"/>
<circle cx="381.7" cy="388.7" r="0.56" fill="#031503"/>
<circle cx="381.9" cy="389.6" r="0.37" fill="#031503"/>
<circle cx="382.6" cy="391.3" r="0.57" fill="#031503"/>
<circle cx="383.9" cy="393.8" r="0.41" fill="#031503"/>
<circle cx="387.1" cy="399.9" r="0.60" fill="#031503"/>
<circle cx="387.2" cy="399.9" r="0.37" fill="#031503"/>
<circle cx="388.4" cy="401.4" r="0.52" fill="#031503"/>
<circle cx="388.3" cy="402.0" r="0.40" fill="#031503"/>
<circle cx="388.6" cy="403.9" r="0.35" fill="#031503"/>
<circle cx="389.8" cy="405.9" r="0.37" fill="#031503"/>
<circle cx="390.6" cy="406.6" r="0.38" fill="#031503"/>
<circle cx="389.9" cy="407.6" r="0.45" fill="#031503"/>
<circle cx="391.1" cy="409.8" r="0.58" fill="#031503"/>
<circle cx="391.6" cy="410.4" r="0.59" fill="#031503"/>
<circle cx="392.1" cy="411.8" r="0.43" fill="#031503"/>
<circle cx="392.2" cy="412.1" r="0.39" fill="#031503"/>
<circle cx="392.8" cy="412.3" r="0.62" fill="#031503"/>
<circle cx="393.6" cy="412.9" r="0.49" fill="#031503"/>
<circle cx="394.4" cy="414.1" r="0.39" fill="#031503"/>
<circle cx="394.9" cy="415.3" r="0.50" fill="#031503"/>
<circle cx="394.9" cy="415.8" r="0.48" fill="#031503"/>
<circle cx="395.6" cy="416.8" r="0.61" fill="#031503"/>
<circle cx="396.7" cy="417.8" r="0.40" fill="#031503"/>
<circle cx="396.7" cy="417.7" r="0.49" fill="#031503"/>
<circle cx="397.3" cy="419.0" r="0.51" fill="#031503"/>
<circle cx="397.9" cy="419.5" r="0.63" fill="#031503"/>
<circle cx="399.5" cy="421.5" r="0.61" fill="#031503"/>
<circle cx="400.1" cy="421.5" r="0.44" fill="#031503"/>
<circle cx="400.2" cy="422.9" r="0.61" fill="#031503"/>
<circle cx="400.5" cy="422.5" r="0.51" fill="#031503"/>
<circle cx="401.0" cy="424.3" r="0.42" fill="#031503"/>
<circle cx="402.3" cy="424.6" r="0.38" fill="#031503"/>
<circle cx="402.7" cy="425.0" r="0.43" fill="#031503"/>
<circle cx="403.1" cy="425.1" r="0.35" fill="#031503"/>
<circle cx="403.4" cy="426.4" r="0.60" fill="#031503"/>
<circle cx="404.2" cy="427.5" r="0.43" fill="#031503"/>
<circle cx="403.8" cy="429.0" r="0.43" fill="#031503"/>
<circle cx="405.4" cy="429.8" r="0.61" fill="#031503"/>
<circle cx="405.1" cy="430.7" r="0.43" fill="#031503"/>
<circle cx="406.1" cy="431.8" r="0.62" fill="#031503"/>
<circle cx="406.3" cy="432.5" r="0.46" fill="#031503"/>
<circle cx="405.9" cy="433.1" r="0.50" fill="#031503"/>
<circle cx="406.8" cy="434.2" r="0.40" fill="#031503"/>
<circle cx="407.0" cy="434.3" r="0.61" fill="#031503"/>
<circle cx="407.4" cy="435.6" r="0.49" fill="#031503"/>
<circle cx="407.2" cy="436.7" r="0.58" fill="#031503"/>
<circle cx="407.7" cy="436.4" r="0.49" fill="#031503"/>
<circle cx="407.8" cy="437.2" r="0.46" fill="#031503"/>
<circle cx="407.7" cy="438.5" r="0.58" fill="#031503"/>
<circle cx="407.6" cy="439.2" r="0.40" fill="#031503"/>
<circle cx="408.5" cy="439.2" r="0.41" fill="#031503"/>
<path d="M383.7,389.0 C384.6,390.4 387.3,392.8 389.3,397.3 C391.3,401.9 392.8,412.2 395.6,416.5 C398.4,420.8 403.6,419.4 406.1,423.1 C408.7,426.9 410.1,436.4 410.9,439.0" fill="none" stroke="#2a9a2a" stroke-width="0.9" stroke-linecap="round" stroke-linejoin="round"/>
<circle cx="383.8" cy="389.3" r="0.43" fill="#031503"/>
<circle cx="384.3" cy="390.0" r="0.59" fill="#031503"/>
<circle cx="385.2" cy="389.8" r="0.65" fill="#031503"/>
<circle cx="386.2" cy="392.2" r="0.61" fill="#031503"/>
<circle cx="387.3" cy="393.0" r="0.62" fill="#031503"/>
<circle cx="388.8" cy="394.7" r="0.50" fill="#031503"/>
<circle cx="389.1" cy="396.7" r="0.51" fill="#031503"/>
<circle cx="389.1" cy="397.4" r="0.48" fill="#031503"/>
<circle cx="390.2" cy="398.4" r="0.50" fill="#031503"/>
<circle cx="389.7" cy="399.2" r="0.44" fill="#031503"/>
<circle cx="390.3" cy="399.9" r="0.53" fill="#031503"/>
<circle cx="390.9" cy="400.9" r="0.54" fill="#031503"/>
<circle cx="390.9" cy="401.7" r="0.39" fill="#031503"/>
<circle cx="390.3" cy="402.3" r="0.45" fill="#031503"/>
<circle cx="391.6" cy="402.7" r="0.54" fill="#031503"/>
<circle cx="391.7" cy="404.4" r="0.56" fill="#031503"/>
<circle cx="391.9" cy="405.8" r="0.42" fill="#031503"/>
<circle cx="392.3" cy="407.8" r="0.56" fill="#031503"/>
<circle cx="392.7" cy="408.3" r="0.36" fill="#031503"/>
<circle cx="393.0" cy="410.6" r="0.51" fill="#031503"/>
<circle cx="393.8" cy="411.1" r="0.44" fill="#031503"/>
<circle cx="393.7" cy="412.3" r="0.43" fill="#031503"/>
<circle cx="394.1" cy="413.9" r="0.60" fill="#031503"/>
<circle cx="395.2" cy="414.4" r="0.41" fill="#031503"/>
<circle cx="394.9" cy="415.5" r="0.46" fill="#031503"/>
<circle cx="395.2" cy="417.1" r="0.56" fill="#031503"/>
<circle cx="396.0" cy="417.9" r="0.42" fill="#031503"/>
<circle cx="397.7" cy="418.3" r="0.65" fill="#031503"/>
<circle cx="398.5" cy="419.4" r="0.61" fill="#031503"/>
<circle cx="399.0" cy="419.8" r="0.58" fill="#031503"/>
<circle cx="399.5" cy="419.5" r="0.57" fill="#031503"/>
<circle cx="400.3" cy="419.9" r="0.45" fill="#031503"/>
<circle cx="401.8" cy="420.2" r="0.47" fill="#031503"/>
<circle cx="403.0" cy="420.5" r="0.62" fill="#031503"/>
<circle cx="404.0" cy="421.2" r="0.53" fill="#031503"/>
<circle cx="404.6" cy="422.3" r="0.61" fill="#031503"/>
<circle cx="405.9" cy="422.9" r="0.44" fill="#031503"/>
<circle cx="406.2" cy="423.9" r="0.52" fill="#031503"/>
<circle cx="407.3" cy="425.1" r="0.59" fill="#031503"/>
<circle cx="407.6" cy="426.5" r="0.57" fill="#031503"/>
<circle cx="407.8" cy="427.4" r="0.51" fill="#031503"/>
<circle cx="408.5" cy="427.4" r="0.57" fill="#031503"/>
<circle cx="408.8" cy="429.0" r="0.40" fill="#031503"/>
<circle cx="408.3" cy="429.9" r="0.62" fill="#031503"/>
<circle cx="408.6" cy="431.1" r="0.40" fill="#031503"/>
<circle cx="409.6" cy="431.1" r="0.53" fill="#031503"/>
<circle cx="409.5" cy="432.4" r="0.52" fill="#031503"/>
<circle cx="409.1" cy="433.5" r="0.63" fill="#031503"/>
<circle cx="409.8" cy="434.7" r="0.46" fill="#031503"/>
<circle cx="410.3" cy="437.1" r="0.39" fill="#031503"/>
<circle cx="410.5" cy="437.1" r="0.54" fill="#031503"/>
<circle cx="410.3" cy="438.5" r="0.37" fill="#031503"/>
<circle cx="410.2" cy="439.1" r="0.36" fill="#031503"/>
<circle cx="410.5" cy="438.7" r="0.40" fill="#031503"/>
<path d="M387.0,389.0 C387.7,390.3 390.9,392.1 391.6,397.1 C392.2,402.0 389.0,413.2 390.9,418.6 C392.8,423.9 399.4,425.6 402.9,429.0 C406.4,432.5 410.2,437.3 411.7,439.0" fill="none" stroke="#2a9a2a" stroke-width="0.9" stroke-linecap="round" stroke-linejoin="round"/>
<circle cx="387.1" cy="389.5" r="0.50" fill="#031503"/>
<circle cx="387.1" cy="389.9" r="0.55" fill="#031503"/>
<circle cx="388.3" cy="390.8" r="0.39" fill="#031503"/>
<circle cx="389.7" cy="393.3" r="0.47" fill="#031503"/>
<circle cx="390.8" cy="393.5" r="0.46" fill="#031503"/>
<circle cx="390.7" cy="395.1" r="0.56" fill="#031503"/>
<circle cx="391.0" cy="395.2" r="0.48" fill="#031503"/>
<circle cx="391.6" cy="396.7" r="0.53" fill="#031503"/>
<circle cx="391.1" cy="397.2" r="0.46" fill="#031503"/>
<circle cx="391.7" cy="398.4" r="0.46" fill="#031503"/>
<circle cx="391.7" cy="398.5" r="0.40" fill="#031503"/>
<circle cx="391.6" cy="399.4" r="0.62" fill="#031503"/>
<circle cx="391.0" cy="400.9" r="0.40" fill="#031503"/>
<circle cx="391.5" cy="401.2" r="0.51" fill="#031503"/>
<circle cx="391.1" cy="401.6" r="0.51" fill="#031503"/>
<circle cx="391.1" cy="402.5" r="0.45" fill="#031503"/>
<circle cx="390.8" cy="403.8" r="0.56" fill="#031503"/>
<circle cx="390.9" cy="405.0" r="0.57" fill="#031503"/>
<circle cx="390.4" cy="407.2" r="0.61" fill="#031503"/>
<circle cx="390.6" cy="407.9" r="0.45" fill="#031503"/>
<circle cx="391.0" cy="409.0" r="0.36" fill="#031503"/>
<circle cx="390.2" cy="409.9" r="0.36" fill="#031503"/>
<circle cx="390.0" cy="412.2" r="0.56" fill="#031503"/>
<circle cx="390.1" cy="412.7" r="0.61" fill="#031503"/>
<circle cx="390.1" cy="414.4" r="0.52" fill="#031503"/>
<circle cx="389.8" cy="415.2" r="0.59" fill="#031503"/>
<circle cx="389.9" cy="415.9" r="0.45" fill="#031503"/>
<circle cx="390.3" cy="416.7" r="0.58" fill="#031503"/>
<circle cx="390.4" cy="417.8" r="0.51" fill="#031503"/>
<circle cx="391.0" cy="419.1" r="0.55" fill="#031503"/>
<circle cx="390.6" cy="419.6" r="0.59" fill="#031503"/>
<circle cx="392.6" cy="420.6" r="0.61" fill="#031503"/>
<circle cx="392.8" cy="421.0" r="0.42" fill="#031503"/>
<circle cx="394.6" cy="422.7" r="0.61" fill="#031503"/>
<circle cx="395.7" cy="424.2" r="0.61" fill="#031503"/>
<circle cx="396.5" cy="425.1" r="0.64" fill="#031503"/>
<circle cx="397.5" cy="425.3" r="0.39" fill="#031503"/>
<circle cx="399.3" cy="426.6" r="0.35" fill="#031503"/>
<circle cx="399.5" cy="426.1" r="0.48" fill="#031503"/>
<circle cx="400.8" cy="426.7" r="0.53" fill="#031503"/>
<circle cx="401.2" cy="427.3" r="0.43" fill="#031503"/>
<circle cx="401.7" cy="427.5" r="0.52" fill="#031503"/>
<circle cx="402.6" cy="428.4" r="0.60" fill="#031503"/>
<circle cx="403.2" cy="429.0" r="0.55" fill="#031503"/>
<circle cx="404.1" cy="429.8" r="0.36" fill="#031503"/>
<circle cx="403.9" cy="430.8" r="0.47" fill="#031503"/>
<circle cx="404.6" cy="430.8" r="0.46" fill="#031503"/>
<circle cx="406.2" cy="432.7" r="0.50" fill="#031503"/>
<circle cx="406.9" cy="433.6" r="0.47" fill="#031503"/>
<circle cx="407.2" cy="433.8" r="0.44" fill="#031503"/>
<circle cx="407.9" cy="435.0" r="0.48" fill="#031503"/>
<circle cx="408.8" cy="435.6" r="0.39" fill="#031503"/>
<circle cx="409.2" cy="436.1" r="0.39" fill="#031503"/>
<circle cx="410.1" cy="437.2" r="0.37" fill="#031503"/>
<circle cx="411.1" cy="438.1" r="0.35" fill="#031503"/>
<circle cx="411.8" cy="438.1" r="0.45" fill="#031503"/>
<circle cx="411.8" cy="439.2" r="0.57" fill="#031503"/>
<path d="M388.9,389.0 C389.4,390.7 389.4,395.6 391.7,399.1 C393.9,402.6 399.2,405.0 402.4,410.1 C405.5,415.1 408.0,424.6 410.4,429.4 C412.8,434.2 415.6,437.4 416.7,439.0" fill="none" stroke="#2a9a2a" stroke-width="0.9" stroke-linecap="round" stroke-linejoin="round"/>
<circle cx="389.1" cy="389.0" r="0.38" fill="#031503"/>
<circle cx="388.5" cy="389.6" r="0.46" fill="#031503"/>
<circle cx="389.5" cy="390.4" r="0.52" fill="#031503"/>
<circle cx="389.9" cy="392.7" r="0.45" fill="#031503"/>
<circle cx="389.2" cy="393.5" r="0.58" fill="#031503"/>
<circle cx="389.9" cy="393.5" r="0.59" fill="#031503"/>
<circle cx="390.0" cy="394.5" r="0.43" fill="#031503"/>
<circle cx="389.6" cy="395.4" r="0.50" fill="#031503"/>
<circle cx="390.3" cy="397.2" r="0.62" fill="#031503"/>
<circle cx="391.5" cy="398.8" r="0.52" fill="#031503"/>
<circle cx="392.2" cy="399.1" r="0.39" fill="#031503"/>
<circle cx="392.0" cy="400.1" r="0.56" fill="#031503"/>
<circle cx="393.3" cy="401.8" r="0.45" fill="#031503"/>
<circle cx="394.5" cy="401.8" r="0.56" fill="#031503"/>
<circle cx="394.1" cy="402.2" r="0.37" fill="#031503"/>
<circle cx="395.7" cy="402.6" r="0.52" fill="#031503"/>
<circle cx="396.2" cy="403.1" r="0.42" fill="#031503"/>
<circle cx="396.5" cy="403.7" r="0.41" fill="#031503"/>
<circle cx="397.8" cy="404.4" r="0.58" fill="#031503"/>
<circle cx="397.8" cy="405.0" r="0.40" fill="#031503"/>
<circle cx="398.9" cy="405.5" r="0.64" fill="#031503"/>
<circle cx="399.3" cy="406.3" r="0.53" fill="#031503"/>
<circle cx="399.9" cy="407.2" r="0.35" fill="#031503"/>
<circle cx="400.2" cy="407.4" r="0.53" fill="#031503"/>
<circle cx="400.8" cy="409.1" r="0.37" fill="#031503"/>
<circle cx="401.3" cy="408.8" r="0.41" fill="#031503"/>
<circle cx="402.8" cy="411.0" r="0.53" fill="#031503"/>
<circle cx="403.4" cy="411.8" r="0.57" fill="#031503"/>
<circle cx="403.4" cy="412.1" r="0.64" fill="#031503"/>
<circle cx="404.3" cy="412.8" r="0.49" fill="#031503"/>
<circle cx="405.2" cy="414.4" r="0.44" fill="#031503"/>
<circle cx="405.4" cy="416.1" r="0.39" fill="#031503"/>
<circle cx="405.9" cy="416.3" r="0.37" fill="#031503"/>
<circle cx="406.3" cy="416.8" r="0.59" fill="#031503"/>
<circle cx="406.6" cy="418.5" r="0.52" fill="#031503"/>
<circle cx="406.4" cy="419.4" r="0.55" fill="#031503"/>
<circle cx="407.8" cy="421.4" r="0.46" fill="#031503"/>
<circle cx="407.5" cy="421.7" r="0.57" fill="#031503"/>
<circle cx="407.8" cy="422.7" r="0.64" fill="#031503"/>
<circle cx="408.4" cy="424.2" r="0.40" fill="#031503"/>
<circle cx="408.6" cy="425.4" r="0.52" fill="#031503"/>
<circle cx="409.8" cy="426.6" r="0.53" fill="#031503"/>
<circle cx="409.1" cy="427.7" r="0.58" fill="#031503"/>
<circle cx="410.4" cy="428.4" r="0.56" fill="#031503"/>
<circle cx="411.9" cy="431.6" r="0.62" fill="#031503"/>
<circle cx="412.7" cy="432.8" r="0.53" fill="#031503"/>
<circle cx="413.5" cy="434.5" r="0.54" fill="#031503"/>
<circle cx="414.2" cy="435.5" r="0.46" fill="#031503"/>
<circle cx="415.0" cy="435.6" r="0.64" fill="#031503"/>
<circle cx="415.3" cy="437.1" r="0.36" fill="#031503"/>
<circle cx="415.6" cy="437.4" r="0.45" fill="#031503"/>
<circle cx="415.6" cy="438.2" r="0.46" fill="#031503"/>
<circle cx="416.9" cy="438.9" r="0.52" fill="#031503"/>
<circle cx="417.2" cy="438.7" r="0.61" fill="#031503"/>
<path d="M390.0,389.0 C391.3,390.4 395.9,392.7 397.6,397.5 C399.3,402.4 398.7,412.7 400.3,418.2 C402.0,423.7 405.4,426.9 407.4,430.4 C409.5,433.9 411.8,437.6 412.7,439.0" fill="none" stroke="#2a9a2a" stroke-width="0.9" stroke-linecap="round" stroke-linejoin="round"/>
<circle cx="390.5" cy="388.7" r="0.40" fill="#031503"/>
<circle cx="390.5" cy="389.4" r="0.56" fill="#031503"/>
<circle cx="390.5" cy="389.4" r="0.62" fill="#031503"/>
<circle cx="390.7" cy="389.8" r="0.42" fill="#031503"/>
<circle cx="391.5" cy="389.9" r="0.40" fill="#031503"/>
<circle cx="392.4" cy="390.9" r="0.50" fill="#031503"/>
<circle cx="393.3" cy="392.0" r="0.41" fill="#031503"/>
<circle cx="393.3" cy="391.4" r="0.40" fill="#031503"/>
<circle cx="394.6" cy="393.1" r="0.46" fill="#031503"/>
<circle cx="394.8" cy="392.9" r="0.42" fill="#031503"/>
<circle cx="396.3" cy="395.3" r="0.47" fill="#031503"/>
<circle cx="397.2" cy="395.5" r="0.48" fill="#031503"/>
<circle cx="397.5" cy="397.9" r="0.55" fill="#031503"/>
<circle cx="398.4" cy="398.4" r="0.50" fill="#031503"/>
<circle cx="397.9" cy="399.3" r="0.62" fill="#031503"/>
<circle cx="398.5" cy="400.0" r="0.63" fill="#031503"/>
<circle cx="398.3" cy="400.5" r="0.49" fill="#031503"/>
<circle cx="399.1" cy="402.8" r="0.60" fill="#031503"/>
<circle cx="398.1" cy="402.9" r="0.35" fill="#031503"/>
<circle cx="399.2" cy="404.5" r="0.36" fill="#031503"/>
<circle cx="398.9" cy="404.8" r="0.52" fill="#031503"/>
<circle cx="399.3" cy="406.3" r="0.41" fill="#031503"/>
<circle cx="398.7" cy="407.3" r="0.62" fill="#031503"/>
<circle cx="399.2" cy="407.3" r="0.36" fill="#031503"/>
<circle cx="399.5" cy="409.1" r="0.62" fill="#031503"/>
<circle cx="399.5" cy="409.3" r="0.42" fill="#031503"/>
<circle cx="399.8" cy="410.0" r="0.46" fill="#031503"/>
<circle cx="399.4" cy="411.5" r="0.60" fill="#031503"/>
<circle cx="399.2" cy="412.5" r="0.36" fill="#031503"/>
<circle cx="399.1" cy="414.0" r="0.39" fill="#031503"/>
<circle cx="399.7" cy="415.1" r="0.53" fill="#031503"/>
<circle cx="399.6" cy="416.9" r="0.46" fill="#031503"/>
<circle cx="400.2" cy="417.6" r="0.61" fill="#031503"/>
<circle cx="399.7" cy="418.2" r="0.50" fill="#031503"/>
<circle cx="400.5" cy="418.9" r="0.64" fill="#031503"/>
<circle cx="400.8" cy="420.4" r="0.43" fill="#031503"/>
<circle cx="401.3" cy="421.5" r="0.56" fill="#031503"/>
<circle cx="402.2" cy="421.9" r="0.59" fill="#031503"/>
<circle cx="402.9" cy="423.9" r="0.41" fill="#031503"/>
<circle cx="403.0" cy="424.3" r="0.38" fill="#031503"/>
<circle cx="404.0" cy="425.7" r="0.36" fill="#031503"/>
<circle cx="404.7" cy="425.9" r="0.41" fill="#031503"/>
<circle cx="405.3" cy="427.1" r="0.46" fill="#031503"/>
<circle cx="404.8" cy="427.4" r="0.64" fill="#031503"/>
<circle cx="405.8" cy="428.4" r="0.55" fill="#031503"/>
<circle cx="406.5" cy="428.9" r="0.49" fill="#031503"/>
<circle cx="407.2" cy="429.8" r="0.59" fill="#031503"/>
<circle cx="407.6" cy="430.7" r="0.61" fill="#031503"/>
<circle cx="408.3" cy="432.7" r="0.48" fill="#031503"/>
<circle cx="409.3" cy="433.3" r="0.50" fill="#031503"/>
<circle cx="409.7" cy="435.3" r="0.46" fill="#031503"/>
<circle cx="411.1" cy="435.8" r="0.44" fill="#031503"/>
<circle cx="411.7" cy="437.0" r="0.61" fill="#031503"/>
<circle cx="411.3" cy="438.0" r="0.62" fill="#031503"/>
<circle cx="411.7" cy="438.1" r="0.43" fill="#031503"/>
<circle cx="412.2" cy="439.4" r="0.43" fill="#031503"/>
<path d="M390.2,389.0 C390.6,390.5 392.1,393.6 392.7,398.1 C393.4,402.5 390.6,411.5 394.2,415.9 C397.7,420.3 410.5,420.4 414.1,424.3 C417.8,428.1 415.6,436.5 415.9,439.0" fill="none" stroke="#2a9a2a" stroke-width="0.9" stroke-linecap="round" stroke-linejoin="round"/>
<circle cx="390.2" cy="389.3" r="0.47" fill="#031503"/>
<circle cx="390.9" cy="390.5" r="0.54" fill="#031503"/>
<circle cx="390.3" cy="390.8" r="0.61" fill="#031503"/>
<circle cx="390.9" cy="392.4" r="0.50" fill="#031503"/>
<circle cx="391.6" cy="392.4" r="0.59" fill="#031503"/>
<circle cx="392.1" cy="394.9" r="0.58" fill="#031503"/>
<circle cx="392.6" cy="396.9" r="0.51" fill="#031503"/>
<circle cx="393.0" cy="397.8" r="0.36" fill="#031503"/>
<circle cx="392.4" cy="398.3" r="0.41" fill="#031503"/>
<circle cx="392.3" cy="399.7" r="0.48" fill="#031503"/>
<circle cx="392.5" cy="400.1" r="0.38" fill="#031503"/>
<circle cx="392.1" cy="402.9" r="0.57" fill="#031503"/>
<circle cx="392.5" cy="403.5" r="0.38" fill="#031503"/>
<circle cx="392.4" cy="404.3" r="0.61" fill="#031503"/>
<circle cx="393.0" cy="405.3" r="0.42" fill="#031503"/>
<circle cx="392.6" cy="407.8" r="0.35" fill="#031503"/>
<circle cx="391.9" cy="408.7" r="0.38" fill="#031503"/>
<circle cx="392.5" cy="409.8" r="0.39" fill="#031503"/>
<circle cx="392.8" cy="410.2" r="0.52" fill="#031503"/>
<circle cx="392.7" cy="411.9" r="0.38" fill="#031503"/>
<circle cx="392.7" cy="412.6" r="0.48" fill="#031503"/>
<circle cx="393.5" cy="414.2" r="0.35" fill="#031503"/>
<circle cx="395.2" cy="416.8" r="0.61" fill="#031503"/>
<circle cx="395.6" cy="416.6" r="0.54" fill="#031503"/>
<circle cx="396.1" cy="417.1" r="0.44" fill="#031503"/>
<circle cx="397.0" cy="418.0" r="0.55" fill="#031503"/>
<circle cx="397.4" cy="417.9" r="0.64" fill="#031503"/>
<circle cx="398.4" cy="418.2" r="0.47" fill="#031503"/>
<circle cx="399.0" cy="419.4" r="0.37" fill="#031503"/>
<circle cx="399.6" cy="419.5" r="0.65" fill="#031503"/>
<circle cx="400.5" cy="419.4" r="0.38" fill="#031503"/>
<circle cx="402.0" cy="419.4" r="0.37" fill="#031503"/>
<circle cx="402.8" cy="419.6" r="0.47" fill="#031503"/>
<circle cx="403.8" cy="420.6" r="0.54" fill="#031503"/>
<circle cx="404.6" cy="420.6" r="0.50" fill="#031503"/>
<circle cx="406.7" cy="420.8" r="0.48" fill="#031503"/>
<circle cx="409.4" cy="421.3" r="0.53" fill="#031503"/>
<circle cx="410.0" cy="422.1" r="0.60" fill="#031503"/>
<circle cx="410.9" cy="422.1" r="0.44" fill="#031503"/>
<circle cx="411.6" cy="422.7" r="0.53" fill="#031503"/>
<circle cx="412.2" cy="422.2" r="0.42" fill="#031503"/>
<circle cx="412.2" cy="422.7" r="0.37" fill="#031503"/>
<circle cx="413.7" cy="423.3" r="0.40" fill="#031503"/>
<circle cx="414.2" cy="424.4" r="0.62" fill="#031503"/>
<circle cx="414.2" cy="424.1" r="0.38" fill="#031503"/>
<circle cx="415.3" cy="425.2" r="0.59" fill="#031503"/>
<circle cx="415.3" cy="426.1" r="0.51" fill="#031503"/>
<circle cx="415.0" cy="426.1" r="0.39" fill="#031503"/>
<circle cx="416.1" cy="427.9" r="0.61" fill="#031503"/>
<circle cx="415.7" cy="427.7" r="0.46" fill="#031503"/>
<circle cx="415.7" cy="430.0" r="0.39" fill="#031503"/>
<circle cx="416.0" cy="432.9" r="0.44" fill="#031503"/>
<circle cx="416.0" cy="433.8" r="0.57" fill="#031503"/>
<circle cx="416.2" cy="434.8" r="0.57" fill="#031503"/>
<circle cx="416.5" cy="435.7" r="0.53" fill="#031503"/>
<circle cx="415.7" cy="436.7" r="0.37" fill="#031503"/>
<circle cx="416.1" cy="437.6" r="0.38" fill="#031503"/>
<circle cx="415.6" cy="438.4" r="0.41" fill="#031503"/>
<circle cx="416.4" cy="438.1" r="0.48" fill="#031503"/>
<path d="M389.6,389.0 C390.3,390.7 392.3,394.7 393.9,399.4 C395.4,404.1 396.3,412.8 398.7,417.3 C401.1,421.8 404.4,422.8 408.2,426.4 C411.9,430.0 419.2,436.9 421.4,439.0" fill="none" stroke="#2a9a2a" stroke-width="0.9" stroke-linecap="round" stroke-linejoin="round"/>
<circle cx="389.1" cy="388.7" r="0.57" fill="#031503"/>
<circle cx="389.5" cy="389.8" r="0.39" fill="#031503"/>
<circle cx="390.3" cy="389.6" r="0.37" fill="#031503"/>
<circle cx="390.6" cy="390.3" r="0.38" fill="#031503"/>
<circle cx="390.9" cy="391.3" r="0.65" fill="#031503"/>
<circle cx="391.1" cy="391.8" r="0.46" fill="#031503"/>
<circle cx="390.6" cy="391.8" r="0.43" fill="#031503"/>
<circle cx="391.1" cy="393.2" r="0.51" fill="#031503"/>
<circle cx="392.3" cy="393.4" r="0.46" fill="#031503"/>
<circle cx="391.9" cy="395.9" r="0.46" fill="#031503"/>
<circle cx="392.3" cy="397.1" r="0.55" fill="#031503"/>
<circle cx="393.7" cy="397.5" r="0.58" fill="#031503"/>
<circle cx="393.0" cy="398.4" r="0.42" fill="#031503"/>
<circle cx="393.7" cy="400.5" r="0.36" fill="#031503"/>
<circle cx="394.4" cy="400.2" r="0.39" fill="#031503"/>
<circle cx="395.0" cy="402.0" r="0.62" fill="#031503"/>
<circle cx="394.5" cy="402.1" r="0.49" fill="#031503"/>
<circle cx="395.2" cy="402.4" r="0.48" fill="#031503"/>
<circle cx="395.6" cy="404.5" r="0.48" fill="#031503"/>
<circle cx="395.1" cy="404.8" r="0.62" fill="#031503"/>
<circle cx="395.8" cy="407.1" r="0.55" fill="#031503"/>
<circle cx="395.4" cy="407.5" r="0.53" fill="#031503"/>
<circle cx="396.0" cy="409.6" r="0.51" fill="#031503"/>
<circle cx="396.1" cy="410.6" r="0.59" fill="#031503"/>
<circle cx="396.8" cy="411.9" r="0.56" fill="#031503"/>
<circle cx="396.7" cy="412.3" r="0.63" fill="#031503"/>
<circle cx="396.6" cy="413.4" r="0.57" fill="#031503"/>
<circle cx="398.1" cy="415.0" r="0.38" fill="#031503"/>
<circle cx="397.6" cy="415.7" r="0.55" fill="#031503"/>
<circle cx="398.2" cy="417.1" r="0.38" fill="#031503"/>
<circle cx="399.0" cy="417.7" r="0.64" fill="#031503"/>
<circle cx="400.7" cy="419.6" r="0.59" fill="#031503"/>
<circle cx="400.2" cy="420.0" r="0.50" fill="#031503"/>
<circle cx="401.0" cy="420.9" r="0.48" fill="#031503"/>
<circle cx="402.2" cy="421.8" r="0.40" fill="#031503"/>
<circle cx="402.5" cy="421.7" r="0.48" fill="#031503"/>
<circle cx="403.4" cy="422.4" r="0.39" fill="#031503"/>
<circle cx="403.9" cy="422.2" r="0.61" fill="#031503"/>
<circle cx="403.6" cy="423.0" r="0.42" fill="#031503"/>
<circle cx="405.1" cy="423.7" r="0.55" fill="#031503"/>
<circle cx="405.1" cy="424.4" r="0.45" fill="#031503"/>
<circle cx="406.7" cy="424.2" r="0.64" fill="#031503"/>
<circle cx="407.6" cy="425.7" r="0.63" fill="#031503"/>
<circle cx="407.9" cy="426.6" r="0.61" fill="#031503"/>
<circle cx="408.1" cy="427.0" r="0.50" fill="#031503"/>
<circle cx="409.4" cy="427.2" r="0.63" fill="#031503"/>
<circle cx="409.7" cy="428.6" r="0.47" fill="#031503"/>
<circle cx="410.6" cy="428.6" r="0.43" fill="#031503"/>
<circle cx="410.8" cy="429.8" r="0.36" fill="#031503"/>
<circle cx="412.1" cy="429.4" r="0.64" fill="#031503"/>
<circle cx="412.6" cy="430.6" r="0.50" fill="#031503"/>
<circle cx="413.8" cy="431.3" r="0.45" fill="#031503"/>
<circle cx="413.5" cy="431.7" r="0.48" fill="#031503"/>
<circle cx="415.0" cy="433.6" r="0.51" fill="#031503"/>
<circle cx="415.9" cy="434.3" r="0.37" fill="#031503"/>
<circle cx="416.2" cy="435.1" r="0.62" fill="#031503"/>
<circle cx="417.9" cy="435.8" r="0.63" fill="#031503"/>
<circle cx="418.0" cy="436.3" r="0.40" fill="#031503"/>
<circle cx="419.8" cy="437.0" r="0.44" fill="#031503"/>
<circle cx="420.3" cy="437.5" r="0.45" fill="#031503"/>
<circle cx="420.4" cy="438.1" r="0.53" fill="#031503"/>
<circle cx="421.0" cy="438.4" r="0.41" fill="#031503"/>
<circle cx="421.1" cy="438.6" r="0.43" fill="#031503"/>
<circle cx="421.4" cy="438.6" r="0.64" fill="#031503"/>
<path d="M391.0,389.0 C391.1,390.8 389.4,395.4 391.3,400.0 C393.2,404.5 398.6,411.6 402.5,416.3 C406.3,421.0 411.2,424.3 414.5,428.0 C417.9,431.8 421.2,437.2 422.5,439.0" fill="none" stroke="#2a9a2a" stroke-width="0.9" stroke-linecap="round" stroke-linejoin="round"/>
<circle cx="390.9" cy="388.8" r="0.47" fill="#031503"/>
<circle cx="390.5" cy="389.7" r="0.35" fill="#031503"/>
<circle cx="390.8" cy="390.6" r="0.51" fill="#031503"/>
<circle cx="391.2" cy="391.1" r="0.60" fill="#031503"/>
<circle cx="391.0" cy="392.4" r="0.36" fill="#031503"/>
<circle cx="390.2" cy="393.3" r="0.48" fill="#031503"/>
<circle cx="390.5" cy="393.3" r="0.60" fill="#031503"/>
<circle cx="390.8" cy="396.9" r="0.48" fill="#031503"/>
<circle cx="390.5" cy="398.9" r="0.37" fill="#031503"/>
<circle cx="391.1" cy="400.4" r="0.55" fill="#031503"/>
<circle cx="392.0" cy="401.1" r="0.61" fill="#031503"/>
<circle cx="391.5" cy="401.3" r="0.38" fill="#031503"/>
<circle cx="393.1" cy="402.8" r="0.61" fill="#031503"/>
<circle cx="392.7" cy="402.7" r="0.60" fill="#031503"/>
<circle cx="393.8" cy="404.2" r="0.62" fill="#031503"/>
<circle cx="394.4" cy="405.5" r="0.42" fill="#031503"/>
<circle cx="394.6" cy="406.3" r="0.37" fill="#031503"/>
<circle cx="395.7" cy="407.8" r="0.42" fill="#031503"/>
<circle cx="396.2" cy="408.5" r="0.36" fill="#031503"/>
<circle cx="396.6" cy="408.5" r="0.51" fill="#031503"/>
<circle cx="397.5" cy="409.0" r="0.43" fill="#031503"/>
<circle cx="398.2" cy="410.0" r="0.63" fill="#031503"/>
<circle cx="398.5" cy="411.3" r="0.48" fill="#031503"/>
<circle cx="399.1" cy="412.3" r="0.53" fill="#031503"/>
<circle cx="399.6" cy="412.8" r="0.60" fill="#031503"/>
<circle cx="400.0" cy="413.6" r="0.64" fill="#031503"/>
<circle cx="400.1" cy="413.2" r="0.58" fill="#031503"/>
<circle cx="400.9" cy="414.9" r="0.54" fill="#031503"/>
<circle cx="402.5" cy="415.9" r="0.50" fill="#031503"/>
<circle cx="403.3" cy="417.4" r="0.53" fill="#031503"/>
<circle cx="404.0" cy="418.2" r="0.47" fill="#031503"/>
<circle cx="404.5" cy="417.9" r="0.43" fill="#031503"/>
<circle cx="404.7" cy="419.4" r="0.63" fill="#031503"/>
<circle cx="405.5" cy="420.5" r="0.43" fill="#031503"/>
<circle cx="407.6" cy="421.3" r="0.52" fill="#031503"/>
<circle cx="407.9" cy="421.2" r="0.37" fill="#031503"/>
<circle cx="407.9" cy="421.7" r="0.58" fill="#031503"/>
<circle cx="409.1" cy="422.2" r="0.63" fill="#031503"/>
<circle cx="409.4" cy="423.7" r="0.61" fill="#031503"/>
<circle cx="410.5" cy="423.8" r="0.56" fill="#031503"/>
<circle cx="411.2" cy="425.3" r="0.50" fill="#031503"/>
<circle cx="411.9" cy="425.4" r="0.51" fill="#031503"/>
<circle cx="412.0" cy="426.2" r="0.40" fill="#031503"/>
<circle cx="413.4" cy="426.0" r="0.39" fill="#031503"/>
<circle cx="414.0" cy="427.0" r="0.60" fill="#031503"/>
<circle cx="413.8" cy="427.4" r="0.43" fill="#031503"/>
<circle cx="415.1" cy="427.9" r="0.36" fill="#031503"/>
<circle cx="414.9" cy="429.3" r="0.64" fill="#031503"/>
<circle cx="415.9" cy="430.6" r="0.59" fill="#031503"/>
<circle cx="417.3" cy="430.6" r="0.46" fill="#031503"/>
<circle cx="417.5" cy="432.3" r="0.62" fill="#031503"/>
<circle cx="418.0" cy="433.3" r="0.43" fill="#031503"/>
<circle cx="418.8" cy="434.0" r="0.45" fill="#031503"/>
<circle cx="418.7" cy="434.4" r="0.55" fill="#031503"/>
<circle cx="420.9" cy="436.9" r="0.44" fill="#031503"/>
<circle cx="422.1" cy="438.0" r="0.63" fill="#031503"/>
<circle cx="422.5" cy="437.6" r="0.52" fill="#031503"/>
<circle cx="422.3" cy="438.4" r="0.39" fill="#031503"/>
<circle cx="422.1" cy="439.4" r="0.62" fill="#031503"/>
<path d="M395.4,389.0 C395.9,390.5 396.7,393.8 398.8,397.9 C401.0,402.0 404.7,408.2 408.2,413.5 C411.6,418.9 417.5,425.6 419.3,429.8 C421.2,434.1 419.2,437.5 419.1,439.0" fill="none" stroke="#2a9a2a" stroke-width="0.9" stroke-linecap="round" stroke-linejoin="round"/>
<circle cx="394.9" cy="389.1" r="0.55" fill="#031503"/>
<circle cx="395.3" cy="390.0" r="0.35" fill="#031503"/>
<circle cx="396.0" cy="390.2" r="0.63" fill="#031503"/>
<circle cx="395.9" cy="391.2" r="0.46" fill="#031503"/>
<circle cx="395.9" cy="391.5" r="0.37" fill="#031503"/>
<circle cx="396.1" cy="392.6" r="0.53" fill="#031503"/>
<circle cx="397.2" cy="393.4" r="0.61" fill="#031503"/>
<circle cx="397.3" cy="394.4" r="0.63" fill="#031503"/>
<circle cx="398.2" cy="395.2" r="0.47" fill="#031503"/>
<circle cx="398.9" cy="396.3" r="0.59" fill="#031503"/>
<circle cx="398.6" cy="398.4" r="0.54" fill="#031503"/>
<circle cx="399.7" cy="399.3" r="0.37" fill="#031503"/>
<circle cx="399.8" cy="399.6" r="0.48" fill="#031503"/>
<circle cx="400.1" cy="400.8" r="0.62" fill="#031503"/>
<circle cx="400.9" cy="400.8" r="0.44" fill="#031503"/>
<circle cx="401.0" cy="401.5" r="0.45" fill="#031503"/>
<circle cx="401.2" cy="402.8" r="0.64" fill="#031503"/>
<circle cx="401.6" cy="403.4" r="0.64" fill="#031503"/>
<circle cx="402.5" cy="404.1" r="0.43" fill="#031503"/>
<circle cx="403.3" cy="404.8" r="0.39" fill="#031503"/>
<circle cx="403.6" cy="406.4" r="0.46" fill="#031503"/>
<circle cx="404.1" cy="406.7" r="0.49" fill="#031503"/>
<circle cx="403.9" cy="408.1" r="0.54" fill="#031503"/>
<circle cx="404.9" cy="408.7" r="0.56" fill="#031503"/>
<circle cx="406.3" cy="410.1" r="0.36" fill="#031503"/>
<circle cx="406.4" cy="411.5" r="0.45" fill="#031503"/>
<circle cx="407.3" cy="412.2" r="0.48" fill="#031503"/>
<circle cx="408.1" cy="413.8" r="0.43" fill="#031503"/>
<circle cx="409.2" cy="413.8" r="0.38" fill="#031503"/>
<circle cx="410.0" cy="415.6" r="0.46" fill="#031503"/>
<circle cx="409.7" cy="416.8" r="0.64" fill="#031503"/>
<circle cx="410.4" cy="416.7" r="0.64" fill="#031503"/>
<circle cx="411.5" cy="418.2" r="0.51" fill="#031503"/>
<circle cx="411.9" cy="418.7" r="0.64" fill="#031503"/>
<circle cx="411.7" cy="418.7" r="0.36" fill="#031503"/>
<circle cx="412.8" cy="420.4" r="0.62" fill="#031503"/>
<circle cx="413.6" cy="420.0" r="0.37" fill="#031503"/>
<circle cx="414.9" cy="423.6" r="0.65" fill="#031503"/>
<circle cx="415.3" cy="424.0" r="0.38" fill="#031503"/>
<circle cx="416.8" cy="424.9" r="0.52" fill="#031503"/>
<circle cx="416.6" cy="425.5" r="0.41" fill="#031503"/>
<circle cx="417.5" cy="426.7" r="0.55" fill="#031503"/>
<circle cx="417.9" cy="427.1" r="0.36" fill="#031503"/>
<circle cx="418.2" cy="427.7" r="0.46" fill="#031503"/>
<circle cx="418.2" cy="429.2" r="0.52" fill="#031503"/>
<circle cx="419.0" cy="429.4" r="0.51" fill="#031503"/>
<circle cx="419.4" cy="429.5" r="0.46" fill="#031503"/>
<circle cx="419.5" cy="430.4" r="0.59" fill="#031503"/>
<circle cx="419.7" cy="432.4" r="0.36" fill="#031503"/>
<circle cx="419.9" cy="433.2" r="0.52" fill="#031503"/>
<circle cx="419.9" cy="434.6" r="0.44" fill="#031503"/>
<circle cx="419.4" cy="436.4" r="0.46" fill="#031503"/>
<circle cx="419.7" cy="436.4" r="0.64" fill="#031503"/>
<circle cx="419.3" cy="436.9" r="0.55" fill="#031503"/>
<circle cx="419.7" cy="438.7" r="0.48" fill="#031503"/>
<circle cx="418.9" cy="439.0" r="0.52" fill="#031503"/>
<path d="M418.7,410.9 C418.3,411.4 417.2,413.8 415.9,414.2 C414.6,414.6 411.9,414.1 411.0,413.3 C410.1,412.5 409.7,410.3 410.3,409.3 C410.9,408.3 413.3,407.2 414.7,407.3 C416.1,407.4 417.9,409.4 418.6,409.9" fill="none" stroke="#2a9a2a" stroke-width="0.9" stroke-linecap="round" stroke-linejoin="round"/>
<circle cx="418.3" cy="411.9" r="0.63" fill="#031503"/>
<circle cx="417.8" cy="412.7" r="0.56" fill="#031503"/>
<circle cx="416.7" cy="413.3" r="0.54" fill="#031503"/>
<circle cx="416.2" cy="413.2" r="0.40" fill="#031503"/>
<circle cx="415.8" cy="414.4" r="0.59" fill="#031503"/>
<circle cx="415.7" cy="414.2" r="0.56" fill="#031503"/>
<circle cx="414.6" cy="414.1" r="0.53" fill="#031503"/>
<circle cx="413.5" cy="414.1" r="0.55" fill="#031503"/>
<circle cx="412.5" cy="414.5" r="0.64" fill="#031503"/>
<circle cx="411.1" cy="414.2" r="0.50" fill="#031503"/>
<circle cx="410.6" cy="413.1" r="0.35" fill="#031503"/>
<circle cx="410.3" cy="411.9" r="0.61" fill="#031503"/>
<circle cx="409.7" cy="410.7" r="0.57" fill="#031503"/>
<circle cx="410.2" cy="409.9" r="0.40" fill="#031503"/>
<circle cx="409.8" cy="409.8" r="0.64" fill="#031503"/>
<circle cx="410.8" cy="408.4" r="0.52" fill="#031503"/>
<circle cx="411.6" cy="408.1" r="0.36" fill="#031503"/>
<circle cx="413.1" cy="408.1" r="0.60" fill="#031503"/>
<circle cx="413.5" cy="407.7" r="0.57" fill="#031503"/>
<circle cx="415.3" cy="408.0" r="0.48" fill="#031503"/>
<circle cx="415.9" cy="408.4" r="0.50" fill="#031503"/>
<circle cx="417.5" cy="408.4" r="0.64" fill="#031503"/>
<circle cx="417.9" cy="409.2" r="0.55" fill="#031503"/>
<circle cx="418.4" cy="410.0" r="0.49" fill="#031503"/>
<path d="M410.8,411.8 C410.3,412.2 409.4,414.3 408.3,414.7 C407.2,415.0 404.8,414.6 404.0,413.9 C403.2,413.1 402.9,411.3 403.4,410.4 C403.9,409.5 406.0,408.6 407.2,408.7 C408.4,408.8 410.0,410.5 410.6,410.9" fill="none" stroke="#2a9a2a" stroke-width="0.9" stroke-linecap="round" stroke-linejoin="round"/>
<circle cx="410.8" cy="412.0" r="0.38" fill="#031503"/>
<circle cx="410.4" cy="412.8" r="0.60" fill="#031503"/>
<circle cx="410.0" cy="413.4" r="0.51" fill="#031503"/>
<circle cx="409.3" cy="413.8" r="0.45" fill="#031503"/>
<circle cx="408.2" cy="414.9" r="0.42" fill="#031503"/>
<circle cx="407.4" cy="414.2" r="0.57" fill="#031503"/>
<circle cx="405.9" cy="414.9" r="0.47" fill="#031503"/>
<circle cx="405.2" cy="414.7" r="0.50" fill="#031503"/>
<circle cx="404.9" cy="413.8" r="0.55" fill="#031503"/>
<circle cx="404.0" cy="413.5" r="0.62" fill="#031503"/>
<circle cx="403.6" cy="412.0" r="0.63" fill="#031503"/>
<circle cx="403.3" cy="411.0" r="0.56" fill="#031503"/>
<circle cx="403.9" cy="410.9" r="0.41" fill="#031503"/>
<circle cx="404.2" cy="409.9" r="0.60" fill="#031503"/>
<circle cx="405.1" cy="408.7" r="0.45" fill="#031503"/>
<circle cx="406.4" cy="408.7" r="0.35" fill="#031503"/>
<circle cx="406.9" cy="408.3" r="0.51" fill="#031503"/>
<circle cx="408.3" cy="409.1" r="0.64" fill="#031503"/>
<circle cx="408.5" cy="409.7" r="0.41" fill="#031503"/>
<circle cx="409.4" cy="410.0" r="0.61" fill="#031503"/>
<circle cx="410.3" cy="410.1" r="0.54" fill="#031503"/>
<circle cx="410.3" cy="410.3" r="0.55" fill="#031503"/>
<path d="M401.2,400.1 C400.8,400.6 399.8,402.8 398.6,403.2 C397.4,403.6 394.9,403.1 394.1,402.4 C393.2,401.6 392.8,399.6 393.4,398.7 C394.0,397.7 396.2,396.7 397.5,396.8 C398.8,396.9 400.5,398.8 401.1,399.2" fill="none" stroke="#2a9a2a" stroke-width="0.9" stroke-linecap="round" stroke-linejoin="round"/>
<circle cx="401.0" cy="400.4" r="0.49" fill="#031503"/>
<circle cx="400.8" cy="401.0" r="0.51" fill="#031503"/>
<circle cx="399.9" cy="402.0" r="0.57" fill="#031503"/>
<circle cx="399.0" cy="402.4" r="0.39" fill="#031503"/>
<circle cx="398.3" cy="402.8" r="0.56" fill="#031503"/>
<circle cx="398.1" cy="402.9" r="0.46" fill="#031503"/>
<circle cx="397.2" cy="402.7" r="0.56" fill="#031503"/>
<circle cx="395.2" cy="402.7" r="0.64" fill="#031503"/>
<circle cx="394.6" cy="403.1" r="0.63" fill="#031503"/>
<circle cx="393.6" cy="402.6" r="0.61" fill="#031503"/>
<circle cx="393.1" cy="400.7" r="0.56" fill="#031503"/>
<circle cx="393.4" cy="399.5" r="0.63" fill="#031503"/>
<circle cx="393.2" cy="398.6" r="0.63" fill="#031503"/>
<circle cx="394.1" cy="398.5" r="0.55" fill="#031503"/>
<circle cx="394.1" cy="397.3" r="0.59" fill="#031503"/>
<circle cx="396.1" cy="397.4" r="0.49" fill="#031503"/>
<circle cx="396.5" cy="396.8" r="0.60" fill="#031503"/>
<circle cx="397.7" cy="396.5" r="0.54" fill="#031503"/>
<circle cx="398.7" cy="397.6" r="0.56" fill="#031503"/>
<circle cx="399.0" cy="397.7" r="0.58" fill="#031503"/>
<circle cx="399.3" cy="397.7" r="0.59" fill="#031503"/>
<circle cx="400.8" cy="398.9" r="0.39" fill="#031503"/>
<circle cx="401.2" cy="399.0" r="0.36" fill="#031503"/>
<path d="M419.5,428.6 C419.0,429.2 417.8,431.8 416.4,432.2 C415.0,432.7 412.1,432.1 411.1,431.2 C410.0,430.3 409.6,428.0 410.3,426.9 C410.9,425.8 413.6,424.6 415.1,424.7 C416.6,424.8 418.6,427.0 419.3,427.5" fill="none" stroke="#2a9a2a" stroke-width="0.9" stroke-linecap="round" stroke-linejoin="round"/>
<circle cx="419.6" cy="428.5" r="0.52" fill="#031503"/>
<circle cx="418.6" cy="428.7" r="0.37" fill="#031503"/>
<circle cx="418.6" cy="430.5" r="0.47" fill="#031503"/>
<circle cx="418.5" cy="430.6" r="0.60" fill="#031503"/>
<circle cx="417.5" cy="432.2" r="0.35" fill="#031503"/>
<circle cx="416.9" cy="431.8" r="0.63" fill="#031503"/>
<circle cx="415.2" cy="432.9" r="0.35" fill="#031503"/>
<circle cx="412.3" cy="432.0" r="0.42" fill="#031503"/>
<circle cx="410.8" cy="431.0" r="0.49" fill="#031503"/>
<circle cx="411.1" cy="430.4" r="0.55" fill="#031503"/>
<circle cx="409.5" cy="428.1" r="0.53" fill="#031503"/>
<circle cx="410.5" cy="427.8" r="0.57" fill="#031503"/>
<circle cx="410.2" cy="426.7" r="0.59" fill="#031503"/>
<circle cx="412.4" cy="424.8" r="0.39" fill="#031503"/>
<circle cx="413.9" cy="424.4" r="0.51" fill="#031503"/>
<circle cx="415.5" cy="424.6" r="0.47" fill="#031503"/>
<circle cx="415.7" cy="425.5" r="0.62" fill="#031503"/>
<circle cx="417.0" cy="425.7" r="0.42" fill="#031503"/>
<circle cx="417.0" cy="425.8" r="0.60" fill="#031503"/>
<circle cx="419.4" cy="426.6" r="0.47" fill="#031503"/>
<circle cx="419.7" cy="427.9" r="0.55" fill="#031503"/>
<path d="M403.2,406.8 C402.9,407.3 402.1,409.0 401.2,409.3 C400.2,409.6 398.3,409.2 397.6,408.6 C396.9,408.0 396.6,406.4 397.0,405.7 C397.5,405.0 399.3,404.2 400.3,404.2 C401.3,404.3 402.6,405.8 403.1,406.1" fill="none" stroke="#2a9a2a" stroke-width="0.9" stroke-linecap="round" stroke-linejoin="round"/>
<circle cx="403.7" cy="407.2" r="0.46" fill="#031503"/>
<circle cx="403.0" cy="407.6" r="0.63" fill="#031503"/>
<circle cx="402.4" cy="407.7" r="0.38" fill="#031503"/>
<circle cx="402.3" cy="408.6" r="0.45" fill="#031503"/>
<circle cx="398.7" cy="409.3" r="0.41" fill="#031503"/>
<circle cx="398.7" cy="409.0" r="0.49" fill="#031503"/>
<circle cx="397.0" cy="408.4" r="0.61" fill="#031503"/>
<circle cx="396.4" cy="407.6" r="0.42" fill="#031503"/>
<circle cx="397.2" cy="406.9" r="0.47" fill="#031503"/>
<circle cx="396.7" cy="406.2" r="0.46" fill="#031503"/>
<circle cx="398.5" cy="404.6" r="0.54" fill="#031503"/>
<circle cx="399.2" cy="404.0" r="0.61" fill="#031503"/>
<circle cx="401.1" cy="404.0" r="0.58" fill="#031503"/>
<circle cx="402.8" cy="405.6" r="0.47" fill="#031503"/>
<path d="M393.9,389.5 C395.8,390.3 403.5,392.2 405.6,394.2 C407.7,396.1 406.1,398.7 406.7,401.2 C407.3,403.7 407.7,406.9 409.1,409.4 C410.5,411.9 412.8,415.4 414.9,416.4 C417.0,417.4 419.8,417.1 421.9,415.2 C424.0,413.2 425.5,407.0 427.8,404.7 C430.1,402.4 434.5,401.8 435.9,401.2" fill="none" stroke="#2a9a2a" stroke-width="1.0" stroke-linecap="round" stroke-linejoin="round"/>
<circle cx="393.5" cy="389.7" r="0.60" fill="#031503"/>
<circle cx="394.2" cy="389.1" r="0.60" fill="#031503"/>
<circle cx="394.5" cy="389.6" r="0.45" fill="#031503"/>
<circle cx="396.6" cy="390.5" r="0.45" fill="#031503"/>
<circle cx="397.2" cy="390.1" r="0.51" fill="#031503"/>
<circle cx="398.3" cy="391.3" r="0.61" fill="#031503"/>
<circle cx="399.1" cy="391.2" r="0.53" fill="#031503"/>
<circle cx="401.6" cy="392.4" r="0.46" fill="#031503"/>
<circle cx="402.0" cy="392.5" r="0.60" fill="#031503"/>
<circle cx="402.8" cy="392.7" r="0.54" fill="#031503"/>
<circle cx="403.7" cy="392.6" r="0.53" fill="#031503"/>
<circle cx="404.1" cy="393.0" r="0.64" fill="#031503"/>
<circle cx="405.0" cy="393.7" r="0.59" fill="#031503"/>
<circle cx="406.8" cy="395.9" r="0.51" fill="#031503"/>
<circle cx="406.9" cy="397.8" r="0.58" fill="#031503"/>
<circle cx="406.5" cy="398.0" r="0.63" fill="#031503"/>
<circle cx="406.0" cy="400.6" r="0.48" fill="#031503"/>
<circle cx="406.9" cy="400.7" r="0.63" fill="#031503"/>
<circle cx="406.5" cy="401.8" r="0.47" fill="#031503"/>
<circle cx="406.5" cy="402.7" r="0.55" fill="#031503"/>
<circle cx="407.8" cy="404.3" r="0.55" fill="#031503"/>
<circle cx="407.3" cy="405.2" r="0.56" fill="#031503"/>
<circle cx="408.5" cy="407.1" r="0.53" fill="#031503"/>
<circle cx="408.8" cy="408.4" r="0.42" fill="#031503"/>
<circle cx="410.0" cy="410.6" r="0.41" fill="#031503"/>
<circle cx="410.4" cy="411.1" r="0.49" fill="#031503"/>
<circle cx="410.8" cy="412.0" r="0.49" fill="#031503"/>
<circle cx="412.3" cy="414.2" r="0.56" fill="#031503"/>
<circle cx="412.6" cy="414.7" r="0.58" fill="#031503"/>
<circle cx="413.4" cy="415.1" r="0.56" fill="#031503"/>
<circle cx="414.3" cy="415.8" r="0.48" fill="#031503"/>
<circle cx="414.8" cy="416.0" r="0.50" fill="#031503"/>
<circle cx="416.0" cy="417.1" r="0.54" fill="#031503"/>
<circle cx="417.8" cy="416.8" r="0.64" fill="#031503"/>
<circle cx="417.8" cy="417.5" r="0.47" fill="#031503"/>
<circle cx="419.7" cy="416.4" r="0.39" fill="#031503"/>
<circle cx="421.3" cy="415.8" r="0.40" fill="#031503"/>
<circle cx="422.1" cy="414.4" r="0.49" fill="#031503"/>
<circle cx="423.1" cy="414.2" r="0.38" fill="#031503"/>
<circle cx="423.8" cy="411.8" r="0.39" fill="#031503"/>
<circle cx="424.4" cy="411.8" r="0.41" fill="#031503"/>
<circle cx="425.0" cy="410.7" r="0.56" fill="#031503"/>
<circle cx="426.0" cy="406.4" r="0.61" fill="#031503"/>
<circle cx="426.5" cy="405.3" r="0.53" fill="#031503"/>
<circle cx="427.0" cy="405.3" r="0.63" fill="#031503"/>
<circle cx="427.5" cy="404.9" r="0.56" fill="#031503"/>
<circle cx="428.6" cy="403.9" r="0.53" fill="#031503"/>
<circle cx="428.7" cy="403.7" r="0.57" fill="#031503"/>
<circle cx="430.0" cy="402.9" r="0.53" fill="#031503"/>
<circle cx="431.1" cy="402.7" r="0.40" fill="#031503"/>
<circle cx="431.4" cy="402.7" r="0.36" fill="#031503"/>
<circle cx="432.1" cy="401.8" r="0.47" fill="#031503"/>
<circle cx="433.5" cy="401.9" r="0.60" fill="#031503"/>
<circle cx="433.8" cy="401.5" r="0.38" fill="#031503"/>
<circle cx="434.8" cy="401.5" r="0.54" fill="#031503"/>
<circle cx="435.5" cy="401.0" r="0.45" fill="#031503"/>
<circle cx="435.8" cy="401.2" r="0.38" fill="#031503"/>
<path d="M398.0,389.5 C399.0,390.9 402.0,394.6 404.0,398.0 C406.0,401.4 408.2,405.5 410.0,410.0 C411.8,414.5 413.7,420.2 415.0,425.0 C416.3,429.8 417.5,436.7 418.0,439.0" fill="none" stroke="#40c040" stroke-width="1.1" stroke-linecap="round" stroke-linejoin="round"/>
<circle cx="373.4" cy="419.9" r="8.2" fill="url(#dk)"/><circle cx="385.7" cy="428.6" r="8.6" fill="url(#dk)"/>
<rect x="405.5" y="392.5" width="3" height="3" fill="none" stroke="#9a9a9a" stroke-width="0.6"/>
<polygon points="131.7,445.1 142.2,443.9 163.2,490.6 151.0,493.0" fill="#34d024" />
<ellipse cx="139.9" cy="451.5" rx="3.8" ry="3.8" fill="#051005"/>
<ellipse cx="146.9" cy="467.3" rx="2.8" ry="3.3" fill="#051005"/>
<ellipse cx="154.5" cy="487.1" rx="3.8" ry="3.8" fill="#051005"/>
<path d="M151.5,443.9 C152.2,445.1 154.4,448.6 156.0,451.0 C157.6,453.4 159.4,456.2 160.9,458.5 C162.4,460.8 163.6,462.8 165.0,465.0 C166.4,467.2 167.9,469.2 169.1,472.0 C170.3,474.8 171.0,478.3 172.0,482.0 C173.0,485.7 174.4,492.0 174.9,494.0" fill="none" stroke="#3ac030" stroke-width="1.5" stroke-linecap="round" stroke-linejoin="round"/>
<path d="M151.2,444.2 C151.9,445.4 154.1,448.9 155.7,451.3 C157.3,453.7 159.1,456.5 160.6,458.8 C162.1,461.1 164.0,464.2 164.7,465.3" fill="none" stroke="#1a4a1a" stroke-width="0.6" stroke-linecap="round" stroke-linejoin="round"/>
<rect x="163.3" y="466.6" width="8" height="6" fill="none" stroke="#9a9a9a" stroke-width="0.6"/>
<polygon points="202.0,456.8 278.0,453.3 278.0,466.1 202.0,471.4" fill="#68c040" />
<polygon points="202.0,469.0 240.0,467.2 262.0,466.0 262.0,467.2 240.0,468.8 202.0,471.4" fill="#d0e048" />
<polygon points="202.0,456.8 230.0,455.6 230.0,456.8 202.0,458.0" fill="#c8e050" />
<ellipse cx="0" cy="0" rx="10" ry="4" fill="#58b080" transform="translate(249,461) rotate(-3)" opacity="0.7"/>
<ellipse cx="0" cy="0" rx="4" ry="2.5" fill="#3a9aa0" transform="translate(240,463) rotate(0)" opacity="0.6"/>
<ellipse cx="209.9" cy="463.2" rx="3.5" ry="3.5" fill="#0a2040"/>
<ellipse cx="220.4" cy="463.2" rx="3.3" ry="3.3" fill="#0a2040"/>
<ellipse cx="227.5" cy="460.3" rx="3" ry="3" fill="#0a2040"/>
<ellipse cx="231.5" cy="458.5" rx="2.5" ry="2.5" fill="#0a2040"/>
<ellipse cx="260.7" cy="456.8" rx="2.8" ry="2.8" fill="#0a2040"/>
<ellipse cx="266.6" cy="457.4" rx="3" ry="3" fill="#0a2040"/>
<ellipse cx="271.3" cy="458.5" rx="3" ry="3" fill="#0a2040"/>
<path d="M202.3,475.5 C205.8,476.0 216.0,477.9 223.4,478.4 C230.8,478.9 239.8,478.8 246.7,478.4 C253.6,478.0 259.8,476.9 265.0,476.0 C270.2,475.1 275.6,473.6 277.7,473.1" fill="none" stroke="#1a5a20" stroke-width="1.6" stroke-linecap="round" stroke-linejoin="round"/>
<circle cx="202.3" cy="475.3" r="0.52" fill="#40a040"/>
<circle cx="202.8" cy="475.5" r="0.38" fill="#40a040"/>
<circle cx="204.2" cy="475.8" r="0.44" fill="#40a040"/>
<circle cx="206.2" cy="476.0" r="0.39" fill="#40a040"/>
<circle cx="207.2" cy="476.3" r="0.49" fill="#40a040"/>
<circle cx="208.9" cy="476.5" r="0.50" fill="#40a040"/>
<circle cx="210.2" cy="476.8" r="0.42" fill="#40a040"/>
<circle cx="211.1" cy="476.8" r="0.49" fill="#40a040"/>
<circle cx="216.2" cy="477.7" r="0.39" fill="#40a040"/>
<circle cx="217.4" cy="478.0" r="0.46" fill="#40a040"/>
<circle cx="219.0" cy="477.9" r="0.48" fill="#40a040"/>
<circle cx="220.5" cy="477.9" r="0.46" fill="#40a040"/>
<circle cx="221.7" cy="478.1" r="0.47" fill="#40a040"/>
<circle cx="223.4" cy="478.7" r="0.36" fill="#40a040"/>
<circle cx="224.5" cy="478.7" r="0.49" fill="#40a040"/>
<circle cx="228.2" cy="478.6" r="0.40" fill="#40a040"/>
<circle cx="229.9" cy="478.4" r="0.44" fill="#40a040"/>
<circle cx="230.9" cy="478.4" r="0.48" fill="#40a040"/>
<circle cx="235.2" cy="478.4" r="0.43" fill="#40a040"/>
<circle cx="236.3" cy="479.0" r="0.42" fill="#40a040"/>
<circle cx="239.3" cy="478.5" r="0.47" fill="#40a040"/>
<circle cx="240.5" cy="478.5" r="0.40" fill="#40a040"/>
<circle cx="241.6" cy="478.8" r="0.38" fill="#40a040"/>
<circle cx="244.1" cy="478.8" r="0.43" fill="#40a040"/>
<circle cx="245.2" cy="478.6" r="0.36" fill="#40a040"/>
<circle cx="246.9" cy="478.6" r="0.44" fill="#40a040"/>
<circle cx="248.5" cy="478.2" r="0.39" fill="#40a040"/>
<circle cx="249.7" cy="478.1" r="0.37" fill="#40a040"/>
<circle cx="252.4" cy="478.1" r="0.46" fill="#40a040"/>
<circle cx="253.7" cy="477.5" r="0.41" fill="#40a040"/>
<circle cx="256.4" cy="477.7" r="0.46" fill="#40a040"/>
<circle cx="258.9" cy="477.1" r="0.49" fill="#40a040"/>
<circle cx="260.3" cy="477.1" r="0.38" fill="#40a040"/>
<circle cx="262.6" cy="476.6" r="0.51" fill="#40a040"/>
<circle cx="263.8" cy="476.1" r="0.38" fill="#40a040"/>
<circle cx="265.0" cy="475.9" r="0.38" fill="#40a040"/>
<circle cx="266.7" cy="475.7" r="0.41" fill="#40a040"/>
<circle cx="268.1" cy="475.3" r="0.44" fill="#40a040"/>
<circle cx="269.8" cy="475.0" r="0.49" fill="#40a040"/>
<circle cx="270.9" cy="474.5" r="0.41" fill="#40a040"/>
<circle cx="273.5" cy="474.3" r="0.47" fill="#40a040"/>
<circle cx="276.1" cy="473.8" r="0.45" fill="#40a040"/>
<circle cx="276.9" cy="473.2" r="0.37" fill="#40a040"/>
<circle cx="278.0" cy="473.1" r="0.40" fill="#40a040"/>
<rect x="243.8" y="474.3" width="9.3" height="5.8" fill="none" stroke="#9a9a9a" stroke-width="0.6"/>
<polygon points="289.3,459.1 309.2,455.0 347.8,445.7 350.7,455.0 334.9,463.2 309.2,472.5 289.9,476.0" fill="#30d020" />
<polygon points="295.0,462.0 345.0,450.0 346.0,455.0 330.0,461.0 300.0,470.0" fill="#20a020" />
<ellipse cx="296.4" cy="465" rx="4.5" ry="3.8" fill="#051005"/>
<ellipse cx="313.3" cy="461.4" rx="4.2" ry="4.2" fill="#051005"/>
<ellipse cx="322.6" cy="463.2" rx="2.6" ry="2.6" fill="#051005"/>
<ellipse cx="328.5" cy="456.2" rx="1.8" ry="1.8" fill="#051005"/>
<ellipse cx="334.9" cy="458" rx="3.5" ry="3.5" fill="#051005"/>
<ellipse cx="341.9" cy="452.1" rx="3.3" ry="3.3" fill="#051005"/>
<ellipse cx="305.7" cy="467.9" rx="1.5" ry="1.5" fill="#051005"/>
<path d="M285.8,486.6 C287.7,485.7 293.1,482.8 297.0,481.0 C300.9,479.2 303.3,478.0 309.2,476.0 C315.1,474.0 326.6,470.7 332.6,469.0 C338.6,467.3 341.2,466.9 345.0,466.0 C348.8,465.1 353.7,464.2 355.4,463.8" fill="none" stroke="#0a3a10" stroke-width="1.5" stroke-linecap="round" stroke-linejoin="round"/>
<rect x="319.0" y="471.8" width="6" height="5" fill="none" stroke="#9a9a9a" stroke-width="0.6"/>
<linearGradient id="g44" x1="0" y1="1" x2="1" y2="0"><stop offset="0" stop-color="#153a2a"/><stop offset="0.5" stop-color="#1a4a38"/><stop offset="1" stop-color="#2a6a50"/></linearGradient>
<polygon points="368.5,487.0 377.5,494.3 418.0,450.5 408.3,443.3 399.5,446.5 392.0,454.0 385.0,465.0 376.0,475.0" fill="#2aa040" />
<polygon points="370.5,486.8 378.0,492.0 415.0,451.0 407.5,445.5 400.0,448.5 393.0,456.0 386.0,466.0 377.0,476.0" fill="#2a7a70" />
<polygon points="372.5,486.5 378.5,490.0 412.0,452.0 407.0,447.5 401.0,450.0 394.0,457.5 387.0,467.0 378.5,477.0" fill="url(#g44)" />
<path d="M388.0,494.0 C390.0,491.8 396.0,485.7 400.0,481.0 C404.0,476.3 407.8,470.3 412.0,466.0 C416.2,461.7 420.9,458.6 425.0,455.0 C429.1,451.4 434.6,446.2 436.5,444.5" fill="none" stroke="#3cc03c" stroke-width="4.2" stroke-linecap="round" stroke-linejoin="round"/>
<circle cx="388.1" cy="495.0" r="0.56" fill="#0a3a10"/>
<circle cx="387.0" cy="492.6" r="0.49" fill="#0a3a10"/>
<circle cx="388.7" cy="494.7" r="0.78" fill="#0a3a10"/>
<circle cx="388.8" cy="493.4" r="0.63" fill="#0a3a10"/>
<circle cx="390.4" cy="492.8" r="0.54" fill="#0a3a10"/>
<circle cx="388.8" cy="493.3" r="0.54" fill="#0a3a10"/>
<circle cx="391.2" cy="490.3" r="0.88" fill="#0a3a10"/>
<circle cx="391.4" cy="489.0" r="0.51" fill="#0a3a10"/>
<circle cx="392.6" cy="488.4" r="0.80" fill="#0a3a10"/>
<circle cx="396.1" cy="486.8" r="0.74" fill="#0a3a10"/>
<circle cx="395.0" cy="485.6" r="0.82" fill="#0a3a10"/>
<circle cx="397.9" cy="485.3" r="0.51" fill="#0a3a10"/>
<circle cx="396.9" cy="482.3" r="0.81" fill="#0a3a10"/>
<circle cx="400.2" cy="481.9" r="0.57" fill="#0a3a10"/>
<circle cx="399.0" cy="482.6" r="0.74" fill="#0a3a10"/>
<circle cx="399.8" cy="479.7" r="0.75" fill="#0a3a10"/>
<circle cx="399.6" cy="480.8" r="0.84" fill="#0a3a10"/>
<circle cx="401.9" cy="478.6" r="0.49" fill="#0a3a10"/>
<circle cx="402.5" cy="478.9" r="0.57" fill="#0a3a10"/>
<circle cx="404.8" cy="476.0" r="0.52" fill="#0a3a10"/>
<circle cx="405.0" cy="476.3" r="0.72" fill="#0a3a10"/>
<circle cx="403.9" cy="474.8" r="0.66" fill="#0a3a10"/>
<circle cx="406.2" cy="473.5" r="0.60" fill="#0a3a10"/>
<circle cx="406.3" cy="473.1" r="0.87" fill="#0a3a10"/>
<circle cx="408.1" cy="472.8" r="0.61" fill="#0a3a10"/>
<circle cx="408.3" cy="470.7" r="0.78" fill="#0a3a10"/>
<circle cx="406.7" cy="470.1" r="0.66" fill="#0a3a10"/>
<circle cx="409.7" cy="469.4" r="0.59" fill="#0a3a10"/>
<circle cx="409.0" cy="469.0" r="0.63" fill="#0a3a10"/>
<circle cx="410.6" cy="467.7" r="0.87" fill="#0a3a10"/>
<circle cx="412.8" cy="467.2" r="0.78" fill="#0a3a10"/>
<circle cx="411.2" cy="466.5" r="0.80" fill="#0a3a10"/>
<circle cx="412.1" cy="465.5" r="0.58" fill="#0a3a10"/>
<circle cx="412.3" cy="463.4" r="0.54" fill="#0a3a10"/>
<circle cx="413.8" cy="464.6" r="0.62" fill="#0a3a10"/>
<circle cx="415.6" cy="464.0" r="0.78" fill="#0a3a10"/>
<circle cx="415.9" cy="462.0" r="0.76" fill="#0a3a10"/>
<circle cx="417.8" cy="460.4" r="0.50" fill="#0a3a10"/>
<circle cx="417.8" cy="462.0" r="0.88" fill="#0a3a10"/>
<circle cx="418.0" cy="461.7" r="0.86" fill="#0a3a10"/>
<circle cx="418.9" cy="458.5" r="0.60" fill="#0a3a10"/>
<circle cx="420.9" cy="459.4" r="0.56" fill="#0a3a10"/>
<circle cx="420.6" cy="459.6" r="0.69" fill="#0a3a10"/>
<circle cx="422.9" cy="456.4" r="0.83" fill="#0a3a10"/>
<circle cx="423.0" cy="457.0" r="0.69" fill="#0a3a10"/>
<circle cx="423.7" cy="454.2" r="0.67" fill="#0a3a10"/>
<circle cx="425.0" cy="455.7" r="0.67" fill="#0a3a10"/>
<circle cx="427.2" cy="453.3" r="0.56" fill="#0a3a10"/>
<circle cx="429.0" cy="453.0" r="0.63" fill="#0a3a10"/>
<circle cx="427.8" cy="451.5" r="0.61" fill="#0a3a10"/>
<circle cx="431.7" cy="450.6" r="0.56" fill="#0a3a10"/>
<circle cx="433.8" cy="447.0" r="0.65" fill="#0a3a10"/>
<circle cx="432.5" cy="448.7" r="0.71" fill="#0a3a10"/>
<circle cx="435.1" cy="445.8" r="0.50" fill="#0a3a10"/>
<circle cx="435.8" cy="446.0" r="0.89" fill="#0a3a10"/>
<circle cx="434.6" cy="446.6" r="0.71" fill="#0a3a10"/>
<circle cx="434.4" cy="443.8" r="0.80" fill="#0a3a10"/>
<circle cx="437.3" cy="445.3" r="0.76" fill="#0a3a10"/>
<rect x="400.1" y="472.4" width="5" height="5" fill="none" stroke="#9a9a9a" stroke-width="0.6"/>
</g>
<text x="196.4" y="62.1" font-size="8.6" text-anchor="end" font-weight="normal" font-style="normal" fill="#1a1a1a" stroke="#ffffff" stroke-width="1.2" stroke-opacity="0.5" paint-order="stroke">40 µm</text>
<rect x="176" y="64.4" width="18.8" height="1.3" fill="#606060"/>
<text x="276.4" y="62.1" font-size="8.6" text-anchor="end" font-weight="normal" font-style="normal" fill="#1a1a1a" stroke="#ffffff" stroke-width="1.2" stroke-opacity="0.5" paint-order="stroke">40 µm</text>
<rect x="256" y="64.4" width="18.8" height="1.3" fill="#606060"/>
<text x="356.9" y="62.1" font-size="8.6" text-anchor="end" font-weight="normal" font-style="normal" fill="#1a1a1a" stroke="#ffffff" stroke-width="1.2" stroke-opacity="0.5" paint-order="stroke">40 µm</text>
<rect x="336.5" y="64.4" width="18.8" height="1.3" fill="#606060"/>
<text x="437.4" y="62.1" font-size="8.6" text-anchor="end" font-weight="normal" font-style="normal" fill="#1a1a1a" stroke="#ffffff" stroke-width="1.2" stroke-opacity="0.5" paint-order="stroke">40 µm</text>
<rect x="417" y="64.4" width="18.8" height="1.3" fill="#606060"/>
<text x="196.4" y="117.1" font-size="8.6" text-anchor="end" font-weight="normal" font-style="normal" fill="#1a1a1a" stroke="#ffffff" stroke-width="1.2" stroke-opacity="0.5" paint-order="stroke">40 µm</text>
<rect x="176" y="119.4" width="18.8" height="1.3" fill="#606060"/>
<text x="276.4" y="117.1" font-size="8.6" text-anchor="end" font-weight="normal" font-style="normal" fill="#1a1a1a" stroke="#ffffff" stroke-width="1.2" stroke-opacity="0.5" paint-order="stroke">40 µm</text>
<rect x="256" y="119.4" width="18.8" height="1.3" fill="#606060"/>
<text x="356.9" y="117.1" font-size="8.6" text-anchor="end" font-weight="normal" font-style="normal" fill="#1a1a1a" stroke="#ffffff" stroke-width="1.2" stroke-opacity="0.5" paint-order="stroke">40 µm</text>
<rect x="336.5" y="119.4" width="18.8" height="1.3" fill="#606060"/>
<text x="437.4" y="117.1" font-size="8.6" text-anchor="end" font-weight="normal" font-style="normal" fill="#1a1a1a" stroke="#ffffff" stroke-width="1.2" stroke-opacity="0.5" paint-order="stroke">40 µm</text>
<rect x="417" y="119.4" width="18.8" height="1.3" fill="#606060"/>
<text x="190.4" y="171.1" font-size="8.6" text-anchor="end" font-weight="normal" font-style="normal" fill="#1a1a1a" stroke="#ffffff" stroke-width="1.2" stroke-opacity="0.5" paint-order="stroke">40 µm</text>
<rect x="170" y="173.4" width="18.8" height="1.3" fill="#606060"/>
<text x="276.4" y="172.1" font-size="8.6" text-anchor="end" font-weight="normal" font-style="normal" fill="#1a1a1a" stroke="#ffffff" stroke-width="1.2" stroke-opacity="0.5" paint-order="stroke">40 µm</text>
<rect x="256" y="174.4" width="18.8" height="1.3" fill="#606060"/>
<text x="356.9" y="172.1" font-size="8.6" text-anchor="end" font-weight="normal" font-style="normal" fill="#1a1a1a" stroke="#ffffff" stroke-width="1.2" stroke-opacity="0.5" paint-order="stroke">40 µm</text>
<rect x="336.5" y="174.4" width="18.8" height="1.3" fill="#606060"/>
<text x="437.4" y="172.1" font-size="8.6" text-anchor="end" font-weight="normal" font-style="normal" fill="#1a1a1a" stroke="#ffffff" stroke-width="1.2" stroke-opacity="0.5" paint-order="stroke">40 µm</text>
<rect x="417" y="174.4" width="18.8" height="1.3" fill="#606060"/>
<text x="196.4" y="227.6" font-size="8.6" text-anchor="end" font-weight="normal" font-style="normal" fill="#1a1a1a" stroke="#ffffff" stroke-width="1.2" stroke-opacity="0.5" paint-order="stroke">40 µm</text>
<rect x="176" y="229.9" width="18.8" height="1.3" fill="#606060"/>
<text x="276.4" y="227.6" font-size="8.6" text-anchor="end" font-weight="normal" font-style="normal" fill="#1a1a1a" stroke="#ffffff" stroke-width="1.2" stroke-opacity="0.5" paint-order="stroke">40 µm</text>
<rect x="256" y="229.9" width="18.8" height="1.3" fill="#606060"/>
<text x="356.9" y="227.6" font-size="8.6" text-anchor="end" font-weight="normal" font-style="normal" fill="#1a1a1a" stroke="#ffffff" stroke-width="1.2" stroke-opacity="0.5" paint-order="stroke">40 µm</text>
<rect x="336.5" y="229.9" width="18.8" height="1.3" fill="#606060"/>
<text x="437.4" y="227.6" font-size="8.6" text-anchor="end" font-weight="normal" font-style="normal" fill="#1a1a1a" stroke="#ffffff" stroke-width="1.2" stroke-opacity="0.5" paint-order="stroke">40 µm</text>
<rect x="417" y="229.9" width="18.8" height="1.3" fill="#606060"/>
<text x="197.6" y="322.8" font-size="8.6" text-anchor="end" font-weight="normal" font-style="normal" fill="#1a1a1a" stroke="#ffffff" stroke-width="1.2" stroke-opacity="0.5" paint-order="stroke">40 µm</text>
<rect x="179.5" y="325.0" width="16" height="1.1" fill="#333"/>
<text x="277.6" y="322.8" font-size="8.6" text-anchor="end" font-weight="normal" font-style="normal" fill="#1a1a1a" stroke="#ffffff" stroke-width="1.2" stroke-opacity="0.5" paint-order="stroke">40 µm</text>
<rect x="259.5" y="325.0" width="16" height="1.1" fill="#333"/>
<text x="358.1" y="322.8" font-size="8.6" text-anchor="end" font-weight="normal" font-style="normal" fill="#1a1a1a" stroke="#ffffff" stroke-width="1.2" stroke-opacity="0.5" paint-order="stroke">40 µm</text>
<rect x="340.0" y="325.0" width="16" height="1.1" fill="#333"/>
<text x="438.6" y="322.8" font-size="8.6" text-anchor="end" font-weight="normal" font-style="normal" fill="#1a1a1a" stroke="#ffffff" stroke-width="1.2" stroke-opacity="0.5" paint-order="stroke">40 µm</text>
<rect x="420.5" y="325.0" width="16" height="1.1" fill="#333"/>
<text x="197.6" y="378.1" font-size="8.6" text-anchor="end" font-weight="normal" font-style="normal" fill="#1a1a1a" stroke="#ffffff" stroke-width="1.2" stroke-opacity="0.5" paint-order="stroke">40 µm</text>
<rect x="179.5" y="380.3" width="16" height="1.1" fill="#333"/>
<text x="277.6" y="378.1" font-size="8.6" text-anchor="end" font-weight="normal" font-style="normal" fill="#1a1a1a" stroke="#ffffff" stroke-width="1.2" stroke-opacity="0.5" paint-order="stroke">40 µm</text>
<rect x="259.5" y="380.3" width="16" height="1.1" fill="#333"/>
<text x="358.1" y="378.1" font-size="8.6" text-anchor="end" font-weight="normal" font-style="normal" fill="#1a1a1a" stroke="#ffffff" stroke-width="1.2" stroke-opacity="0.5" paint-order="stroke">40 µm</text>
<rect x="340.0" y="380.3" width="16" height="1.1" fill="#333"/>
<text x="438.6" y="378.1" font-size="8.6" text-anchor="end" font-weight="normal" font-style="normal" fill="#1a1a1a" stroke="#ffffff" stroke-width="1.2" stroke-opacity="0.5" paint-order="stroke">40 µm</text>
<rect x="420.5" y="380.3" width="16" height="1.1" fill="#333"/>
<text x="197.6" y="433.40000000000003" font-size="8.6" text-anchor="end" font-weight="normal" font-style="normal" fill="#1a1a1a" stroke="#ffffff" stroke-width="1.2" stroke-opacity="0.5" paint-order="stroke">40 µm</text>
<rect x="179.5" y="435.6" width="16" height="1.1" fill="#333"/>
<text x="276.1" y="429.90000000000003" font-size="8.6" text-anchor="end" font-weight="normal" font-style="normal" fill="#1a1a1a" stroke="#ffffff" stroke-width="1.2" stroke-opacity="0.5" paint-order="stroke">40 µm</text>
<rect x="258.0" y="432.1" width="16" height="1.1" fill="#333"/>
<text x="358.1" y="433.40000000000003" font-size="8.6" text-anchor="end" font-weight="normal" font-style="normal" fill="#1a1a1a" stroke="#ffffff" stroke-width="1.2" stroke-opacity="0.5" paint-order="stroke">40 µm</text>
<rect x="340.0" y="435.6" width="16" height="1.1" fill="#333"/>
<text x="438.6" y="433.40000000000003" font-size="8.6" text-anchor="end" font-weight="normal" font-style="normal" fill="#1a1a1a" stroke="#ffffff" stroke-width="1.2" stroke-opacity="0.5" paint-order="stroke">40 µm</text>
<rect x="420.5" y="435.6" width="16" height="1.1" fill="#333"/>
<text x="197.6" y="488.7" font-size="8.6" text-anchor="end" font-weight="normal" font-style="normal" fill="#1a1a1a" stroke="#ffffff" stroke-width="1.2" stroke-opacity="0.5" paint-order="stroke">40 µm</text>
<rect x="179.5" y="490.9" width="16" height="1.1" fill="#333"/>
<text x="277.6" y="488.7" font-size="8.6" text-anchor="end" font-weight="normal" font-style="normal" fill="#1a1a1a" stroke="#ffffff" stroke-width="1.2" stroke-opacity="0.5" paint-order="stroke">40 µm</text>
<rect x="259.5" y="490.9" width="16" height="1.1" fill="#333"/>
<text x="358.1" y="488.7" font-size="8.6" text-anchor="end" font-weight="normal" font-style="normal" fill="#1a1a1a" stroke="#ffffff" stroke-width="1.2" stroke-opacity="0.5" paint-order="stroke">40 µm</text>
<rect x="340.0" y="490.9" width="16" height="1.1" fill="#333"/>
<text x="438.6" y="488.7" font-size="8.6" text-anchor="end" font-weight="normal" font-style="normal" fill="#1a1a1a" stroke="#ffffff" stroke-width="1.2" stroke-opacity="0.5" paint-order="stroke">40 µm</text>
<rect x="420.5" y="490.9" width="16" height="1.1" fill="#333"/>
<line x1="515.8" y1="35.1" x2="515.8" y2="83.8" stroke="#1a1a1a" stroke-width="1.2"/>
<line x1="515.1999999999999" y1="83.2" x2="578.8" y2="83.2" stroke="#1a1a1a" stroke-width="1.2"/>
<line x1="518.6" y1="83.2" x2="518.6" y2="86.2" stroke="#1a1a1a" stroke-width="1"/>
<line x1="532.9" y1="83.2" x2="532.9" y2="86.2" stroke="#1a1a1a" stroke-width="1"/>
<line x1="547.2" y1="83.2" x2="547.2" y2="86.2" stroke="#1a1a1a" stroke-width="1"/>
<line x1="561.4" y1="83.2" x2="561.4" y2="86.2" stroke="#1a1a1a" stroke-width="1"/>
<line x1="575.8" y1="83.2" x2="575.8" y2="86.2" stroke="#1a1a1a" stroke-width="1"/>
<line x1="515.8" y1="78.4" x2="519.0" y2="78.4" stroke="#1a1a1a" stroke-width="0.9"/>
<line x1="515.8" y1="75.7" x2="519.0" y2="75.7" stroke="#1a1a1a" stroke-width="0.9"/>
<line x1="515.8" y1="73.4" x2="519.0" y2="73.4" stroke="#1a1a1a" stroke-width="0.9"/>
<line x1="515.8" y1="71.3" x2="519.0" y2="71.3" stroke="#1a1a1a" stroke-width="0.9"/>
<line x1="515.8" y1="57.4" x2="519.0" y2="57.4" stroke="#1a1a1a" stroke-width="0.9"/>
<line x1="515.8" y1="50.3" x2="519.0" y2="50.3" stroke="#1a1a1a" stroke-width="0.9"/>
<line x1="515.8" y1="45.2" x2="519.0" y2="45.2" stroke="#1a1a1a" stroke-width="0.9"/>
<line x1="515.8" y1="38.1" x2="519.0" y2="38.1" stroke="#1a1a1a" stroke-width="0.9"/>
<line x1="515.8" y1="35.4" x2="519.0" y2="35.4" stroke="#1a1a1a" stroke-width="0.9"/>
<line x1="515.8" y1="81.6" x2="521.8" y2="81.6" stroke="#1a1a1a" stroke-width="1"/>
<line x1="515.8" y1="41.3" x2="521.8" y2="41.3" stroke="#1a1a1a" stroke-width="1"/>
<line x1="515.8" y1="69.5" x2="524.5999999999999" y2="69.5" stroke="#1a1a1a" stroke-width="1.1"/>
<line x1="512.8" y1="41.3" x2="515.8" y2="41.3" stroke="#1a1a1a" stroke-width="1.1"/>
<text x="511.5" y="44.23150882525844" font-size="8.4" text-anchor="end" font-weight="normal" font-style="normal" fill="#111" stroke="#111" stroke-width="0.15">5.0</text>
<line x1="512.8" y1="50.3" x2="515.8" y2="50.3" stroke="#1a1a1a" stroke-width="1.1"/>
<text x="511.5" y="53.1720134347976" font-size="8.4" text-anchor="end" font-weight="normal" font-style="normal" fill="#111" stroke="#111" stroke-width="0.15">3.0</text>
<line x1="512.8" y1="69.5" x2="515.8" y2="69.5" stroke="#1a1a1a" stroke-width="1.1"/>
<text x="511.5" y="72.4" font-size="8.4" text-anchor="end" font-weight="normal" font-style="normal" fill="#111" stroke="#111" stroke-width="0.15">1.0</text>
<line x1="512.8" y1="81.6" x2="515.8" y2="81.6" stroke="#1a1a1a" stroke-width="1.1"/>
<text x="511.5" y="84.53150882525844" font-size="8.4" text-anchor="end" font-weight="normal" font-style="normal" fill="#111" stroke="#111" stroke-width="0.15">0.5</text>
<text x="547.2" y="30.4" font-size="9.1" text-anchor="middle" font-weight="bold" font-style="normal" fill="#111" stroke="#111" stroke-width="0.15">TP</text>
<polyline points="518.6,66.6 532.9,65.7 547.2,64.1 561.4,60.3 575.8,64.9" fill="none" stroke="#4aac5e" stroke-width="1.35"/>
<path d="M518.6,64.1 L520.9,68.2 L516.3,68.2 Z" fill="#4aac5e"/>
<path d="M532.9,63.2 L535.2,67.3 L530.6,67.3 Z" fill="#4aac5e"/>
<path d="M547.2,61.6 L549.5,65.7 L544.9,65.7 Z" fill="#4aac5e"/>
<path d="M561.4,57.8 L563.7,61.9 L559.1,61.9 Z" fill="#4aac5e"/>
<path d="M575.8,62.4 L578.1,66.5 L573.5,66.5 Z" fill="#4aac5e"/>
<polyline points="518.6,68.7 532.9,67.5 547.2,66.6 561.4,66.0 575.8,71.0" fill="none" stroke="#2e8b48" stroke-width="1.35"/>
<rect x="516.6" y="66.7" width="4.1" height="4.1" fill="#2e8b48"/>
<rect x="530.9" y="65.5" width="4.1" height="4.1" fill="#2e8b48"/>
<rect x="545.2" y="64.5" width="4.1" height="4.1" fill="#2e8b48"/>
<rect x="559.4" y="64.0" width="4.1" height="4.1" fill="#2e8b48"/>
<rect x="573.8" y="69.0" width="4.1" height="4.1" fill="#2e8b48"/>
<polyline points="518.6,46.6 532.9,44.0 547.2,44.5 561.4,41.2 575.8,42.4" fill="none" stroke="#78c679" stroke-width="1.35"/>
<circle cx="518.6" cy="46.6" r="2.05" fill="#78c679"/>
<circle cx="532.9" cy="44.0" r="2.05" fill="#78c679"/>
<circle cx="547.2" cy="44.5" r="2.05" fill="#78c679"/>
<circle cx="561.4" cy="41.2" r="2.05" fill="#78c679"/>
<circle cx="575.8" cy="42.4" r="2.05" fill="#78c679"/>
<polyline points="518.6,49.4 532.9,42.4 547.2,39.4 561.4,38.2 575.8,43.7" fill="none" stroke="#135e34" stroke-width="1.35"/>
<line x1="515.9" y1="49.4" x2="521.3" y2="49.4" stroke="#135e34" stroke-width="1"/>
<line x1="516.7" y1="47.5" x2="520.5" y2="51.3" stroke="#135e34" stroke-width="1"/>
<line x1="518.6" y1="46.7" x2="518.6" y2="52.1" stroke="#135e34" stroke-width="1"/>
<line x1="520.5" y1="47.5" x2="516.7" y2="51.3" stroke="#135e34" stroke-width="1"/>
<circle cx="518.6" cy="49.4" r="1.3" fill="#135e34"/>
<line x1="530.2" y1="42.4" x2="535.6" y2="42.4" stroke="#135e34" stroke-width="1"/>
<line x1="531.0" y1="40.5" x2="534.8" y2="44.3" stroke="#135e34" stroke-width="1"/>
<line x1="532.9" y1="39.7" x2="532.9" y2="45.1" stroke="#135e34" stroke-width="1"/>
<line x1="534.8" y1="40.5" x2="531.0" y2="44.3" stroke="#135e34" stroke-width="1"/>
<circle cx="532.9" cy="42.4" r="1.3" fill="#135e34"/>
<line x1="544.5" y1="39.4" x2="549.9" y2="39.4" stroke="#135e34" stroke-width="1"/>
<line x1="545.3" y1="37.5" x2="549.1" y2="41.3" stroke="#135e34" stroke-width="1"/>
<line x1="547.2" y1="36.7" x2="547.2" y2="42.1" stroke="#135e34" stroke-width="1"/>
<line x1="549.1" y1="37.5" x2="545.3" y2="41.3" stroke="#135e34" stroke-width="1"/>
<circle cx="547.2" cy="39.4" r="1.3" fill="#135e34"/>
<line x1="558.7" y1="38.2" x2="564.1" y2="38.2" stroke="#135e34" stroke-width="1"/>
<line x1="559.5" y1="36.3" x2="563.3" y2="40.1" stroke="#135e34" stroke-width="1"/>
<line x1="561.4" y1="35.5" x2="561.4" y2="40.9" stroke="#135e34" stroke-width="1"/>
<line x1="563.3" y1="36.3" x2="559.5" y2="40.1" stroke="#135e34" stroke-width="1"/>
<circle cx="561.4" cy="38.2" r="1.3" fill="#135e34"/>
<line x1="573.1" y1="43.7" x2="578.5" y2="43.7" stroke="#135e34" stroke-width="1"/>
<line x1="573.9" y1="41.8" x2="577.7" y2="45.6" stroke="#135e34" stroke-width="1"/>
<line x1="575.8" y1="41.0" x2="575.8" y2="46.4" stroke="#135e34" stroke-width="1"/>
<line x1="577.7" y1="41.8" x2="573.9" y2="45.6" stroke="#135e34" stroke-width="1"/>
<circle cx="575.8" cy="43.7" r="1.3" fill="#135e34"/>
<line x1="515.8" y1="109" x2="515.8" y2="157.6" stroke="#1a1a1a" stroke-width="1.2"/>
<line x1="515.1999999999999" y1="157" x2="578.8" y2="157" stroke="#1a1a1a" stroke-width="1.2"/>
<line x1="518.6" y1="157" x2="518.6" y2="160" stroke="#1a1a1a" stroke-width="1"/>
<line x1="532.9" y1="157" x2="532.9" y2="160" stroke="#1a1a1a" stroke-width="1"/>
<line x1="547.2" y1="157" x2="547.2" y2="160" stroke="#1a1a1a" stroke-width="1"/>
<line x1="561.4" y1="157" x2="561.4" y2="160" stroke="#1a1a1a" stroke-width="1"/>
<line x1="575.8" y1="157" x2="575.8" y2="160" stroke="#1a1a1a" stroke-width="1"/>
<line x1="515.8" y1="152.9" x2="519.0" y2="152.9" stroke="#1a1a1a" stroke-width="0.9"/>
<line x1="515.8" y1="151.1" x2="519.0" y2="151.1" stroke="#1a1a1a" stroke-width="0.9"/>
<line x1="515.8" y1="149.6" x2="519.0" y2="149.6" stroke="#1a1a1a" stroke-width="0.9"/>
<line x1="515.8" y1="148.2" x2="519.0" y2="148.2" stroke="#1a1a1a" stroke-width="0.9"/>
<line x1="515.8" y1="139.0" x2="519.0" y2="139.0" stroke="#1a1a1a" stroke-width="0.9"/>
<line x1="515.8" y1="134.3" x2="519.0" y2="134.3" stroke="#1a1a1a" stroke-width="0.9"/>
<line x1="515.8" y1="130.9" x2="519.0" y2="130.9" stroke="#1a1a1a" stroke-width="0.9"/>
<line x1="515.8" y1="126.2" x2="519.0" y2="126.2" stroke="#1a1a1a" stroke-width="0.9"/>
<line x1="515.8" y1="124.4" x2="519.0" y2="124.4" stroke="#1a1a1a" stroke-width="0.9"/>
<line x1="515.8" y1="122.9" x2="519.0" y2="122.9" stroke="#1a1a1a" stroke-width="0.9"/>
<line x1="515.8" y1="121.5" x2="519.0" y2="121.5" stroke="#1a1a1a" stroke-width="0.9"/>
<line x1="515.8" y1="112.3" x2="519.0" y2="112.3" stroke="#1a1a1a" stroke-width="0.9"/>
<line x1="515.8" y1="155.0" x2="521.8" y2="155.0" stroke="#1a1a1a" stroke-width="1"/>
<line x1="515.8" y1="128.3" x2="521.8" y2="128.3" stroke="#1a1a1a" stroke-width="1"/>
<line x1="515.8" y1="147.0" x2="524.5999999999999" y2="147.0" stroke="#1a1a1a" stroke-width="1.1"/>
<line x1="515.8" y1="120.3" x2="524.5999999999999" y2="120.3" stroke="#1a1a1a" stroke-width="1.1"/>
<line x1="512.8" y1="120.3" x2="515.8" y2="120.3" stroke="#1a1a1a" stroke-width="1.1"/>
<text x="511.5" y="123.2" font-size="8.4" text-anchor="end" font-weight="normal" font-style="normal" fill="#111" stroke="#111" stroke-width="0.15">1.0</text>
<line x1="512.8" y1="134.3" x2="515.8" y2="134.3" stroke="#1a1a1a" stroke-width="1.1"/>
<text x="511.5" y="137.160862498985" font-size="8.4" text-anchor="end" font-weight="normal" font-style="normal" fill="#111" stroke="#111" stroke-width="0.15">0.3</text>
<line x1="512.8" y1="147.0" x2="515.8" y2="147.0" stroke="#1a1a1a" stroke-width="1.1"/>
<text x="511.5" y="149.9" font-size="8.4" text-anchor="end" font-weight="normal" font-style="normal" fill="#111" stroke="#111" stroke-width="0.15">0.1</text>
<text x="547.2" y="104.2" font-size="9.1" text-anchor="middle" font-weight="bold" font-style="normal" fill="#111" stroke="#111" stroke-width="0.15">DIP</text>
<polyline points="518.6,147.5 532.9,147.0 547.2,144.6 561.4,142.0 575.8,141.5" fill="none" stroke="#4aac5e" stroke-width="1.35"/>
<path d="M518.6,145.0 L520.9,149.1 L516.3,149.1 Z" fill="#4aac5e"/>
<path d="M532.9,144.5 L535.2,148.6 L530.6,148.6 Z" fill="#4aac5e"/>
<path d="M547.2,142.1 L549.5,146.2 L544.9,146.2 Z" fill="#4aac5e"/>
<path d="M561.4,139.5 L563.7,143.6 L559.1,143.6 Z" fill="#4aac5e"/>
<path d="M575.8,139.0 L578.1,143.1 L573.5,143.1 Z" fill="#4aac5e"/>
<polyline points="518.6,148.3 532.9,144.3 547.2,141.7 561.4,141.4 575.8,141.3" fill="none" stroke="#2e8b48" stroke-width="1.35"/>
<rect x="516.6" y="146.2" width="4.1" height="4.1" fill="#2e8b48"/>
<rect x="530.9" y="142.2" width="4.1" height="4.1" fill="#2e8b48"/>
<rect x="545.2" y="139.6" width="4.1" height="4.1" fill="#2e8b48"/>
<rect x="559.4" y="139.3" width="4.1" height="4.1" fill="#2e8b48"/>
<rect x="573.8" y="139.2" width="4.1" height="4.1" fill="#2e8b48"/>
<polyline points="518.6,130.3 532.9,128.3 547.2,126.3 561.4,127.3 575.8,127.7" fill="none" stroke="#78c679" stroke-width="1.35"/>
<circle cx="518.6" cy="130.3" r="2.05" fill="#78c679"/>
<circle cx="532.9" cy="128.3" r="2.05" fill="#78c679"/>
<circle cx="547.2" cy="126.3" r="2.05" fill="#78c679"/>
<circle cx="561.4" cy="127.3" r="2.05" fill="#78c679"/>
<circle cx="575.8" cy="127.7" r="2.05" fill="#78c679"/>
<polyline points="518.6,130.3 532.9,128.3 547.2,129.0 561.4,127.3 575.8,127.7" fill="none" stroke="#135e34" stroke-width="1.35"/>
<line x1="515.9" y1="130.3" x2="521.3" y2="130.3" stroke="#135e34" stroke-width="1"/>
<line x1="516.7" y1="128.4" x2="520.5" y2="132.2" stroke="#135e34" stroke-width="1"/>
<line x1="518.6" y1="127.6" x2="518.6" y2="133.0" stroke="#135e34" stroke-width="1"/>
<line x1="520.5" y1="128.4" x2="516.7" y2="132.2" stroke="#135e34" stroke-width="1"/>
<circle cx="518.6" cy="130.3" r="1.3" fill="#135e34"/>
<line x1="530.2" y1="128.3" x2="535.6" y2="128.3" stroke="#135e34" stroke-width="1"/>
<line x1="531.0" y1="126.4" x2="534.8" y2="130.2" stroke="#135e34" stroke-width="1"/>
<line x1="532.9" y1="125.6" x2="532.9" y2="131.0" stroke="#135e34" stroke-width="1"/>
<line x1="534.8" y1="126.4" x2="531.0" y2="130.2" stroke="#135e34" stroke-width="1"/>
<circle cx="532.9" cy="128.3" r="1.3" fill="#135e34"/>
<line x1="544.5" y1="129.0" x2="549.9" y2="129.0" stroke="#135e34" stroke-width="1"/>
<line x1="545.3" y1="127.1" x2="549.1" y2="130.9" stroke="#135e34" stroke-width="1"/>
<line x1="547.2" y1="126.3" x2="547.2" y2="131.7" stroke="#135e34" stroke-width="1"/>
<line x1="549.1" y1="127.1" x2="545.3" y2="130.9" stroke="#135e34" stroke-width="1"/>
<circle cx="547.2" cy="129.0" r="1.3" fill="#135e34"/>
<line x1="558.7" y1="127.3" x2="564.1" y2="127.3" stroke="#135e34" stroke-width="1"/>
<line x1="559.5" y1="125.4" x2="563.3" y2="129.2" stroke="#135e34" stroke-width="1"/>
<line x1="561.4" y1="124.6" x2="561.4" y2="130.0" stroke="#135e34" stroke-width="1"/>
<line x1="563.3" y1="125.4" x2="559.5" y2="129.2" stroke="#135e34" stroke-width="1"/>
<circle cx="561.4" cy="127.3" r="1.3" fill="#135e34"/>
<line x1="573.1" y1="127.7" x2="578.5" y2="127.7" stroke="#135e34" stroke-width="1"/>
<line x1="573.9" y1="125.8" x2="577.7" y2="129.6" stroke="#135e34" stroke-width="1"/>
<line x1="575.8" y1="125.0" x2="575.8" y2="130.4" stroke="#135e34" stroke-width="1"/>
<line x1="577.7" y1="125.8" x2="573.9" y2="129.6" stroke="#135e34" stroke-width="1"/>
<circle cx="575.8" cy="127.7" r="1.3" fill="#135e34"/>
<line x1="515.8" y1="184" x2="515.8" y2="231.29999999999998" stroke="#1a1a1a" stroke-width="1.2"/>
<line x1="515.1999999999999" y1="230.7" x2="578.8" y2="230.7" stroke="#1a1a1a" stroke-width="1.2"/>
<line x1="518.6" y1="230.7" x2="518.6" y2="233.7" stroke="#1a1a1a" stroke-width="1"/>
<line x1="532.9" y1="230.7" x2="532.9" y2="233.7" stroke="#1a1a1a" stroke-width="1"/>
<line x1="547.2" y1="230.7" x2="547.2" y2="233.7" stroke="#1a1a1a" stroke-width="1"/>
<line x1="561.4" y1="230.7" x2="561.4" y2="233.7" stroke="#1a1a1a" stroke-width="1"/>
<line x1="575.8" y1="230.7" x2="575.8" y2="233.7" stroke="#1a1a1a" stroke-width="1"/>
<line x1="515.8" y1="216.1" x2="519.0" y2="216.1" stroke="#1a1a1a" stroke-width="0.9"/>
<line x1="515.8" y1="208.4" x2="519.0" y2="208.4" stroke="#1a1a1a" stroke-width="0.9"/>
<line x1="515.8" y1="203.0" x2="519.0" y2="203.0" stroke="#1a1a1a" stroke-width="0.9"/>
<line x1="515.8" y1="195.3" x2="519.0" y2="195.3" stroke="#1a1a1a" stroke-width="0.9"/>
<line x1="515.8" y1="192.4" x2="519.0" y2="192.4" stroke="#1a1a1a" stroke-width="0.9"/>
<line x1="515.8" y1="189.8" x2="519.0" y2="189.8" stroke="#1a1a1a" stroke-width="0.9"/>
<line x1="515.8" y1="187.6" x2="519.0" y2="187.6" stroke="#1a1a1a" stroke-width="0.9"/>
<line x1="515.8" y1="198.7" x2="521.8" y2="198.7" stroke="#1a1a1a" stroke-width="1"/>
<line x1="515.8" y1="229.2" x2="524.5999999999999" y2="229.2" stroke="#1a1a1a" stroke-width="1.1"/>
<line x1="515.8" y1="185.6" x2="524.5999999999999" y2="185.6" stroke="#1a1a1a" stroke-width="1.1"/>
<line x1="512.8" y1="185.6" x2="515.8" y2="185.6" stroke="#1a1a1a" stroke-width="1.1"/>
<text x="511.5" y="188.5" font-size="8.4" text-anchor="end" font-weight="normal" font-style="normal" fill="#111" stroke="#111" stroke-width="0.15">0.10</text>
<line x1="512.8" y1="208.4" x2="515.8" y2="208.4" stroke="#1a1a1a" stroke-width="1.1"/>
<text x="511.5" y="211.29751329422274" font-size="8.4" text-anchor="end" font-weight="normal" font-style="normal" fill="#111" stroke="#111" stroke-width="0.15">0.03</text>
<line x1="512.8" y1="229.2" x2="515.8" y2="229.2" stroke="#1a1a1a" stroke-width="1.1"/>
<text x="511.5" y="232.1" font-size="8.4" text-anchor="end" font-weight="normal" font-style="normal" fill="#111" stroke="#111" stroke-width="0.15">0.01</text>
<text x="547.2" y="178.3" font-size="9.1" text-anchor="middle" font-weight="bold" font-style="normal" fill="#111" stroke="#111" stroke-width="0.15">PolyP</text>
<polyline points="518.6,222.1 532.9,219.3 547.2,213.2 561.4,212.2 575.8,211.7" fill="none" stroke="#4aac5e" stroke-width="1.35"/>
<path d="M518.6,219.6 L520.9,223.7 L516.3,223.7 Z" fill="#4aac5e"/>
<path d="M532.9,216.8 L535.2,220.9 L530.6,220.9 Z" fill="#4aac5e"/>
<path d="M547.2,210.7 L549.5,214.8 L544.9,214.8 Z" fill="#4aac5e"/>
<path d="M561.4,209.7 L563.7,213.8 L559.1,213.8 Z" fill="#4aac5e"/>
<path d="M575.8,209.2 L578.1,213.3 L573.5,213.3 Z" fill="#4aac5e"/>
<polyline points="518.6,219.3 532.9,212.6 547.2,211.3 561.4,210.7 575.8,210.1" fill="none" stroke="#2e8b48" stroke-width="1.35"/>
<rect x="516.6" y="217.2" width="4.1" height="4.1" fill="#2e8b48"/>
<rect x="530.9" y="210.5" width="4.1" height="4.1" fill="#2e8b48"/>
<rect x="545.2" y="209.2" width="4.1" height="4.1" fill="#2e8b48"/>
<rect x="559.4" y="208.6" width="4.1" height="4.1" fill="#2e8b48"/>
<rect x="573.8" y="208.0" width="4.1" height="4.1" fill="#2e8b48"/>
<polyline points="518.6,220.2 532.9,212.6 547.2,206.0 561.4,199.3 575.8,211.7" fill="none" stroke="#78c679" stroke-width="1.35"/>
<circle cx="518.6" cy="220.2" r="2.05" fill="#78c679"/>
<circle cx="532.9" cy="212.6" r="2.05" fill="#78c679"/>
<circle cx="547.2" cy="206.0" r="2.05" fill="#78c679"/>
<circle cx="561.4" cy="199.3" r="2.05" fill="#78c679"/>
<circle cx="575.8" cy="211.7" r="2.05" fill="#78c679"/>
<polyline points="518.6,206.9 532.9,204.0 547.2,200.8 561.4,195.5 575.8,196.4" fill="none" stroke="#135e34" stroke-width="1.35"/>
<line x1="515.9" y1="206.9" x2="521.3" y2="206.9" stroke="#135e34" stroke-width="1"/>
<line x1="516.7" y1="205.0" x2="520.5" y2="208.8" stroke="#135e34" stroke-width="1"/>
<line x1="518.6" y1="204.2" x2="518.6" y2="209.6" stroke="#135e34" stroke-width="1"/>
<line x1="520.5" y1="205.0" x2="516.7" y2="208.8" stroke="#135e34" stroke-width="1"/>
<circle cx="518.6" cy="206.9" r="1.3" fill="#135e34"/>
<line x1="530.2" y1="204.0" x2="535.6" y2="204.0" stroke="#135e34" stroke-width="1"/>
<line x1="531.0" y1="202.1" x2="534.8" y2="205.9" stroke="#135e34" stroke-width="1"/>
<line x1="532.9" y1="201.3" x2="532.9" y2="206.7" stroke="#135e34" stroke-width="1"/>
<line x1="534.8" y1="202.1" x2="531.0" y2="205.9" stroke="#135e34" stroke-width="1"/>
<circle cx="532.9" cy="204.0" r="1.3" fill="#135e34"/>
<line x1="544.5" y1="200.8" x2="549.9" y2="200.8" stroke="#135e34" stroke-width="1"/>
<line x1="545.3" y1="198.9" x2="549.1" y2="202.7" stroke="#135e34" stroke-width="1"/>
<line x1="547.2" y1="198.1" x2="547.2" y2="203.5" stroke="#135e34" stroke-width="1"/>
<line x1="549.1" y1="198.9" x2="545.3" y2="202.7" stroke="#135e34" stroke-width="1"/>
<circle cx="547.2" cy="200.8" r="1.3" fill="#135e34"/>
<line x1="558.7" y1="195.5" x2="564.1" y2="195.5" stroke="#135e34" stroke-width="1"/>
<line x1="559.5" y1="193.6" x2="563.3" y2="197.4" stroke="#135e34" stroke-width="1"/>
<line x1="561.4" y1="192.8" x2="561.4" y2="198.2" stroke="#135e34" stroke-width="1"/>
<line x1="563.3" y1="193.6" x2="559.5" y2="197.4" stroke="#135e34" stroke-width="1"/>
<circle cx="561.4" cy="195.5" r="1.3" fill="#135e34"/>
<line x1="573.1" y1="196.4" x2="578.5" y2="196.4" stroke="#135e34" stroke-width="1"/>
<line x1="573.9" y1="194.5" x2="577.7" y2="198.3" stroke="#135e34" stroke-width="1"/>
<line x1="575.8" y1="193.7" x2="575.8" y2="199.1" stroke="#135e34" stroke-width="1"/>
<line x1="577.7" y1="194.5" x2="573.9" y2="198.3" stroke="#135e34" stroke-width="1"/>
<circle cx="575.8" cy="196.4" r="1.3" fill="#135e34"/>
<text x="518.6" y="242.2" font-size="8.9" text-anchor="middle" font-weight="normal" font-style="normal" fill="#111" stroke="#111" stroke-width="0.15">25</text>
<text x="532.9" y="242.2" font-size="8.9" text-anchor="middle" font-weight="normal" font-style="normal" fill="#111" stroke="#111" stroke-width="0.15">30</text>
<text x="547.2" y="242.2" font-size="8.9" text-anchor="middle" font-weight="normal" font-style="normal" fill="#111" stroke="#111" stroke-width="0.15">35</text>
<text x="561.4" y="242.2" font-size="8.9" text-anchor="middle" font-weight="normal" font-style="normal" fill="#111" stroke="#111" stroke-width="0.15">40</text>
<text x="575.8" y="242.2" font-size="8.9" text-anchor="middle" font-weight="normal" font-style="normal" fill="#111" stroke="#111" stroke-width="0.15">45</text>
<text x="547.2" y="253.6" font-size="10.5" text-anchor="middle" font-weight="normal" font-style="normal" fill="#111" stroke="#111" stroke-width="0.2">Temperature (°C)</text>
<line x1="515.8" y1="297.5" x2="515.8" y2="346.3" stroke="#1a1a1a" stroke-width="1.2"/>
<line x1="515.1999999999999" y1="345.7" x2="578.8" y2="345.7" stroke="#1a1a1a" stroke-width="1.2"/>
<line x1="518.5" y1="345.7" x2="518.5" y2="348.7" stroke="#1a1a1a" stroke-width="1"/>
<line x1="537.5" y1="345.7" x2="537.5" y2="348.7" stroke="#1a1a1a" stroke-width="1"/>
<line x1="556.6" y1="345.7" x2="556.6" y2="348.7" stroke="#1a1a1a" stroke-width="1"/>
<line x1="575.7" y1="345.7" x2="575.7" y2="348.7" stroke="#1a1a1a" stroke-width="1"/>
<line x1="515.8" y1="340.5" x2="519.0" y2="340.5" stroke="#1a1a1a" stroke-width="0.9"/>
<line x1="515.8" y1="337.8" x2="519.0" y2="337.8" stroke="#1a1a1a" stroke-width="0.9"/>
<line x1="515.8" y1="335.5" x2="519.0" y2="335.5" stroke="#1a1a1a" stroke-width="0.9"/>
<line x1="515.8" y1="333.4" x2="519.0" y2="333.4" stroke="#1a1a1a" stroke-width="0.9"/>
<line x1="515.8" y1="319.5" x2="519.0" y2="319.5" stroke="#1a1a1a" stroke-width="0.9"/>
<line x1="515.8" y1="312.4" x2="519.0" y2="312.4" stroke="#1a1a1a" stroke-width="0.9"/>
<line x1="515.8" y1="307.3" x2="519.0" y2="307.3" stroke="#1a1a1a" stroke-width="0.9"/>
<line x1="515.8" y1="300.2" x2="519.0" y2="300.2" stroke="#1a1a1a" stroke-width="0.9"/>
<line x1="515.8" y1="297.5" x2="519.0" y2="297.5" stroke="#1a1a1a" stroke-width="0.9"/>
<line x1="515.8" y1="343.7" x2="521.8" y2="343.7" stroke="#1a1a1a" stroke-width="1"/>
<line x1="515.8" y1="303.4" x2="521.8" y2="303.4" stroke="#1a1a1a" stroke-width="1"/>
<line x1="515.8" y1="331.6" x2="524.5999999999999" y2="331.6" stroke="#1a1a1a" stroke-width="1.1"/>
<line x1="512.8" y1="303.4" x2="515.8" y2="303.4" stroke="#1a1a1a" stroke-width="1.1"/>
<text x="511.5" y="306.3315088252584" font-size="8.4" text-anchor="end" font-weight="normal" font-style="normal" fill="#111" stroke="#111" stroke-width="0.15">5.0</text>
<line x1="512.8" y1="312.4" x2="515.8" y2="312.4" stroke="#1a1a1a" stroke-width="1.1"/>
<text x="511.5" y="315.2720134347976" font-size="8.4" text-anchor="end" font-weight="normal" font-style="normal" fill="#111" stroke="#111" stroke-width="0.15">3.0</text>
<line x1="512.8" y1="331.6" x2="515.8" y2="331.6" stroke="#1a1a1a" stroke-width="1.1"/>
<text x="511.5" y="334.5" font-size="8.4" text-anchor="end" font-weight="normal" font-style="normal" fill="#111" stroke="#111" stroke-width="0.15">1.0</text>
<line x1="512.8" y1="343.7" x2="515.8" y2="343.7" stroke="#1a1a1a" stroke-width="1.1"/>
<text x="511.5" y="346.63150882525844" font-size="8.4" text-anchor="end" font-weight="normal" font-style="normal" fill="#111" stroke="#111" stroke-width="0.15">0.5</text>
<text x="547.2" y="293.6" font-size="9.1" text-anchor="middle" font-weight="bold" font-style="normal" fill="#111" stroke="#111" stroke-width="0.15">TP</text>
<polyline points="518.5,331.2 537.5,329.0 556.6,327.7 575.7,326.0" fill="none" stroke="#4aac5e" stroke-width="1.35"/>
<path d="M518.5,328.7 L520.8,332.8 L516.2,332.8 Z" fill="#4aac5e"/>
<path d="M537.5,326.5 L539.8,330.6 L535.2,330.6 Z" fill="#4aac5e"/>
<path d="M556.6,325.2 L558.9,329.3 L554.3,329.3 Z" fill="#4aac5e"/>
<path d="M575.7,323.5 L578.0,327.6 L573.4,327.6 Z" fill="#4aac5e"/>
<polyline points="518.5,334.3 537.5,332.3 556.6,332.0 575.7,330.3" fill="none" stroke="#2e8b48" stroke-width="1.35"/>
<rect x="516.5" y="332.2" width="4.1" height="4.1" fill="#2e8b48"/>
<rect x="535.5" y="330.2" width="4.1" height="4.1" fill="#2e8b48"/>
<rect x="554.6" y="329.9" width="4.1" height="4.1" fill="#2e8b48"/>
<rect x="573.7" y="328.2" width="4.1" height="4.1" fill="#2e8b48"/>
<polyline points="518.5,331.0 537.5,323.1 556.6,317.2 575.7,311.9" fill="none" stroke="#78c679" stroke-width="1.35"/>
<circle cx="518.5" cy="331.0" r="2.05" fill="#78c679"/>
<circle cx="537.5" cy="323.1" r="2.05" fill="#78c679"/>
<circle cx="556.6" cy="317.2" r="2.05" fill="#78c679"/>
<circle cx="575.7" cy="311.9" r="2.05" fill="#78c679"/>
<polyline points="518.5,314.6 537.5,310.2 556.6,305.0 575.7,305.8" fill="none" stroke="#135e34" stroke-width="1.35"/>
<line x1="515.8" y1="314.6" x2="521.2" y2="314.6" stroke="#135e34" stroke-width="1"/>
<line x1="516.6" y1="312.7" x2="520.4" y2="316.5" stroke="#135e34" stroke-width="1"/>
<line x1="518.5" y1="311.9" x2="518.5" y2="317.3" stroke="#135e34" stroke-width="1"/>
<line x1="520.4" y1="312.7" x2="516.6" y2="316.5" stroke="#135e34" stroke-width="1"/>
<circle cx="518.5" cy="314.6" r="1.3" fill="#135e34"/>
<line x1="534.8" y1="310.2" x2="540.2" y2="310.2" stroke="#135e34" stroke-width="1"/>
<line x1="535.6" y1="308.3" x2="539.4" y2="312.1" stroke="#135e34" stroke-width="1"/>
<line x1="537.5" y1="307.5" x2="537.5" y2="312.9" stroke="#135e34" stroke-width="1"/>
<line x1="539.4" y1="308.3" x2="535.6" y2="312.1" stroke="#135e34" stroke-width="1"/>
<circle cx="537.5" cy="310.2" r="1.3" fill="#135e34"/>
<line x1="553.9" y1="305.0" x2="559.3" y2="305.0" stroke="#135e34" stroke-width="1"/>
<line x1="554.7" y1="303.1" x2="558.5" y2="306.9" stroke="#135e34" stroke-width="1"/>
<line x1="556.6" y1="302.3" x2="556.6" y2="307.7" stroke="#135e34" stroke-width="1"/>
<line x1="558.5" y1="303.1" x2="554.7" y2="306.9" stroke="#135e34" stroke-width="1"/>
<circle cx="556.6" cy="305.0" r="1.3" fill="#135e34"/>
<line x1="573.0" y1="305.8" x2="578.4" y2="305.8" stroke="#135e34" stroke-width="1"/>
<line x1="573.8" y1="303.9" x2="577.6" y2="307.7" stroke="#135e34" stroke-width="1"/>
<line x1="575.7" y1="303.1" x2="575.7" y2="308.5" stroke="#135e34" stroke-width="1"/>
<line x1="577.6" y1="303.9" x2="573.8" y2="307.7" stroke="#135e34" stroke-width="1"/>
<circle cx="575.7" cy="305.8" r="1.3" fill="#135e34"/>
<line x1="515.8" y1="371.9" x2="515.8" y2="420.20000000000005" stroke="#1a1a1a" stroke-width="1.2"/>
<line x1="515.1999999999999" y1="419.6" x2="578.8" y2="419.6" stroke="#1a1a1a" stroke-width="1.2"/>
<line x1="518.5" y1="419.6" x2="518.5" y2="422.6" stroke="#1a1a1a" stroke-width="1"/>
<line x1="537.5" y1="419.6" x2="537.5" y2="422.6" stroke="#1a1a1a" stroke-width="1"/>
<line x1="556.6" y1="419.6" x2="556.6" y2="422.6" stroke="#1a1a1a" stroke-width="1"/>
<line x1="575.7" y1="419.6" x2="575.7" y2="422.6" stroke="#1a1a1a" stroke-width="1"/>
<line x1="515.8" y1="415.7" x2="519.0" y2="415.7" stroke="#1a1a1a" stroke-width="0.9"/>
<line x1="515.8" y1="413.9" x2="519.0" y2="413.9" stroke="#1a1a1a" stroke-width="0.9"/>
<line x1="515.8" y1="412.3" x2="519.0" y2="412.3" stroke="#1a1a1a" stroke-width="0.9"/>
<line x1="515.8" y1="410.9" x2="519.0" y2="410.9" stroke="#1a1a1a" stroke-width="0.9"/>
<line x1="515.8" y1="401.5" x2="519.0" y2="401.5" stroke="#1a1a1a" stroke-width="0.9"/>
<line x1="515.8" y1="396.8" x2="519.0" y2="396.8" stroke="#1a1a1a" stroke-width="0.9"/>
<line x1="515.8" y1="393.4" x2="519.0" y2="393.4" stroke="#1a1a1a" stroke-width="0.9"/>
<line x1="515.8" y1="388.6" x2="519.0" y2="388.6" stroke="#1a1a1a" stroke-width="0.9"/>
<line x1="515.8" y1="386.8" x2="519.0" y2="386.8" stroke="#1a1a1a" stroke-width="0.9"/>
<line x1="515.8" y1="385.2" x2="519.0" y2="385.2" stroke="#1a1a1a" stroke-width="0.9"/>
<line x1="515.8" y1="383.8" x2="519.0" y2="383.8" stroke="#1a1a1a" stroke-width="0.9"/>
<line x1="515.8" y1="374.4" x2="519.0" y2="374.4" stroke="#1a1a1a" stroke-width="0.9"/>
<line x1="515.8" y1="417.9" x2="521.8" y2="417.9" stroke="#1a1a1a" stroke-width="1"/>
<line x1="515.8" y1="390.8" x2="521.8" y2="390.8" stroke="#1a1a1a" stroke-width="1"/>
<line x1="515.8" y1="409.7" x2="524.5999999999999" y2="409.7" stroke="#1a1a1a" stroke-width="1.1"/>
<line x1="515.8" y1="382.6" x2="524.5999999999999" y2="382.6" stroke="#1a1a1a" stroke-width="1.1"/>
<line x1="512.8" y1="382.6" x2="515.8" y2="382.6" stroke="#1a1a1a" stroke-width="1.1"/>
<text x="511.5" y="385.5" font-size="8.4" text-anchor="end" font-weight="normal" font-style="normal" fill="#111" stroke="#111" stroke-width="0.15">1.0</text>
<line x1="512.8" y1="396.8" x2="515.8" y2="396.8" stroke="#1a1a1a" stroke-width="1.1"/>
<text x="511.5" y="399.67001399709716" font-size="8.4" text-anchor="end" font-weight="normal" font-style="normal" fill="#111" stroke="#111" stroke-width="0.15">0.3</text>
<line x1="512.8" y1="409.7" x2="515.8" y2="409.7" stroke="#1a1a1a" stroke-width="1.1"/>
<text x="511.5" y="412.6" font-size="8.4" text-anchor="end" font-weight="normal" font-style="normal" fill="#111" stroke="#111" stroke-width="0.15">0.1</text>
<text x="547.2" y="366.4" font-size="9.1" text-anchor="middle" font-weight="bold" font-style="normal" fill="#111" stroke="#111" stroke-width="0.15">DIP</text>
<polyline points="518.5,407.1 537.5,406.1 556.6,401.4 575.7,397.9" fill="none" stroke="#4aac5e" stroke-width="1.35"/>
<path d="M518.5,404.6 L520.8,408.7 L516.2,408.7 Z" fill="#4aac5e"/>
<path d="M537.5,403.6 L539.8,407.7 L535.2,407.7 Z" fill="#4aac5e"/>
<path d="M556.6,398.9 L558.9,403.0 L554.3,403.0 Z" fill="#4aac5e"/>
<path d="M575.7,395.4 L578.0,399.5 L573.4,399.5 Z" fill="#4aac5e"/>
<polyline points="518.5,412.1 537.5,407.9 556.6,404.6 575.7,405.3" fill="none" stroke="#2e8b48" stroke-width="1.35"/>
<rect x="516.5" y="410.1" width="4.1" height="4.1" fill="#2e8b48"/>
<rect x="535.5" y="405.8" width="4.1" height="4.1" fill="#2e8b48"/>
<rect x="554.6" y="402.6" width="4.1" height="4.1" fill="#2e8b48"/>
<rect x="573.7" y="403.2" width="4.1" height="4.1" fill="#2e8b48"/>
<polyline points="518.5,389.6 537.5,388.6 556.6,381.4 575.7,378.9" fill="none" stroke="#78c679" stroke-width="1.35"/>
<circle cx="518.5" cy="389.6" r="2.05" fill="#78c679"/>
<circle cx="537.5" cy="388.6" r="2.05" fill="#78c679"/>
<circle cx="556.6" cy="381.4" r="2.05" fill="#78c679"/>
<circle cx="575.7" cy="378.9" r="2.05" fill="#78c679"/>
<polyline points="518.5,397.4 537.5,395.3 556.6,391.4 575.7,389.3" fill="none" stroke="#135e34" stroke-width="1.35"/>
<line x1="515.8" y1="397.4" x2="521.2" y2="397.4" stroke="#135e34" stroke-width="1"/>
<line x1="516.6" y1="395.5" x2="520.4" y2="399.3" stroke="#135e34" stroke-width="1"/>
<line x1="518.5" y1="394.7" x2="518.5" y2="400.1" stroke="#135e34" stroke-width="1"/>
<line x1="520.4" y1="395.5" x2="516.6" y2="399.3" stroke="#135e34" stroke-width="1"/>
<circle cx="518.5" cy="397.4" r="1.3" fill="#135e34"/>
<line x1="534.8" y1="395.3" x2="540.2" y2="395.3" stroke="#135e34" stroke-width="1"/>
<line x1="535.6" y1="393.4" x2="539.4" y2="397.2" stroke="#135e34" stroke-width="1"/>
<line x1="537.5" y1="392.6" x2="537.5" y2="398.0" stroke="#135e34" stroke-width="1"/>
<line x1="539.4" y1="393.4" x2="535.6" y2="397.2" stroke="#135e34" stroke-width="1"/>
<circle cx="537.5" cy="395.3" r="1.3" fill="#135e34"/>
<line x1="553.9" y1="391.4" x2="559.3" y2="391.4" stroke="#135e34" stroke-width="1"/>
<line x1="554.7" y1="389.5" x2="558.5" y2="393.3" stroke="#135e34" stroke-width="1"/>
<line x1="556.6" y1="388.7" x2="556.6" y2="394.1" stroke="#135e34" stroke-width="1"/>
<line x1="558.5" y1="389.5" x2="554.7" y2="393.3" stroke="#135e34" stroke-width="1"/>
<circle cx="556.6" cy="391.4" r="1.3" fill="#135e34"/>
<line x1="573.0" y1="389.3" x2="578.4" y2="389.3" stroke="#135e34" stroke-width="1"/>
<line x1="573.8" y1="387.4" x2="577.6" y2="391.2" stroke="#135e34" stroke-width="1"/>
<line x1="575.7" y1="386.6" x2="575.7" y2="392.0" stroke="#135e34" stroke-width="1"/>
<line x1="577.6" y1="387.4" x2="573.8" y2="391.2" stroke="#135e34" stroke-width="1"/>
<circle cx="575.7" cy="389.3" r="1.3" fill="#135e34"/>
<line x1="515.8" y1="446" x2="515.8" y2="493.20000000000005" stroke="#1a1a1a" stroke-width="1.2"/>
<line x1="515.1999999999999" y1="492.6" x2="578.8" y2="492.6" stroke="#1a1a1a" stroke-width="1.2"/>
<line x1="518.5" y1="492.6" x2="518.5" y2="495.6" stroke="#1a1a1a" stroke-width="1"/>
<line x1="537.5" y1="492.6" x2="537.5" y2="495.6" stroke="#1a1a1a" stroke-width="1"/>
<line x1="556.6" y1="492.6" x2="556.6" y2="495.6" stroke="#1a1a1a" stroke-width="1"/>
<line x1="575.7" y1="492.6" x2="575.7" y2="495.6" stroke="#1a1a1a" stroke-width="1"/>
<line x1="515.8" y1="478.3" x2="519.0" y2="478.3" stroke="#1a1a1a" stroke-width="0.9"/>
<line x1="515.8" y1="470.7" x2="519.0" y2="470.7" stroke="#1a1a1a" stroke-width="0.9"/>
<line x1="515.8" y1="465.4" x2="519.0" y2="465.4" stroke="#1a1a1a" stroke-width="0.9"/>
<line x1="515.8" y1="457.8" x2="519.0" y2="457.8" stroke="#1a1a1a" stroke-width="0.9"/>
<line x1="515.8" y1="454.9" x2="519.0" y2="454.9" stroke="#1a1a1a" stroke-width="0.9"/>
<line x1="515.8" y1="452.4" x2="519.0" y2="452.4" stroke="#1a1a1a" stroke-width="0.9"/>
<line x1="515.8" y1="450.2" x2="519.0" y2="450.2" stroke="#1a1a1a" stroke-width="0.9"/>
<line x1="515.8" y1="461.2" x2="521.8" y2="461.2" stroke="#1a1a1a" stroke-width="1"/>
<line x1="515.8" y1="491.3" x2="524.5999999999999" y2="491.3" stroke="#1a1a1a" stroke-width="1.1"/>
<line x1="515.8" y1="448.2" x2="524.5999999999999" y2="448.2" stroke="#1a1a1a" stroke-width="1.1"/>
<line x1="512.8" y1="448.2" x2="515.8" y2="448.2" stroke="#1a1a1a" stroke-width="1.1"/>
<text x="511.5" y="451.09999999999997" font-size="8.4" text-anchor="end" font-weight="normal" font-style="normal" fill="#111" stroke="#111" stroke-width="0.15">0.10</text>
<line x1="512.8" y1="470.7" x2="515.8" y2="470.7" stroke="#1a1a1a" stroke-width="1.1"/>
<text x="511.5" y="473.63607392158247" font-size="8.4" text-anchor="end" font-weight="normal" font-style="normal" fill="#111" stroke="#111" stroke-width="0.15">0.03</text>
<line x1="512.8" y1="491.3" x2="515.8" y2="491.3" stroke="#1a1a1a" stroke-width="1.1"/>
<text x="511.5" y="494.19999999999993" font-size="8.4" text-anchor="end" font-weight="normal" font-style="normal" fill="#111" stroke="#111" stroke-width="0.15">0.01</text>
<text x="547.2" y="440.4" font-size="9.1" text-anchor="middle" font-weight="bold" font-style="normal" fill="#111" stroke="#111" stroke-width="0.15">PolyP</text>
<polyline points="518.5,486.9 537.5,483.1 556.6,474.1 575.7,470.7" fill="none" stroke="#4aac5e" stroke-width="1.35"/>
<path d="M518.5,484.4 L520.8,488.5 L516.2,488.5 Z" fill="#4aac5e"/>
<path d="M537.5,480.6 L539.8,484.7 L535.2,484.7 Z" fill="#4aac5e"/>
<path d="M556.6,471.6 L558.9,475.7 L554.3,475.7 Z" fill="#4aac5e"/>
<path d="M575.7,468.2 L578.0,472.3 L573.4,472.3 Z" fill="#4aac5e"/>
<polyline points="518.5,486.9 537.5,486.9 556.6,471.7 575.7,471.7" fill="none" stroke="#2e8b48" stroke-width="1.35"/>
<rect x="516.5" y="484.8" width="4.1" height="4.1" fill="#2e8b48"/>
<rect x="535.5" y="484.8" width="4.1" height="4.1" fill="#2e8b48"/>
<rect x="554.6" y="469.6" width="4.1" height="4.1" fill="#2e8b48"/>
<rect x="573.7" y="469.6" width="4.1" height="4.1" fill="#2e8b48"/>
<polyline points="518.5,481.6 537.5,481.6 556.6,472.2 575.7,467.3" fill="none" stroke="#78c679" stroke-width="1.35"/>
<circle cx="518.5" cy="481.6" r="2.05" fill="#78c679"/>
<circle cx="537.5" cy="481.6" r="2.05" fill="#78c679"/>
<circle cx="556.6" cy="472.2" r="2.05" fill="#78c679"/>
<circle cx="575.7" cy="467.3" r="2.05" fill="#78c679"/>
<polyline points="518.5,471.7 537.5,469.8 556.6,460.8 575.7,459.7" fill="none" stroke="#135e34" stroke-width="1.35"/>
<line x1="515.8" y1="471.7" x2="521.2" y2="471.7" stroke="#135e34" stroke-width="1"/>
<line x1="516.6" y1="469.8" x2="520.4" y2="473.6" stroke="#135e34" stroke-width="1"/>
<line x1="518.5" y1="469.0" x2="518.5" y2="474.4" stroke="#135e34" stroke-width="1"/>
<line x1="520.4" y1="469.8" x2="516.6" y2="473.6" stroke="#135e34" stroke-width="1"/>
<circle cx="518.5" cy="471.7" r="1.3" fill="#135e34"/>
<line x1="534.8" y1="469.8" x2="540.2" y2="469.8" stroke="#135e34" stroke-width="1"/>
<line x1="535.6" y1="467.9" x2="539.4" y2="471.7" stroke="#135e34" stroke-width="1"/>
<line x1="537.5" y1="467.1" x2="537.5" y2="472.5" stroke="#135e34" stroke-width="1"/>
<line x1="539.4" y1="467.9" x2="535.6" y2="471.7" stroke="#135e34" stroke-width="1"/>
<circle cx="537.5" cy="469.8" r="1.3" fill="#135e34"/>
<line x1="553.9" y1="460.8" x2="559.3" y2="460.8" stroke="#135e34" stroke-width="1"/>
<line x1="554.7" y1="458.9" x2="558.5" y2="462.7" stroke="#135e34" stroke-width="1"/>
<line x1="556.6" y1="458.1" x2="556.6" y2="463.5" stroke="#135e34" stroke-width="1"/>
<line x1="558.5" y1="458.9" x2="554.7" y2="462.7" stroke="#135e34" stroke-width="1"/>
<circle cx="556.6" cy="460.8" r="1.3" fill="#135e34"/>
<line x1="573.0" y1="459.7" x2="578.4" y2="459.7" stroke="#135e34" stroke-width="1"/>
<line x1="573.8" y1="457.8" x2="577.6" y2="461.6" stroke="#135e34" stroke-width="1"/>
<line x1="575.7" y1="457.0" x2="575.7" y2="462.4" stroke="#135e34" stroke-width="1"/>
<line x1="577.6" y1="457.8" x2="573.8" y2="461.6" stroke="#135e34" stroke-width="1"/>
<circle cx="575.7" cy="459.7" r="1.3" fill="#135e34"/>
<text x="518.5" y="504.8" font-size="8.9" text-anchor="middle" font-weight="normal" font-style="normal" fill="#111" stroke="#111" stroke-width="0.15">7</text>
<text x="537.5" y="504.8" font-size="8.9" text-anchor="middle" font-weight="normal" font-style="normal" fill="#111" stroke="#111" stroke-width="0.15">8</text>
<text x="556.6" y="504.8" font-size="8.9" text-anchor="middle" font-weight="normal" font-style="normal" fill="#111" stroke="#111" stroke-width="0.15">9</text>
<text x="575.7" y="504.8" font-size="8.9" text-anchor="middle" font-weight="normal" font-style="normal" fill="#111" stroke="#111" stroke-width="0.15">10</text>
<text x="547.2" y="516.9" font-size="10.5" text-anchor="middle" font-weight="normal" font-style="normal" fill="#111" stroke="#111" stroke-width="0.2">pH</text>
<text transform="translate(486.5,131.9) rotate(-90)" font-size="10.9" text-anchor="middle" fill="#111" stroke="#111" stroke-width="0.2">P content (pg cell<tspan font-size="7" dy="-4">−1</tspan><tspan dy="4">)</tspan></text>
<text transform="translate(486.8,394) rotate(-90)" font-size="10.9" text-anchor="middle" fill="#111" stroke="#111" stroke-width="0.2">P content (pg cell<tspan font-size="7" dy="-4">−1</tspan><tspan dy="4">)</tspan></text>
<line x1="597" y1="238.8" x2="610.5" y2="238.8" stroke="#78c679" stroke-width="1.2"/>
<circle cx="603.5" cy="238.8" r="2.05" fill="#78c679"/>
<text x="618.3" y="241.9" font-size="8.8" text-anchor="start" font-weight="normal" font-style="italic" fill="#111" stroke="#111" stroke-width="0.15">M. aeruginosa</text>
<line x1="597" y1="255.85000000000002" x2="610.5" y2="255.85000000000002" stroke="#4aac5e" stroke-width="1.2"/>
<path d="M603.5,253.4 L605.8,257.5 L601.2,257.5 Z" fill="#4aac5e"/>
<text x="618.3" y="258.95000000000005" font-size="8.8" text-anchor="start" font-weight="normal" font-style="italic" fill="#111" stroke="#111" stroke-width="0.15">R. raciborskii</text>
<line x1="597" y1="272.90000000000003" x2="610.5" y2="272.90000000000003" stroke="#2e8b48" stroke-width="1.2"/>
<rect x="601.5" y="270.9" width="4.1" height="4.1" fill="#2e8b48"/>
<text x="618.3" y="276.00000000000006" font-size="8.8" text-anchor="start" font-weight="normal" font-style="italic" fill="#111" stroke="#111" stroke-width="0.15">D. flos–aquae</text>
<line x1="597" y1="289.95000000000005" x2="610.5" y2="289.95000000000005" stroke="#135e34" stroke-width="1.2"/>
<line x1="600.8" y1="290.0" x2="606.2" y2="290.0" stroke="#135e34" stroke-width="1"/>
<line x1="601.6" y1="288.1" x2="605.4" y2="291.8" stroke="#135e34" stroke-width="1"/>
<line x1="603.5" y1="287.3" x2="603.5" y2="292.6" stroke="#135e34" stroke-width="1"/>
<line x1="605.4" y1="288.1" x2="601.6" y2="291.8" stroke="#135e34" stroke-width="1"/>
<circle cx="603.5" cy="290.0" r="1.3" fill="#135e34"/>
<text x="618.3" y="293.05000000000007" font-size="8.8" text-anchor="start" font-weight="normal" font-style="italic" fill="#111" stroke="#111" stroke-width="0.15">A. flos–aquae</text>
</svg></body></html>
